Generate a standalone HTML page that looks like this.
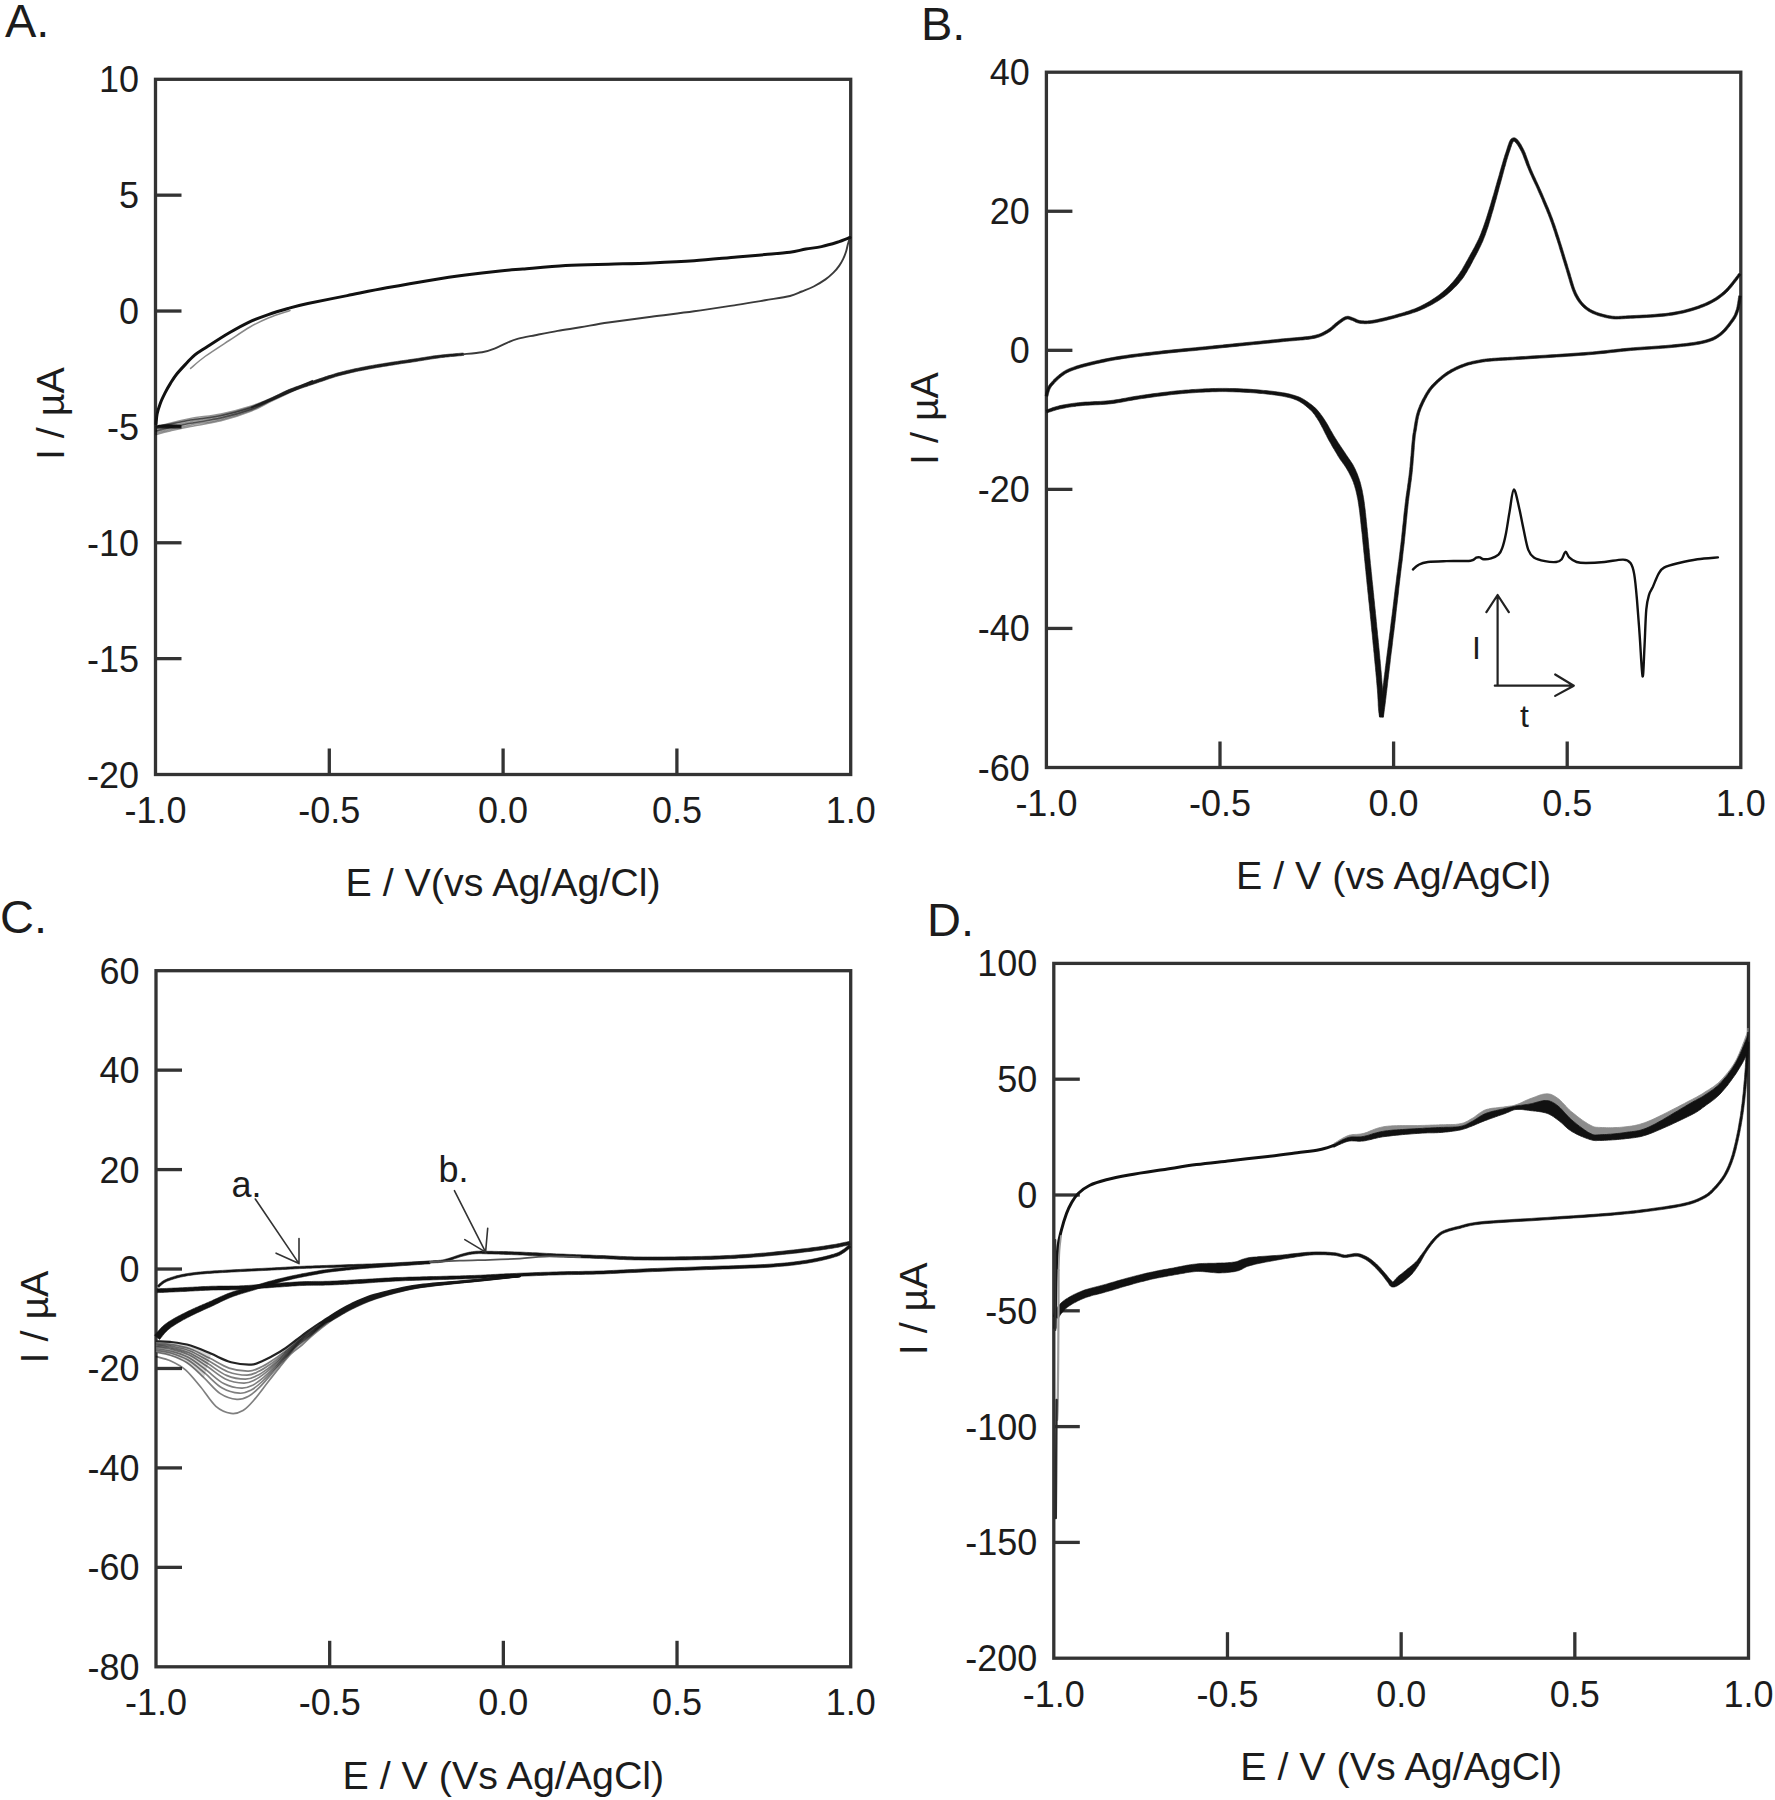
<!DOCTYPE html>
<html><head><meta charset="utf-8"><title>Figure</title>
<style>
html,body{margin:0;padding:0;background:#fff;}
svg{display:block;}
text{font-family:'Liberation Sans', Arial, sans-serif;font-size:36px;fill:#1c1c1c;}
</style></head>
<body>
<svg width="1775" height="1800" viewBox="0 0 1775 1800">
<rect width="1775" height="1800" fill="#fff"/>
<g>
<rect x="155.5" y="79.3" width="695.20" height="695.20" fill="none" stroke="#333" stroke-width="3.3"/>
<line x1="329.30" y1="774.5" x2="329.30" y2="748.5" stroke="#333" stroke-width="3.3"/>
<line x1="503.10" y1="774.5" x2="503.10" y2="748.5" stroke="#333" stroke-width="3.3"/>
<line x1="676.90" y1="774.5" x2="676.90" y2="748.5" stroke="#333" stroke-width="3.3"/>
<text x="155.50" y="823.00" text-anchor="middle">-1.0</text>
<text x="329.30" y="823.00" text-anchor="middle">-0.5</text>
<text x="503.10" y="823.00" text-anchor="middle">0.0</text>
<text x="676.90" y="823.00" text-anchor="middle">0.5</text>
<text x="850.70" y="823.00" text-anchor="middle">1.0</text>
<text x="139.00" y="787.50" text-anchor="end">-20</text>
<line x1="155.5" y1="658.63" x2="181.5" y2="658.63" stroke="#333" stroke-width="3.3"/>
<text x="139.00" y="671.63" text-anchor="end">-15</text>
<line x1="155.5" y1="542.77" x2="181.5" y2="542.77" stroke="#333" stroke-width="3.3"/>
<text x="139.00" y="555.77" text-anchor="end">-10</text>
<line x1="155.5" y1="426.90" x2="181.5" y2="426.90" stroke="#333" stroke-width="3.3"/>
<text x="139.00" y="439.90" text-anchor="end">-5</text>
<line x1="155.5" y1="311.03" x2="181.5" y2="311.03" stroke="#333" stroke-width="3.3"/>
<text x="139.00" y="324.03" text-anchor="end">0</text>
<line x1="155.5" y1="195.17" x2="181.5" y2="195.17" stroke="#333" stroke-width="3.3"/>
<text x="139.00" y="208.17" text-anchor="end">5</text>
<text x="139.00" y="92.30" text-anchor="end">10</text>
<text x="503.10" y="896.20" text-anchor="middle" style="font-size:39.4px">E / V(vs Ag/Ag/Cl)</text>
<rect x="1046.4" y="72.2" width="694.40" height="695.30" fill="none" stroke="#333" stroke-width="3.3"/>
<line x1="1220.00" y1="767.5" x2="1220.00" y2="741.5" stroke="#333" stroke-width="3.3"/>
<line x1="1393.60" y1="767.5" x2="1393.60" y2="741.5" stroke="#333" stroke-width="3.3"/>
<line x1="1567.20" y1="767.5" x2="1567.20" y2="741.5" stroke="#333" stroke-width="3.3"/>
<text x="1046.40" y="816.00" text-anchor="middle">-1.0</text>
<text x="1220.00" y="816.00" text-anchor="middle">-0.5</text>
<text x="1393.60" y="816.00" text-anchor="middle">0.0</text>
<text x="1567.20" y="816.00" text-anchor="middle">0.5</text>
<text x="1740.80" y="816.00" text-anchor="middle">1.0</text>
<text x="1029.90" y="780.50" text-anchor="end">-60</text>
<line x1="1046.4" y1="628.44" x2="1072.4" y2="628.44" stroke="#333" stroke-width="3.3"/>
<text x="1029.90" y="641.44" text-anchor="end">-40</text>
<line x1="1046.4" y1="489.38" x2="1072.4" y2="489.38" stroke="#333" stroke-width="3.3"/>
<text x="1029.90" y="502.38" text-anchor="end">-20</text>
<line x1="1046.4" y1="350.32" x2="1072.4" y2="350.32" stroke="#333" stroke-width="3.3"/>
<text x="1029.90" y="363.32" text-anchor="end">0</text>
<line x1="1046.4" y1="211.26" x2="1072.4" y2="211.26" stroke="#333" stroke-width="3.3"/>
<text x="1029.90" y="224.26" text-anchor="end">20</text>
<text x="1029.90" y="85.20" text-anchor="end">40</text>
<text x="1393.60" y="889.20" text-anchor="middle" style="font-size:39.4px">E / V (vs Ag/AgCl)</text>
<rect x="156.0" y="970.7" width="694.70" height="696.10" fill="none" stroke="#333" stroke-width="3.3"/>
<line x1="329.68" y1="1666.8" x2="329.68" y2="1640.8" stroke="#333" stroke-width="3.3"/>
<line x1="503.35" y1="1666.8" x2="503.35" y2="1640.8" stroke="#333" stroke-width="3.3"/>
<line x1="677.03" y1="1666.8" x2="677.03" y2="1640.8" stroke="#333" stroke-width="3.3"/>
<text x="156.00" y="1715.30" text-anchor="middle">-1.0</text>
<text x="329.68" y="1715.30" text-anchor="middle">-0.5</text>
<text x="503.35" y="1715.30" text-anchor="middle">0.0</text>
<text x="677.03" y="1715.30" text-anchor="middle">0.5</text>
<text x="850.70" y="1715.30" text-anchor="middle">1.0</text>
<text x="139.50" y="1679.80" text-anchor="end">-80</text>
<line x1="156.0" y1="1567.36" x2="182.0" y2="1567.36" stroke="#333" stroke-width="3.3"/>
<text x="139.50" y="1580.36" text-anchor="end">-60</text>
<line x1="156.0" y1="1467.91" x2="182.0" y2="1467.91" stroke="#333" stroke-width="3.3"/>
<text x="139.50" y="1480.91" text-anchor="end">-40</text>
<line x1="156.0" y1="1368.47" x2="182.0" y2="1368.47" stroke="#333" stroke-width="3.3"/>
<text x="139.50" y="1381.47" text-anchor="end">-20</text>
<line x1="156.0" y1="1269.03" x2="182.0" y2="1269.03" stroke="#333" stroke-width="3.3"/>
<text x="139.50" y="1282.03" text-anchor="end">0</text>
<line x1="156.0" y1="1169.59" x2="182.0" y2="1169.59" stroke="#333" stroke-width="3.3"/>
<text x="139.50" y="1182.59" text-anchor="end">20</text>
<line x1="156.0" y1="1070.14" x2="182.0" y2="1070.14" stroke="#333" stroke-width="3.3"/>
<text x="139.50" y="1083.14" text-anchor="end">40</text>
<text x="139.50" y="983.70" text-anchor="end">60</text>
<text x="503.35" y="1788.50" text-anchor="middle" style="font-size:39.4px">E / V (Vs Ag/AgCl)</text>
<rect x="1053.8" y="963.4" width="694.70" height="694.80" fill="none" stroke="#333" stroke-width="3.3"/>
<line x1="1227.47" y1="1658.2" x2="1227.47" y2="1632.2" stroke="#333" stroke-width="3.3"/>
<line x1="1401.15" y1="1658.2" x2="1401.15" y2="1632.2" stroke="#333" stroke-width="3.3"/>
<line x1="1574.83" y1="1658.2" x2="1574.83" y2="1632.2" stroke="#333" stroke-width="3.3"/>
<text x="1053.80" y="1706.70" text-anchor="middle">-1.0</text>
<text x="1227.47" y="1706.70" text-anchor="middle">-0.5</text>
<text x="1401.15" y="1706.70" text-anchor="middle">0.0</text>
<text x="1574.83" y="1706.70" text-anchor="middle">0.5</text>
<text x="1748.50" y="1706.70" text-anchor="middle">1.0</text>
<text x="1037.30" y="1671.20" text-anchor="end">-200</text>
<line x1="1053.8" y1="1542.40" x2="1079.8" y2="1542.40" stroke="#333" stroke-width="3.3"/>
<text x="1037.30" y="1555.40" text-anchor="end">-150</text>
<line x1="1053.8" y1="1426.60" x2="1079.8" y2="1426.60" stroke="#333" stroke-width="3.3"/>
<text x="1037.30" y="1439.60" text-anchor="end">-100</text>
<line x1="1053.8" y1="1310.80" x2="1079.8" y2="1310.80" stroke="#333" stroke-width="3.3"/>
<text x="1037.30" y="1323.80" text-anchor="end">-50</text>
<line x1="1053.8" y1="1195.00" x2="1079.8" y2="1195.00" stroke="#333" stroke-width="3.3"/>
<text x="1037.30" y="1208.00" text-anchor="end">0</text>
<line x1="1053.8" y1="1079.20" x2="1079.8" y2="1079.20" stroke="#333" stroke-width="3.3"/>
<text x="1037.30" y="1092.20" text-anchor="end">50</text>
<text x="1037.30" y="976.40" text-anchor="end">100</text>
<text x="1401.15" y="1779.90" text-anchor="middle" style="font-size:39.4px">E / V (Vs Ag/AgCl)</text>
<text transform="translate(63.6,413.7) rotate(-90)" text-anchor="middle" style="font-size:39.4px">I / &#181;A</text>
<text transform="translate(938.1,418.5) rotate(-90)" text-anchor="middle" style="font-size:39.4px">I / &#181;A</text>
<text transform="translate(48.1,1317.0) rotate(-90)" text-anchor="middle" style="font-size:39.4px">I / &#181;A</text>
<text transform="translate(926.9,1308.8) rotate(-90)" text-anchor="middle" style="font-size:39.4px">I / &#181;A</text>
<text x="231.5" y="1196.5" style="font-size:36px">a.</text>
<text x="438.5" y="1181.5" style="font-size:36px">b.</text>
<text x="1472" y="658.5" style="font-size:32px">I</text>
<text x="1520" y="727" style="font-size:32px">t</text>
<text x="5" y="36.6" style="font-size:47px">A.</text>
<text x="921" y="40" style="font-size:47px">B.</text>
<text x="0" y="933" style="font-size:47px">C.</text>
<text x="927" y="935.8" style="font-size:47px">D.</text>
<path d="M156.0,428.0C157.5,427.4 159.2,426.1 165.0,424.5C170.8,422.9 181.3,420.2 190.6,418.5C199.9,416.8 210.9,416.1 221.0,414.0C231.1,411.9 243.0,408.7 251.4,406.0C259.9,403.3 264.9,400.8 271.7,398.0C278.5,395.2 285.2,392.2 292.0,389.3C298.8,386.4 308.9,382.1 312.3,380.6" fill="none" stroke="#000" stroke-width="1.50" stroke-linecap="round" stroke-linejoin="round" stroke-opacity="0.42"/>
<path d="M156.0,429.3C157.7,428.7 160.2,427.3 166.0,425.8C171.8,424.3 181.4,421.8 190.6,420.1C199.8,418.4 210.9,417.5 221.0,415.4C231.1,413.2 242.9,409.8 251.4,407.0C259.9,404.2 264.9,401.5 271.7,398.6C278.5,395.7 285.2,392.7 292.0,389.7C298.8,386.8 308.9,382.4 312.3,380.9" fill="none" stroke="#000" stroke-width="1.50" stroke-linecap="round" stroke-linejoin="round" stroke-opacity="0.42"/>
<path d="M156.0,430.6C157.8,430.0 161.2,428.6 167.0,427.1C172.8,425.6 181.6,423.4 190.6,421.7C199.6,420.0 210.9,419.0 221.0,416.7C231.1,414.4 243.0,410.9 251.4,408.0C259.9,405.1 264.9,402.2 271.7,399.2C278.5,396.2 285.2,393.2 292.0,390.2C298.8,387.2 308.9,382.7 312.3,381.2" fill="none" stroke="#000" stroke-width="1.50" stroke-linecap="round" stroke-linejoin="round" stroke-opacity="0.42"/>
<path d="M156.0,431.9C158.0,431.3 162.2,429.8 168.0,428.4C173.8,427.0 181.8,425.0 190.6,423.3C199.4,421.6 210.9,420.5 221.0,418.1C231.1,415.7 243.0,412.0 251.4,409.0C259.9,406.0 264.9,402.9 271.7,399.8C278.5,396.7 285.2,393.7 292.0,390.6C298.8,387.6 308.9,383.0 312.3,381.4" fill="none" stroke="#000" stroke-width="1.50" stroke-linecap="round" stroke-linejoin="round" stroke-opacity="0.42"/>
<path d="M156.0,433.2C158.2,432.6 163.2,431.1 169.0,429.7C174.8,428.3 181.9,426.6 190.6,424.9C199.3,423.2 210.9,421.9 221.0,419.4C231.1,417.0 242.9,413.2 251.4,410.0C259.8,406.8 264.9,403.6 271.7,400.4C278.5,397.2 285.2,394.2 292.0,391.1C298.8,387.9 308.9,383.3 312.3,381.7" fill="none" stroke="#000" stroke-width="1.50" stroke-linecap="round" stroke-linejoin="round" stroke-opacity="0.42"/>
<path d="M156.0,434.5C158.3,433.9 164.2,432.3 170.0,431.0C175.8,429.7 182.1,428.2 190.6,426.5C199.1,424.8 210.9,423.4 221.0,420.8C231.1,418.2 243.0,414.3 251.4,411.0C259.9,407.7 264.9,404.2 271.7,401.0C278.5,397.8 285.2,394.7 292.0,391.5C298.8,388.3 308.9,383.6 312.3,382.0" fill="none" stroke="#000" stroke-width="1.50" stroke-linecap="round" stroke-linejoin="round" stroke-opacity="0.42"/>
<path d="M156.0,431.0C158.3,430.4 164.2,428.8 170.0,427.5C175.8,426.2 182.1,424.9 190.6,423.3C199.1,421.7 210.9,420.3 221.0,418.0C231.1,415.7 243.0,412.3 251.4,409.3C259.9,406.3 264.9,403.1 271.7,400.0C278.5,396.9 285.2,393.9 292.0,390.8C298.8,387.7 306.0,384.0 312.3,381.5C318.6,379.0 327.1,376.8 330.0,375.8" fill="none" stroke="#000" stroke-width="1.50" stroke-linecap="round" stroke-linejoin="round" stroke-opacity="0.45"/>
<path d="M156.0,426.5C158.3,426.1 164.2,425.1 170.0,424.0C175.8,422.9 182.1,421.4 190.6,420.0C199.1,418.6 210.9,417.6 221.0,415.5C231.1,413.4 243.0,410.2 251.4,407.5C259.9,404.8 268.3,400.4 271.7,399.0" fill="none" stroke="#000" stroke-width="1.60" stroke-linecap="round" stroke-linejoin="round" stroke-opacity="0.5"/>
<path d="M251.6,408.1 L252.6,407.7 L253.9,407.2 L255.4,406.6 L257.0,406.0 L258.8,405.3 L260.7,404.6 L262.7,403.8 L264.7,403.0 L266.7,402.2 L268.6,401.4 L270.4,400.7 L272.1,400.0 L273.7,399.3 L275.3,398.7 L276.8,398.0 L278.2,397.3 L279.7,396.7 L281.1,396.0 L282.6,395.4 L284.1,394.7 L285.6,394.1 L287.2,393.4 L288.8,392.8 L290.5,392.1 L292.4,391.4 L294.3,390.7 L296.2,390.0 L298.3,389.3 L300.4,388.5 L302.5,387.8 L304.6,387.1 L306.8,386.4 L308.9,385.6 L311.1,384.9 L313.2,384.2 L315.3,383.5 L317.4,382.8 L319.4,382.1 L321.5,381.4 L323.6,380.7 L325.6,380.0 L327.7,379.3 L329.7,378.6 L331.8,377.9 L333.8,377.3 L335.9,376.6 L338.0,376.0 L340.0,375.4 L342.1,374.9 L344.1,374.4 L346.2,373.9 L348.2,373.4 L350.3,372.9 L352.3,372.4 L354.4,372.0 L356.4,371.5 L358.5,371.1 L360.6,370.7 L362.6,370.3 L364.7,369.9 L366.8,369.5 L368.8,369.1 L370.9,368.7 L372.9,368.3 L375.0,367.9 L377.0,367.6 L379.1,367.2 L381.2,366.9 L383.2,366.5 L385.3,366.2 L387.4,365.9 L389.4,365.5 L391.5,365.2 L393.6,364.9 L395.6,364.6 L397.7,364.2 L399.7,363.9 L401.8,363.6 L403.9,363.3 L405.9,363.0 L408.0,362.7 L410.1,362.4 L412.1,362.1 L414.2,361.8 L416.3,361.5 L418.3,361.1 L420.4,360.8 L422.5,360.4 L424.5,360.1 L426.6,359.8 L428.6,359.4 L430.7,359.1 L432.7,358.8 L434.8,358.5 L436.8,358.2 L438.9,357.9 L441.0,357.6 L443.3,357.4 L445.6,357.1 L448.0,356.9 L450.4,356.6 L452.8,356.4 L455.0,356.2 L457.2,356.0 L459.1,355.8 L460.9,355.7 L462.4,355.5 L463.6,355.4 L463.4,353.0 L462.2,353.1 L460.7,353.2 L458.9,353.4 L457.0,353.5 L454.8,353.7 L452.5,353.9 L450.2,354.1 L447.8,354.3 L445.3,354.6 L443.0,354.8 L440.7,355.1 L438.5,355.3 L436.5,355.6 L434.4,355.8 L432.3,356.1 L430.3,356.4 L428.2,356.8 L426.1,357.1 L424.1,357.4 L422.0,357.7 L420.0,358.1 L417.9,358.4 L415.8,358.7 L413.8,359.0 L411.7,359.3 L409.7,359.6 L407.6,359.9 L405.5,360.2 L403.5,360.5 L401.4,360.8 L399.3,361.1 L397.3,361.4 L395.2,361.7 L393.1,362.0 L391.0,362.3 L389.0,362.7 L386.9,363.0 L384.8,363.3 L382.8,363.7 L380.7,364.0 L378.6,364.3 L376.6,364.7 L374.5,365.0 L372.4,365.4 L370.3,365.8 L368.3,366.1 L366.2,366.5 L364.1,366.9 L362.0,367.3 L360.0,367.8 L357.9,368.2 L355.8,368.6 L353.8,369.0 L351.7,369.5 L349.6,370.0 L347.5,370.4 L345.4,370.9 L343.4,371.5 L341.3,372.0 L339.2,372.6 L337.1,373.1 L335.0,373.8 L333.0,374.4 L330.9,375.1 L328.8,375.7 L326.7,376.4 L324.6,377.1 L322.6,377.9 L320.5,378.6 L318.4,379.3 L316.4,380.0 L314.3,380.7 L312.2,381.4 L310.1,382.1 L308.0,382.8 L305.8,383.5 L303.7,384.2 L301.5,385.0 L299.4,385.7 L297.3,386.4 L295.2,387.1 L293.2,387.9 L291.3,388.6 L289.5,389.3 L287.7,390.0 L286.0,390.8 L284.4,391.5 L282.9,392.2 L281.4,393.0 L280.0,393.7 L278.6,394.4 L277.2,395.1 L275.8,395.8 L274.3,396.5 L272.8,397.3 L271.3,398.0 L269.6,398.8 L267.8,399.6 L265.9,400.4 L264.0,401.3 L262.0,402.1 L260.1,403.0 L258.2,403.8 L256.4,404.6 L254.8,405.3 L253.4,405.9 L252.1,406.5 L251.2,406.9Z" fill="#1c1c1c" stroke="#1c1c1c" stroke-width="0.6" stroke-linejoin="round"/>
<path d="M463.5,354.2C466.6,353.9 476.9,353.2 482.1,352.3C487.3,351.4 490.4,350.2 494.5,348.6C498.6,347.0 503.0,344.5 507.0,342.8C511.0,341.1 513.6,340.0 518.3,338.7C523.0,337.4 528.6,336.5 535.2,335.2C541.8,333.9 550.2,332.2 557.7,330.9C565.2,329.6 571.8,328.7 580.3,327.3C588.8,325.9 596.6,324.2 608.4,322.5C620.2,320.8 637.0,318.7 651.3,316.8C665.6,314.9 679.8,313.3 694.1,311.3C708.4,309.3 725.1,306.7 736.9,304.9C748.7,303.1 756.1,301.8 765.0,300.3C773.9,298.8 783.9,297.5 790.0,296.0C796.1,294.5 797.8,293.1 801.8,291.5C805.8,289.9 809.8,288.5 813.7,286.5C817.7,284.5 822.2,281.7 825.5,279.4C828.8,277.1 831.1,275.0 833.4,272.7C835.7,270.4 837.7,267.9 839.3,265.6C840.9,263.3 842.1,261.2 843.2,258.9C844.3,256.6 845.2,254.2 846.0,251.8C846.8,249.4 847.2,246.6 847.8,244.5C848.4,242.4 849.2,239.9 849.5,239.0" fill="none" stroke="#3a3a3a" stroke-width="1.90" stroke-linecap="round" stroke-linejoin="round"/>
<path d="M159.0,426.0C160.5,425.9 164.5,425.5 168.0,425.5C171.5,425.5 178.0,425.9 180.0,426.0" fill="none" stroke="#111" stroke-width="2.50" stroke-linecap="round" stroke-linejoin="round"/>
<path d="M190.6,368.4C193.0,366.4 198.6,361.1 205.0,356.5C211.4,351.9 221.6,345.4 229.1,340.5C236.6,335.6 243.5,330.8 250.0,327.0C256.5,323.2 261.6,320.8 268.3,318.0C275.0,315.2 286.4,311.8 290.0,310.5" fill="none" stroke="#888" stroke-width="1.50" stroke-linecap="round" stroke-linejoin="round"/>
<path d="M156.0,424.0C156.2,422.3 156.4,417.4 157.1,414.0C157.8,410.6 158.8,407.4 160.1,403.9C161.4,400.3 163.5,396.1 165.2,392.7C166.9,389.3 168.4,386.6 170.3,383.6C172.2,380.6 174.0,377.5 176.4,374.5C178.8,371.5 181.5,368.6 184.5,365.4C187.5,362.2 190.9,358.3 194.6,355.2C198.3,352.1 201.1,350.7 206.8,347.0C212.5,343.3 221.9,337.1 228.9,333.0C235.9,328.9 242.0,325.4 248.6,322.3C255.2,319.2 261.7,316.9 268.3,314.6C274.9,312.3 281.4,310.4 288.0,308.5C294.6,306.6 297.9,305.6 307.8,303.5C317.7,301.4 334.1,298.2 347.2,295.6C360.3,293.0 373.5,290.2 386.6,287.8C399.8,285.4 413.0,283.0 426.1,280.9C439.2,278.8 453.2,276.6 465.5,275.0C477.8,273.4 490.4,272.0 500.0,271.0C509.6,270.0 511.9,269.9 522.8,269.0C533.7,268.1 551.3,266.4 565.6,265.6C579.9,264.8 594.1,264.6 608.4,264.2C622.7,263.8 637.0,263.6 651.3,263.0C665.6,262.4 679.8,261.8 694.1,260.8C708.4,259.8 725.1,258.0 736.9,257.0C748.7,256.0 756.1,255.4 765.0,254.6C773.9,253.8 783.2,253.1 790.0,252.2C796.8,251.3 800.5,250.0 805.8,249.1C811.0,248.2 816.2,247.7 821.5,246.6C826.8,245.5 832.5,243.8 837.3,242.3C842.0,240.8 847.9,238.3 850.0,237.5" fill="none" stroke="#111" stroke-width="3.00" stroke-linecap="round" stroke-linejoin="round"/>
<path d="M1738.7,295.8 L1738.6,296.5 L1738.5,297.4 L1738.3,298.4 L1738.2,299.6 L1738.0,300.8 L1737.8,302.1 L1737.6,303.5 L1737.3,304.8 L1737.1,306.2 L1736.8,307.4 L1736.6,308.6 L1736.3,309.6 L1735.9,310.6 L1735.6,311.5 L1735.3,312.3 L1735.0,313.1 L1734.7,313.9 L1734.4,314.7 L1734.0,315.4 L1733.5,316.2 L1733.1,317.0 L1732.5,317.9 L1731.9,318.8 L1731.2,319.7 L1730.5,320.8 L1729.6,322.0 L1728.7,323.2 L1727.8,324.4 L1726.8,325.7 L1725.8,327.0 L1724.7,328.2 L1723.6,329.5 L1722.5,330.6 L1721.3,331.7 L1720.2,332.7 L1719.0,333.7 L1717.9,334.5 L1716.7,335.3 L1715.6,336.0 L1714.5,336.6 L1713.3,337.2 L1712.1,337.8 L1710.8,338.3 L1709.5,338.8 L1708.0,339.3 L1706.4,339.8 L1704.7,340.3 L1702.8,340.7 L1700.8,341.2 L1698.6,341.6 L1696.3,342.0 L1693.9,342.4 L1691.4,342.7 L1688.8,343.1 L1686.2,343.4 L1683.4,343.7 L1680.6,344.0 L1677.7,344.3 L1674.7,344.6 L1671.7,344.9 L1668.6,345.2 L1665.4,345.5 L1662.0,345.7 L1658.6,346.0 L1655.1,346.2 L1651.6,346.5 L1648.0,346.7 L1644.4,346.9 L1640.8,347.2 L1637.2,347.4 L1633.6,347.7 L1630.1,348.0 L1626.7,348.3 L1623.4,348.6 L1620.1,349.0 L1616.9,349.3 L1613.7,349.7 L1610.5,350.0 L1607.2,350.4 L1603.8,350.8 L1600.3,351.1 L1596.5,351.5 L1592.6,351.9 L1588.4,352.2 L1583.8,352.6 L1578.8,352.9 L1573.5,353.3 L1567.9,353.7 L1562.2,354.1 L1556.4,354.5 L1550.7,354.8 L1545.1,355.2 L1539.7,355.5 L1534.7,355.8 L1530.0,356.1 L1525.8,356.4 L1522.1,356.6 L1518.7,356.8 L1515.5,357.0 L1512.6,357.2 L1509.9,357.3 L1507.4,357.5 L1505.1,357.6 L1502.9,357.7 L1500.8,357.8 L1498.8,357.9 L1496.8,358.1 L1494.9,358.2 L1493.1,358.3 L1491.5,358.5 L1490.0,358.6 L1488.7,358.7 L1487.5,358.8 L1486.4,358.9 L1485.4,359.0 L1484.3,359.2 L1483.3,359.3 L1482.2,359.5 L1481.0,359.7 L1479.8,359.9 L1478.5,360.2 L1477.1,360.4 L1475.8,360.7 L1474.5,360.9 L1473.1,361.2 L1471.8,361.5 L1470.4,361.9 L1469.1,362.2 L1467.7,362.6 L1466.3,363.0 L1464.9,363.5 L1463.6,364.0 L1462.2,364.5 L1460.8,365.0 L1459.4,365.6 L1458.0,366.2 L1456.6,366.8 L1455.2,367.5 L1453.8,368.2 L1452.4,368.9 L1451.0,369.6 L1449.7,370.4 L1448.3,371.3 L1447.0,372.1 L1445.6,373.0 L1444.3,374.0 L1443.0,375.0 L1441.6,376.1 L1440.3,377.2 L1439.0,378.3 L1437.7,379.4 L1436.4,380.5 L1435.2,381.7 L1434.1,382.8 L1433.0,383.9 L1431.9,385.0 L1431.0,386.1 L1430.1,387.2 L1429.3,388.2 L1428.5,389.3 L1427.8,390.3 L1427.1,391.4 L1426.4,392.4 L1425.8,393.5 L1425.2,394.6 L1424.6,395.6 L1424.0,396.8 L1423.4,397.9 L1422.7,399.0 L1422.1,400.2 L1421.5,401.4 L1421.0,402.6 L1420.4,403.9 L1419.8,405.1 L1419.3,406.4 L1418.8,407.7 L1418.3,409.0 L1417.8,410.3 L1417.4,411.6 L1417.0,412.9 L1416.6,414.3 L1416.2,415.7 L1415.9,417.2 L1415.6,418.7 L1415.3,420.2 L1415.0,421.7 L1414.8,423.1 L1414.5,424.6 L1414.3,426.0 L1414.1,427.3 L1413.9,428.6 L1413.7,429.8 L1413.5,430.8 L1413.4,431.7 L1413.3,432.5 L1413.1,433.1 L1413.0,433.8 L1412.9,434.4 L1412.8,435.1 L1412.7,435.9 L1412.6,436.8 L1412.5,437.9 L1412.4,439.3 L1412.2,440.9 L1412.0,442.8 L1411.8,444.9 L1411.6,447.2 L1411.4,449.8 L1411.2,452.4 L1411.0,455.2 L1410.7,458.0 L1410.5,460.9 L1410.2,463.7 L1410.0,466.6 L1409.7,469.4 L1409.4,472.0 L1409.1,474.7 L1408.8,477.2 L1408.4,479.8 L1408.1,482.4 L1407.7,484.9 L1407.4,487.5 L1407.0,490.2 L1406.6,492.8 L1406.2,495.6 L1405.8,498.4 L1405.5,501.2 L1405.1,504.2 L1404.8,507.3 L1404.4,510.5 L1404.0,513.7 L1403.7,517.1 L1403.4,520.5 L1403.0,523.9 L1402.6,527.3 L1402.3,530.8 L1401.9,534.3 L1401.6,537.7 L1401.2,541.1 L1400.8,544.5 L1400.4,547.9 L1400.0,551.2 L1399.6,554.6 L1399.2,557.9 L1398.8,561.3 L1398.3,564.6 L1397.9,568.0 L1397.5,571.4 L1397.0,574.7 L1396.6,578.1 L1396.2,581.4 L1395.8,584.8 L1395.3,588.1 L1394.9,591.5 L1394.5,594.9 L1394.1,598.2 L1393.7,601.6 L1393.3,604.9 L1392.9,608.3 L1392.5,611.6 L1392.1,615.0 L1391.6,618.4 L1391.2,621.7 L1390.8,625.1 L1390.4,628.5 L1390.0,631.9 L1389.5,635.3 L1389.1,638.8 L1388.6,642.3 L1388.2,645.7 L1387.8,649.1 L1387.3,652.5 L1386.9,655.9 L1386.5,659.1 L1386.1,662.3 L1385.7,665.4 L1385.3,668.4 L1385.0,671.3 L1384.6,674.3 L1384.2,677.2 L1383.9,680.0 L1383.6,682.8 L1383.2,685.5 L1382.9,688.1 L1382.6,690.6 L1382.3,693.0 L1382.0,695.3 L1381.7,697.5 L1381.5,699.7 L1381.2,701.7 L1381.0,703.7 L1380.7,705.6 L1380.5,707.4 L1380.3,709.2 L1380.1,710.8 L1379.9,712.2 L1379.8,713.6 L1379.6,714.8 L1379.5,715.9 L1379.4,716.8 L1383.4,717.2 L1383.5,716.4 L1383.6,715.3 L1383.8,714.1 L1384.0,712.8 L1384.2,711.3 L1384.4,709.7 L1384.6,707.9 L1384.9,706.1 L1385.1,704.2 L1385.4,702.2 L1385.6,700.2 L1385.9,698.1 L1386.1,695.9 L1386.4,693.5 L1386.7,691.1 L1387.0,688.6 L1387.3,686.0 L1387.6,683.3 L1387.9,680.5 L1388.3,677.7 L1388.6,674.8 L1389.0,671.8 L1389.3,668.9 L1389.7,665.8 L1390.1,662.8 L1390.4,659.6 L1390.8,656.3 L1391.2,653.0 L1391.7,649.6 L1392.1,646.2 L1392.5,642.7 L1392.9,639.3 L1393.3,635.8 L1393.8,632.3 L1394.2,628.9 L1394.6,625.5 L1395.0,622.2 L1395.4,618.8 L1395.8,615.4 L1396.1,612.1 L1396.5,608.7 L1396.9,605.4 L1397.3,602.0 L1397.7,598.6 L1398.1,595.3 L1398.5,591.9 L1398.8,588.6 L1399.2,585.2 L1399.6,581.9 L1400.0,578.5 L1400.4,575.1 L1400.8,571.8 L1401.2,568.4 L1401.6,565.1 L1402.1,561.7 L1402.5,558.3 L1402.8,555.0 L1403.2,551.6 L1403.6,548.2 L1404.0,544.9 L1404.4,541.5 L1404.7,538.1 L1405.1,534.6 L1405.4,531.1 L1405.8,527.7 L1406.1,524.2 L1406.4,520.8 L1406.8,517.4 L1407.1,514.1 L1407.4,510.8 L1407.8,507.6 L1408.1,504.6 L1408.4,501.6 L1408.8,498.7 L1409.1,496.0 L1409.5,493.2 L1409.9,490.6 L1410.2,487.9 L1410.6,485.3 L1410.9,482.8 L1411.3,480.2 L1411.6,477.6 L1411.9,475.0 L1412.2,472.4 L1412.5,469.6 L1412.7,466.8 L1413.0,464.0 L1413.2,461.1 L1413.4,458.2 L1413.7,455.4 L1413.9,452.6 L1414.1,450.0 L1414.3,447.5 L1414.4,445.1 L1414.6,443.0 L1414.8,441.1 L1415.0,439.5 L1415.1,438.2 L1415.2,437.1 L1415.3,436.2 L1415.4,435.4 L1415.5,434.8 L1415.6,434.2 L1415.7,433.6 L1415.8,432.9 L1415.9,432.2 L1416.1,431.3 L1416.3,430.2 L1416.5,429.0 L1416.7,427.7 L1416.9,426.4 L1417.1,425.0 L1417.3,423.6 L1417.6,422.1 L1417.8,420.6 L1418.1,419.2 L1418.4,417.7 L1418.7,416.3 L1419.1,415.0 L1419.4,413.7 L1419.8,412.4 L1420.3,411.1 L1420.7,409.9 L1421.2,408.6 L1421.7,407.4 L1422.2,406.2 L1422.8,404.9 L1423.3,403.8 L1423.9,402.6 L1424.5,401.4 L1425.0,400.3 L1425.6,399.1 L1426.2,398.0 L1426.8,396.9 L1427.4,395.8 L1428.0,394.8 L1428.6,393.8 L1429.3,392.8 L1429.9,391.8 L1430.6,390.8 L1431.3,389.8 L1432.1,388.8 L1433.0,387.8 L1433.9,386.8 L1434.8,385.7 L1435.9,384.7 L1437.0,383.6 L1438.2,382.5 L1439.4,381.3 L1440.7,380.2 L1441.9,379.2 L1443.2,378.1 L1444.5,377.1 L1445.8,376.1 L1447.1,375.2 L1448.4,374.3 L1449.7,373.5 L1451.0,372.7 L1452.3,371.9 L1453.6,371.2 L1455.0,370.5 L1456.3,369.8 L1457.7,369.2 L1459.1,368.6 L1460.4,368.0 L1461.8,367.5 L1463.1,366.9 L1464.4,366.4 L1465.8,365.9 L1467.1,365.5 L1468.4,365.1 L1469.7,364.7 L1471.1,364.4 L1472.4,364.1 L1473.7,363.8 L1475.0,363.5 L1476.3,363.2 L1477.6,363.0 L1478.9,362.7 L1480.2,362.5 L1481.5,362.3 L1482.6,362.1 L1483.6,361.9 L1484.7,361.8 L1485.7,361.6 L1486.7,361.5 L1487.8,361.4 L1489.0,361.3 L1490.3,361.2 L1491.7,361.1 L1493.3,360.9 L1495.1,360.8 L1497.0,360.7 L1498.9,360.5 L1500.9,360.4 L1503.0,360.3 L1505.2,360.2 L1507.5,360.1 L1510.0,359.9 L1512.7,359.8 L1515.6,359.6 L1518.8,359.4 L1522.2,359.2 L1526.0,359.0 L1530.2,358.7 L1534.8,358.4 L1539.9,358.1 L1545.3,357.8 L1550.9,357.4 L1556.6,357.0 L1562.4,356.7 L1568.1,356.3 L1573.7,355.9 L1579.0,355.5 L1584.0,355.2 L1588.6,354.8 L1592.8,354.4 L1596.8,354.1 L1600.5,353.7 L1604.1,353.4 L1607.5,353.0 L1610.8,352.6 L1614.0,352.3 L1617.2,351.9 L1620.4,351.6 L1623.6,351.2 L1626.9,350.9 L1630.3,350.6 L1633.8,350.3 L1637.4,350.0 L1640.9,349.8 L1644.5,349.5 L1648.1,349.3 L1651.7,349.0 L1655.3,348.8 L1658.8,348.6 L1662.2,348.3 L1665.6,348.1 L1668.8,347.8 L1671.9,347.5 L1674.9,347.2 L1677.9,346.9 L1680.8,346.6 L1683.7,346.3 L1686.5,346.0 L1689.2,345.7 L1691.8,345.3 L1694.3,345.0 L1696.8,344.6 L1699.1,344.2 L1701.3,343.7 L1703.4,343.3 L1705.3,342.8 L1707.1,342.3 L1708.8,341.8 L1710.3,341.3 L1711.8,340.7 L1713.2,340.2 L1714.5,339.6 L1715.7,338.9 L1716.9,338.2 L1718.1,337.4 L1719.3,336.6 L1720.6,335.7 L1721.8,334.7 L1723.1,333.6 L1724.3,332.5 L1725.5,331.2 L1726.7,329.9 L1727.8,328.6 L1728.8,327.3 L1729.9,326.0 L1730.8,324.7 L1731.7,323.5 L1732.6,322.3 L1733.4,321.3 L1734.1,320.2 L1734.7,319.3 L1735.3,318.4 L1735.8,317.5 L1736.3,316.6 L1736.7,315.8 L1737.1,315.0 L1737.4,314.1 L1737.8,313.2 L1738.1,312.3 L1738.4,311.4 L1738.7,310.4 L1739.1,309.2 L1739.4,308.0 L1739.6,306.7 L1739.9,305.3 L1740.1,303.9 L1740.4,302.5 L1740.6,301.2 L1740.7,299.9 L1740.9,298.8 L1741.0,297.7 L1741.2,296.9 L1741.3,296.2Z" fill="#111" stroke="#111" stroke-width="0.6" stroke-linejoin="round"/>
<path d="M1047.9,396.4 L1047.9,396.0 L1048.1,395.5 L1048.2,395.0 L1048.3,394.5 L1048.5,393.8 L1048.6,393.2 L1048.8,392.5 L1049.0,391.9 L1049.2,391.2 L1049.4,390.6 L1049.6,390.1 L1049.8,389.6 L1050.0,389.1 L1050.2,388.7 L1050.4,388.2 L1050.7,387.8 L1050.9,387.5 L1051.1,387.1 L1051.4,386.7 L1051.7,386.3 L1052.0,385.9 L1052.4,385.4 L1052.8,384.9 L1053.2,384.4 L1053.8,383.9 L1054.3,383.3 L1054.9,382.6 L1055.5,382.0 L1056.2,381.3 L1056.8,380.6 L1057.5,379.9 L1058.2,379.3 L1059.0,378.6 L1059.7,378.0 L1060.4,377.4 L1061.2,376.8 L1061.9,376.3 L1062.6,375.7 L1063.3,375.2 L1064.0,374.7 L1064.6,374.2 L1065.3,373.8 L1066.1,373.3 L1066.9,372.9 L1067.7,372.4 L1068.7,372.0 L1069.7,371.5 L1070.9,371.0 L1072.2,370.5 L1073.5,370.0 L1075.0,369.5 L1076.5,369.0 L1078.0,368.5 L1079.7,368.0 L1081.4,367.5 L1083.2,367.0 L1085.0,366.5 L1087.0,366.0 L1089.0,365.5 L1091.0,365.0 L1093.2,364.5 L1095.4,363.9 L1097.7,363.4 L1100.0,362.9 L1102.4,362.4 L1104.9,361.9 L1107.5,361.3 L1110.1,360.8 L1112.8,360.3 L1115.6,359.8 L1118.4,359.4 L1121.3,358.9 L1124.3,358.4 L1127.5,358.0 L1130.7,357.5 L1134.1,357.1 L1137.5,356.6 L1140.9,356.2 L1144.4,355.8 L1148.0,355.4 L1151.5,355.0 L1155.0,354.6 L1158.4,354.2 L1161.9,353.8 L1165.2,353.4 L1168.6,353.1 L1172.0,352.7 L1175.3,352.4 L1178.7,352.1 L1182.1,351.7 L1185.5,351.4 L1188.8,351.1 L1192.2,350.8 L1195.6,350.5 L1199.0,350.1 L1202.3,349.8 L1205.7,349.5 L1209.1,349.1 L1212.5,348.8 L1215.9,348.4 L1219.3,348.1 L1222.6,347.7 L1226.0,347.4 L1229.4,347.1 L1232.8,346.7 L1236.2,346.4 L1239.6,346.0 L1242.9,345.7 L1246.4,345.3 L1249.8,345.0 L1253.3,344.6 L1256.9,344.3 L1260.4,343.9 L1263.9,343.6 L1267.3,343.2 L1270.8,342.9 L1274.1,342.6 L1277.4,342.2 L1280.5,341.9 L1283.5,341.6 L1286.5,341.3 L1289.4,341.0 L1292.2,340.8 L1295.0,340.6 L1297.7,340.3 L1300.4,340.1 L1302.9,339.9 L1305.4,339.6 L1307.7,339.4 L1310.0,339.1 L1312.1,338.7 L1314.1,338.4 L1315.9,338.0 L1317.5,337.5 L1319.0,337.1 L1320.4,336.6 L1321.6,336.1 L1322.8,335.6 L1323.8,335.1 L1324.8,334.6 L1325.8,334.0 L1326.8,333.4 L1327.7,332.9 L1328.7,332.3 L1329.8,331.7 L1330.8,331.0 L1331.7,330.3 L1332.6,329.5 L1333.5,328.8 L1334.4,328.0 L1335.2,327.3 L1336.0,326.6 L1336.7,325.9 L1337.5,325.3 L1338.2,324.7 L1338.9,324.1 L1339.7,323.6 L1340.4,323.0 L1341.1,322.5 L1341.8,322.0 L1342.5,321.5 L1343.2,321.0 L1343.8,320.6 L1344.4,320.2 L1345.0,319.9 L1345.6,319.6 L1346.1,319.4 L1346.6,319.2 L1347.0,319.1 L1347.4,319.1 L1347.8,319.1 L1348.1,319.1 L1348.5,319.2 L1348.9,319.3 L1349.3,319.4 L1349.7,319.6 L1350.2,319.8 L1350.7,320.0 L1351.3,320.2 L1351.9,320.3 L1352.4,320.5 L1352.9,320.7 L1353.4,321.0 L1354.0,321.2 L1354.6,321.5 L1355.2,321.9 L1355.9,322.2 L1356.7,322.5 L1357.5,322.8 L1358.3,323.0 L1359.3,323.2 L1360.2,323.4 L1361.2,323.5 L1362.2,323.6 L1363.2,323.6 L1364.2,323.7 L1365.3,323.7 L1366.4,323.7 L1367.6,323.6 L1368.9,323.6 L1370.2,323.4 L1371.6,323.3 L1373.2,323.1 L1374.8,322.8 L1376.6,322.4 L1378.6,322.0 L1380.7,321.6 L1383.0,321.1 L1385.3,320.5 L1387.6,319.9 L1390.0,319.3 L1392.4,318.7 L1394.7,318.1 L1397.0,317.4 L1399.1,316.8 L1401.2,316.2 L1403.1,315.7 L1405.0,315.2 L1406.8,314.7 L1408.6,314.2 L1410.4,313.7 L1412.1,313.1 L1413.8,312.6 L1415.5,312.0 L1417.2,311.4 L1418.9,310.7 L1420.7,310.0 L1422.4,309.2 L1424.2,308.4 L1426.1,307.5 L1427.9,306.6 L1429.7,305.7 L1431.6,304.7 L1433.4,303.7 L1435.2,302.6 L1437.0,301.6 L1438.8,300.4 L1440.5,299.3 L1442.3,298.1 L1443.9,296.9 L1445.5,295.7 L1447.1,294.4 L1448.7,293.1 L1450.2,291.8 L1451.7,290.4 L1453.1,289.0 L1454.6,287.6 L1456.0,286.2 L1457.4,284.7 L1458.7,283.2 L1460.0,281.6 L1461.3,280.1 L1462.6,278.4 L1463.8,276.7 L1464.9,274.9 L1466.0,273.2 L1467.1,271.4 L1468.1,269.6 L1469.2,267.8 L1470.2,266.0 L1471.1,264.2 L1472.1,262.4 L1473.0,260.6 L1474.0,258.8 L1474.9,257.1 L1475.8,255.4 L1476.7,253.7 L1477.6,252.0 L1478.5,250.2 L1479.3,248.5 L1480.2,246.8 L1481.0,245.0 L1481.8,243.2 L1482.7,241.4 L1483.4,239.5 L1484.2,237.6 L1485.0,235.6 L1485.7,233.6 L1486.4,231.6 L1487.1,229.5 L1487.8,227.5 L1488.5,225.4 L1489.1,223.3 L1489.8,221.1 L1490.4,219.0 L1491.1,216.8 L1491.7,214.5 L1492.4,212.3 L1493.1,210.0 L1493.8,207.6 L1494.4,205.2 L1495.1,202.8 L1495.8,200.3 L1496.5,197.9 L1497.1,195.4 L1497.8,192.9 L1498.5,190.4 L1499.1,187.9 L1499.8,185.4 L1500.5,183.0 L1501.2,180.5 L1501.9,177.9 L1502.6,175.3 L1503.3,172.7 L1504.0,170.1 L1504.7,167.4 L1505.5,164.9 L1506.1,162.4 L1506.8,160.1 L1507.5,157.8 L1508.1,155.8 L1508.7,153.9 L1509.3,152.1 L1509.9,150.4 L1510.4,148.8 L1510.9,147.3 L1511.4,145.9 L1511.8,144.6 L1512.3,143.5 L1512.7,142.6 L1513.1,141.9 L1513.5,141.4 L1513.8,141.2 L1513.9,141.1 L1513.9,141.1 L1514.0,141.2 L1514.4,141.4 L1514.9,141.8 L1515.5,142.4 L1516.2,143.2 L1516.9,144.1 L1517.6,145.1 L1518.3,146.2 L1519.1,147.4 L1519.8,148.7 L1520.5,149.9 L1521.2,151.2 L1521.8,152.6 L1522.5,154.1 L1523.2,155.8 L1523.8,157.5 L1524.5,159.3 L1525.2,161.1 L1525.9,163.0 L1526.6,164.9 L1527.4,166.8 L1528.1,168.6 L1528.9,170.5 L1529.7,172.4 L1530.5,174.2 L1531.4,176.1 L1532.2,178.0 L1533.1,179.9 L1534.0,181.8 L1534.9,183.7 L1535.8,185.6 L1536.7,187.6 L1537.6,189.6 L1538.4,191.5 L1539.3,193.5 L1540.2,195.5 L1541.1,197.6 L1542.0,199.6 L1542.8,201.7 L1543.7,203.8 L1544.6,205.9 L1545.5,208.0 L1546.4,210.1 L1547.2,212.2 L1548.1,214.3 L1548.9,216.4 L1549.7,218.5 L1550.4,220.5 L1551.2,222.6 L1551.9,224.6 L1552.6,226.7 L1553.3,228.7 L1554.0,230.8 L1554.7,232.8 L1555.3,234.9 L1556.0,237.0 L1556.7,239.1 L1557.4,241.2 L1558.1,243.4 L1558.8,245.6 L1559.4,247.8 L1560.1,250.1 L1560.8,252.3 L1561.5,254.6 L1562.2,256.9 L1562.9,259.2 L1563.6,261.5 L1564.3,263.8 L1565.0,266.1 L1565.7,268.3 L1566.4,270.5 L1567.0,272.7 L1567.7,274.9 L1568.3,277.1 L1569.0,279.3 L1569.6,281.6 L1570.3,283.8 L1571.0,285.9 L1571.7,288.0 L1572.4,290.1 L1573.2,292.1 L1574.0,293.9 L1574.8,295.7 L1575.7,297.3 L1576.6,298.9 L1577.6,300.4 L1578.5,301.8 L1579.5,303.1 L1580.5,304.3 L1581.5,305.5 L1582.7,306.7 L1583.8,307.8 L1585.1,308.8 L1586.4,309.8 L1587.8,310.8 L1589.3,311.7 L1590.9,312.6 L1592.6,313.4 L1594.3,314.1 L1596.1,314.8 L1598.0,315.5 L1599.8,316.1 L1601.7,316.6 L1603.6,317.1 L1605.4,317.6 L1607.3,317.9 L1609.1,318.3 L1610.8,318.6 L1612.4,318.8 L1613.9,318.9 L1615.5,319.0 L1617.0,319.0 L1618.5,318.9 L1620.1,318.9 L1621.8,318.8 L1623.6,318.7 L1625.6,318.6 L1627.8,318.4 L1630.3,318.3 L1633.0,318.2 L1636.1,318.0 L1639.4,317.9 L1643.0,317.7 L1646.7,317.5 L1650.4,317.3 L1654.2,317.0 L1658.0,316.7 L1661.8,316.4 L1665.4,316.1 L1668.8,315.6 L1672.0,315.2 L1675.0,314.7 L1678.0,314.1 L1680.9,313.5 L1683.7,312.9 L1686.4,312.2 L1689.1,311.5 L1691.7,310.8 L1694.2,310.0 L1696.7,309.2 L1699.0,308.4 L1701.3,307.6 L1703.6,306.7 L1705.7,305.8 L1707.8,304.9 L1709.7,304.0 L1711.6,303.0 L1713.4,302.0 L1715.2,301.0 L1716.9,300.0 L1718.5,298.9 L1720.1,297.7 L1721.7,296.5 L1723.3,295.3 L1724.9,294.0 L1726.5,292.5 L1728.1,290.9 L1729.7,289.1 L1731.3,287.3 L1732.8,285.4 L1734.3,283.5 L1735.7,281.7 L1737.1,280.0 L1738.3,278.3 L1739.3,276.9 L1740.3,275.7 L1741.0,274.8 L1739.0,273.2 L1738.2,274.1 L1737.3,275.4 L1736.2,276.8 L1735.0,278.4 L1733.7,280.1 L1732.3,281.9 L1730.8,283.8 L1729.3,285.6 L1727.7,287.4 L1726.2,289.1 L1724.7,290.6 L1723.1,292.0 L1721.6,293.3 L1720.1,294.5 L1718.6,295.6 L1717.0,296.7 L1715.5,297.8 L1713.8,298.8 L1712.2,299.8 L1710.4,300.7 L1708.6,301.6 L1706.7,302.5 L1704.7,303.4 L1702.6,304.3 L1700.4,305.1 L1698.2,306.0 L1695.8,306.8 L1693.4,307.6 L1691.0,308.3 L1688.4,309.0 L1685.8,309.7 L1683.1,310.4 L1680.3,311.0 L1677.5,311.6 L1674.6,312.1 L1671.6,312.6 L1668.5,313.1 L1665.1,313.5 L1661.5,313.8 L1657.8,314.1 L1654.1,314.4 L1650.3,314.7 L1646.5,314.9 L1642.8,315.1 L1639.3,315.3 L1636.0,315.4 L1632.9,315.6 L1630.1,315.7 L1627.7,315.8 L1625.4,316.0 L1623.4,316.1 L1621.6,316.2 L1620.0,316.3 L1618.4,316.4 L1617.0,316.4 L1615.5,316.4 L1614.1,316.3 L1612.7,316.2 L1611.2,316.0 L1609.5,315.7 L1607.8,315.4 L1606.0,315.0 L1604.2,314.6 L1602.4,314.1 L1600.6,313.6 L1598.8,313.0 L1597.0,312.4 L1595.3,311.7 L1593.7,311.0 L1592.1,310.3 L1590.6,309.5 L1589.2,308.6 L1587.9,307.7 L1586.7,306.8 L1585.6,305.8 L1584.5,304.8 L1583.4,303.8 L1582.5,302.7 L1581.5,301.5 L1580.6,300.3 L1579.7,298.9 L1578.9,297.6 L1578.0,296.1 L1577.2,294.5 L1576.3,292.8 L1575.6,291.1 L1574.8,289.2 L1574.1,287.2 L1573.4,285.1 L1572.8,283.0 L1572.1,280.8 L1571.5,278.6 L1570.8,276.4 L1570.2,274.1 L1569.5,271.9 L1568.8,269.7 L1568.1,267.5 L1567.5,265.3 L1566.8,263.0 L1566.1,260.8 L1565.4,258.5 L1564.7,256.2 L1564.0,253.9 L1563.3,251.6 L1562.6,249.3 L1561.9,247.0 L1561.2,244.8 L1560.5,242.6 L1559.8,240.4 L1559.2,238.3 L1558.5,236.2 L1557.8,234.1 L1557.1,232.0 L1556.5,230.0 L1555.8,227.9 L1555.1,225.8 L1554.4,223.8 L1553.6,221.7 L1552.9,219.6 L1552.1,217.5 L1551.3,215.4 L1550.5,213.3 L1549.6,211.2 L1548.8,209.1 L1547.9,207.0 L1547.0,204.9 L1546.1,202.8 L1545.2,200.7 L1544.3,198.6 L1543.4,196.5 L1542.6,194.5 L1541.7,192.5 L1540.8,190.5 L1539.9,188.5 L1539.0,186.5 L1538.1,184.6 L1537.2,182.6 L1536.3,180.7 L1535.5,178.8 L1534.6,176.9 L1533.7,175.0 L1532.9,173.2 L1532.1,171.3 L1531.3,169.5 L1530.6,167.7 L1529.8,165.8 L1529.1,163.9 L1528.5,162.0 L1527.8,160.1 L1527.1,158.3 L1526.5,156.5 L1525.8,154.7 L1525.2,153.0 L1524.5,151.4 L1523.8,149.9 L1523.1,148.5 L1522.4,147.2 L1521.7,145.9 L1521.0,144.6 L1520.2,143.4 L1519.5,142.3 L1518.7,141.2 L1518.0,140.2 L1517.2,139.4 L1516.3,138.7 L1515.3,138.1 L1514.2,137.8 L1512.9,137.9 L1511.9,138.4 L1511.0,139.1 L1510.3,140.0 L1509.8,141.1 L1509.2,142.2 L1508.8,143.4 L1508.3,144.8 L1507.8,146.3 L1507.3,147.8 L1506.8,149.4 L1506.3,151.1 L1505.7,152.9 L1505.0,154.8 L1504.4,156.9 L1503.7,159.1 L1503.0,161.5 L1502.3,164.0 L1501.5,166.5 L1500.8,169.1 L1500.0,171.8 L1499.3,174.4 L1498.6,177.0 L1497.8,179.6 L1497.1,182.0 L1496.4,184.5 L1495.7,186.9 L1495.0,189.4 L1494.3,191.9 L1493.6,194.4 L1492.8,196.9 L1492.1,199.3 L1491.4,201.8 L1490.7,204.2 L1490.0,206.5 L1489.3,208.8 L1488.6,211.1 L1487.9,213.3 L1487.2,215.6 L1486.5,217.7 L1485.8,219.9 L1485.1,222.0 L1484.4,224.1 L1483.7,226.1 L1483.0,228.1 L1482.2,230.1 L1481.5,232.0 L1480.8,233.9 L1480.0,235.8 L1479.2,237.7 L1478.4,239.5 L1477.5,241.2 L1476.7,242.9 L1475.8,244.6 L1475.0,246.3 L1474.1,248.0 L1473.2,249.6 L1472.3,251.3 L1471.3,253.0 L1470.4,254.6 L1469.4,256.4 L1468.5,258.1 L1467.5,259.9 L1466.5,261.6 L1465.5,263.4 L1464.5,265.2 L1463.5,266.9 L1462.5,268.7 L1461.5,270.4 L1460.4,272.0 L1459.3,273.7 L1458.2,275.2 L1457.1,276.7 L1455.9,278.3 L1454.7,279.8 L1453.5,281.2 L1452.2,282.7 L1450.9,284.1 L1449.6,285.5 L1448.3,286.9 L1446.9,288.2 L1445.5,289.5 L1444.0,290.8 L1442.6,292.1 L1441.1,293.3 L1439.6,294.5 L1438.0,295.7 L1436.4,296.8 L1434.7,298.0 L1433.0,299.1 L1431.3,300.2 L1429.6,301.3 L1427.9,302.3 L1426.1,303.3 L1424.4,304.2 L1422.7,305.1 L1421.0,306.0 L1419.3,306.8 L1417.6,307.6 L1416.0,308.3 L1414.4,308.9 L1412.7,309.5 L1411.1,310.1 L1409.4,310.7 L1407.7,311.3 L1406.0,311.8 L1404.2,312.4 L1402.3,313.0 L1400.4,313.6 L1398.4,314.1 L1396.2,314.7 L1394.0,315.4 L1391.7,316.0 L1389.3,316.6 L1386.9,317.2 L1384.6,317.8 L1382.3,318.3 L1380.1,318.8 L1378.0,319.3 L1376.1,319.7 L1374.4,320.0 L1372.8,320.3 L1371.3,320.5 L1369.9,320.7 L1368.6,320.8 L1367.5,320.9 L1366.3,320.9 L1365.3,320.9 L1364.3,320.9 L1363.3,320.8 L1362.4,320.8 L1361.5,320.7 L1360.6,320.6 L1359.8,320.5 L1359.0,320.3 L1358.3,320.1 L1357.7,319.9 L1357.1,319.6 L1356.5,319.3 L1355.9,319.0 L1355.3,318.7 L1354.6,318.4 L1354.0,318.1 L1353.4,317.9 L1352.7,317.7 L1352.2,317.5 L1351.7,317.3 L1351.2,317.1 L1350.7,316.9 L1350.2,316.8 L1349.6,316.6 L1349.1,316.5 L1348.5,316.3 L1347.9,316.3 L1347.2,316.3 L1346.5,316.4 L1345.8,316.6 L1345.1,316.8 L1344.4,317.1 L1343.7,317.4 L1343.0,317.8 L1342.3,318.3 L1341.6,318.7 L1340.9,319.2 L1340.2,319.7 L1339.5,320.2 L1338.8,320.8 L1338.0,321.3 L1337.3,321.9 L1336.5,322.5 L1335.7,323.1 L1334.9,323.8 L1334.1,324.5 L1333.3,325.2 L1332.5,326.0 L1331.7,326.7 L1330.9,327.4 L1330.0,328.1 L1329.1,328.7 L1328.2,329.3 L1327.3,329.9 L1326.3,330.5 L1325.3,331.0 L1324.4,331.6 L1323.5,332.1 L1322.6,332.6 L1321.6,333.1 L1320.5,333.6 L1319.4,334.0 L1318.2,334.4 L1316.8,334.8 L1315.2,335.2 L1313.5,335.6 L1311.6,336.0 L1309.6,336.3 L1307.4,336.6 L1305.1,336.8 L1302.7,337.1 L1300.1,337.3 L1297.5,337.5 L1294.8,337.8 L1292.0,338.0 L1289.1,338.3 L1286.2,338.5 L1283.3,338.8 L1280.2,339.1 L1277.1,339.4 L1273.8,339.8 L1270.5,340.1 L1267.1,340.5 L1263.6,340.8 L1260.1,341.2 L1256.6,341.5 L1253.0,341.9 L1249.5,342.2 L1246.1,342.6 L1242.7,342.9 L1239.3,343.2 L1235.9,343.6 L1232.5,343.9 L1229.1,344.3 L1225.7,344.6 L1222.4,345.0 L1219.0,345.3 L1215.6,345.6 L1212.2,346.0 L1208.8,346.3 L1205.4,346.7 L1202.1,347.0 L1198.7,347.3 L1195.3,347.7 L1191.9,348.0 L1188.6,348.3 L1185.2,348.6 L1181.8,348.9 L1178.4,349.3 L1175.1,349.6 L1171.7,349.9 L1168.3,350.3 L1164.9,350.6 L1161.5,351.0 L1158.1,351.4 L1154.7,351.8 L1151.2,352.2 L1147.6,352.6 L1144.1,353.0 L1140.6,353.4 L1137.1,353.9 L1133.7,354.3 L1130.3,354.7 L1127.1,355.2 L1123.9,355.7 L1120.9,356.1 L1117.9,356.6 L1115.1,357.1 L1112.3,357.6 L1109.6,358.1 L1106.9,358.6 L1104.4,359.1 L1101.8,359.6 L1099.4,360.2 L1097.0,360.7 L1094.7,361.2 L1092.5,361.7 L1090.4,362.2 L1088.3,362.8 L1086.3,363.3 L1084.3,363.8 L1082.4,364.3 L1080.6,364.8 L1078.9,365.3 L1077.2,365.8 L1075.6,366.3 L1074.1,366.9 L1072.6,367.4 L1071.2,367.9 L1069.9,368.4 L1068.6,368.9 L1067.5,369.4 L1066.5,369.9 L1065.5,370.4 L1064.7,370.9 L1063.8,371.4 L1063.1,371.9 L1062.3,372.4 L1061.6,372.9 L1060.9,373.5 L1060.2,374.0 L1059.4,374.6 L1058.7,375.2 L1057.9,375.9 L1057.1,376.5 L1056.3,377.2 L1055.6,377.9 L1054.9,378.6 L1054.2,379.3 L1053.5,380.0 L1052.8,380.7 L1052.2,381.4 L1051.7,382.0 L1051.2,382.6 L1050.7,383.1 L1050.2,383.6 L1049.8,384.1 L1049.5,384.6 L1049.1,385.1 L1048.8,385.5 L1048.5,386.0 L1048.2,386.4 L1048.0,386.9 L1047.7,387.4 L1047.5,387.9 L1047.2,388.4 L1047.0,389.0 L1046.7,389.7 L1046.5,390.4 L1046.3,391.1 L1046.1,391.8 L1045.9,392.5 L1045.7,393.2 L1045.6,393.8 L1045.5,394.4 L1045.3,394.9 L1045.2,395.3 L1045.1,395.6Z" fill="#111" stroke="#111" stroke-width="0.6" stroke-linejoin="round"/>
<path d="M1383.1,716.9 L1383.2,716.5 L1383.2,716.1 L1383.2,715.6 L1383.2,715.2 L1383.2,714.6 L1383.2,714.0 L1383.2,713.3 L1383.2,712.6 L1383.1,711.7 L1383.1,710.8 L1383.1,709.7 L1383.1,708.6 L1383.1,707.3 L1383.0,706.0 L1383.0,704.5 L1383.0,702.9 L1382.9,701.3 L1382.9,699.5 L1382.8,697.7 L1382.8,695.8 L1382.7,693.8 L1382.6,691.7 L1382.5,689.6 L1382.4,687.4 L1382.2,685.1 L1382.0,682.7 L1381.8,680.2 L1381.6,677.6 L1381.4,674.9 L1381.2,672.2 L1380.9,669.5 L1380.7,666.7 L1380.4,663.9 L1380.2,661.1 L1379.9,658.4 L1379.7,655.7 L1379.4,653.1 L1379.2,650.5 L1378.9,647.8 L1378.7,645.2 L1378.4,642.5 L1378.2,639.9 L1377.9,637.2 L1377.6,634.6 L1377.4,632.0 L1377.1,629.3 L1376.8,626.7 L1376.6,624.0 L1376.3,621.4 L1376.1,618.8 L1375.8,616.1 L1375.5,613.5 L1375.3,610.9 L1375.0,608.2 L1374.7,605.6 L1374.5,603.0 L1374.2,600.3 L1373.9,597.7 L1373.7,595.1 L1373.4,592.4 L1373.1,589.8 L1372.9,587.1 L1372.6,584.5 L1372.3,581.9 L1372.0,579.2 L1371.8,576.6 L1371.5,573.9 L1371.2,571.3 L1371.0,568.6 L1370.7,566.0 L1370.4,563.4 L1370.2,560.7 L1369.9,558.1 L1369.7,555.4 L1369.4,552.7 L1369.2,550.0 L1368.9,547.4 L1368.7,544.7 L1368.4,542.0 L1368.2,539.3 L1367.9,536.7 L1367.7,534.1 L1367.4,531.6 L1367.2,529.1 L1366.9,526.6 L1366.7,524.2 L1366.4,521.8 L1366.2,519.3 L1365.9,517.0 L1365.7,514.6 L1365.4,512.3 L1365.2,510.0 L1364.9,507.8 L1364.6,505.6 L1364.4,503.6 L1364.1,501.5 L1363.8,499.6 L1363.5,497.8 L1363.2,496.0 L1362.9,494.3 L1362.6,492.7 L1362.3,491.1 L1362.0,489.5 L1361.6,488.0 L1361.2,486.5 L1360.9,485.0 L1360.5,483.5 L1360.1,482.0 L1359.6,480.6 L1359.2,479.2 L1358.7,477.8 L1358.2,476.4 L1357.7,475.1 L1357.2,473.8 L1356.7,472.5 L1356.1,471.3 L1355.6,470.1 L1355.0,468.8 L1354.4,467.6 L1353.8,466.4 L1353.2,465.2 L1352.5,464.1 L1351.8,463.0 L1351.1,461.9 L1350.4,460.8 L1349.7,459.8 L1349.0,458.8 L1348.3,457.8 L1347.6,456.8 L1346.9,455.7 L1346.1,454.6 L1345.4,453.4 L1344.6,452.2 L1343.7,451.0 L1342.8,449.6 L1341.9,448.3 L1341.0,446.9 L1340.1,445.6 L1339.2,444.2 L1338.2,442.7 L1337.3,441.3 L1336.4,439.8 L1335.5,438.4 L1334.6,436.9 L1333.7,435.5 L1332.8,433.9 L1331.9,432.3 L1330.9,430.7 L1330.0,429.1 L1329.1,427.4 L1328.2,425.7 L1327.2,424.1 L1326.3,422.5 L1325.3,421.0 L1324.4,419.5 L1323.4,418.1 L1322.5,416.8 L1321.7,415.6 L1320.8,414.4 L1320.0,413.3 L1319.1,412.2 L1318.2,411.1 L1317.3,410.1 L1316.4,409.1 L1315.4,408.1 L1314.4,407.1 L1313.3,406.2 L1312.1,405.2 L1310.9,404.3 L1309.7,403.4 L1308.4,402.5 L1307.1,401.6 L1305.8,400.7 L1304.4,399.8 L1302.9,398.9 L1301.3,398.1 L1299.7,397.3 L1297.9,396.6 L1296.0,395.9 L1294.0,395.3 L1291.9,394.7 L1289.7,394.1 L1287.4,393.6 L1285.1,393.1 L1282.6,392.7 L1280.0,392.3 L1277.4,391.9 L1274.7,391.6 L1271.9,391.2 L1269.1,390.9 L1266.2,390.6 L1263.3,390.4 L1260.2,390.1 L1257.1,389.8 L1253.8,389.6 L1250.4,389.3 L1247.0,389.1 L1243.5,388.9 L1240.0,388.8 L1236.5,388.6 L1232.9,388.5 L1229.4,388.5 L1225.9,388.4 L1222.5,388.4 L1219.1,388.4 L1215.7,388.5 L1212.3,388.5 L1208.9,388.7 L1205.6,388.8 L1202.2,389.0 L1198.8,389.2 L1195.4,389.4 L1192.0,389.6 L1188.6,389.9 L1185.2,390.1 L1181.9,390.4 L1178.4,390.7 L1175.0,391.1 L1171.4,391.4 L1167.9,391.9 L1164.4,392.3 L1160.9,392.7 L1157.4,393.2 L1154.0,393.6 L1150.6,394.1 L1147.4,394.5 L1144.2,395.0 L1141.2,395.4 L1138.3,395.9 L1135.5,396.3 L1132.8,396.8 L1130.2,397.2 L1127.7,397.7 L1125.3,398.2 L1122.9,398.6 L1120.5,399.1 L1118.1,399.5 L1115.7,399.8 L1113.3,400.2 L1110.8,400.5 L1108.3,400.8 L1105.7,401.0 L1103.1,401.2 L1100.4,401.4 L1097.7,401.5 L1095.1,401.6 L1092.5,401.7 L1089.9,401.9 L1087.4,402.0 L1085.0,402.1 L1082.7,402.3 L1080.4,402.5 L1078.4,402.7 L1076.4,402.9 L1074.5,403.2 L1072.6,403.4 L1070.9,403.7 L1069.2,403.9 L1067.5,404.2 L1065.9,404.5 L1064.4,404.7 L1062.9,405.0 L1061.4,405.3 L1060.0,405.6 L1058.5,406.0 L1057.0,406.4 L1055.6,406.8 L1054.2,407.2 L1052.9,407.6 L1051.6,408.1 L1050.4,408.5 L1049.3,408.9 L1048.3,409.3 L1047.4,409.6 L1046.7,409.9 L1046.0,410.1 L1047.0,412.9 L1047.6,412.7 L1048.4,412.4 L1049.3,412.1 L1050.3,411.8 L1051.4,411.4 L1052.6,411.0 L1053.9,410.6 L1055.2,410.2 L1056.5,409.8 L1057.9,409.4 L1059.3,409.1 L1060.6,408.8 L1062.1,408.5 L1063.5,408.2 L1065.0,407.9 L1066.5,407.6 L1068.0,407.3 L1069.7,407.1 L1071.3,406.8 L1073.1,406.6 L1074.9,406.4 L1076.7,406.1 L1078.7,405.9 L1080.8,405.7 L1082.9,405.5 L1085.2,405.3 L1087.6,405.2 L1090.1,405.1 L1092.6,404.9 L1095.2,404.8 L1097.9,404.7 L1100.6,404.6 L1103.3,404.4 L1105.9,404.2 L1108.6,404.0 L1111.2,403.7 L1113.7,403.4 L1116.2,403.0 L1118.6,402.6 L1121.0,402.2 L1123.4,401.8 L1125.9,401.3 L1128.3,400.8 L1130.8,400.4 L1133.4,399.9 L1136.0,399.5 L1138.8,399.0 L1141.6,398.6 L1144.7,398.2 L1147.8,397.7 L1151.1,397.3 L1154.4,396.8 L1157.8,396.3 L1161.3,395.9 L1164.8,395.5 L1168.3,395.0 L1171.8,394.6 L1175.3,394.2 L1178.7,393.9 L1182.1,393.6 L1185.5,393.3 L1188.9,393.0 L1192.2,392.8 L1195.6,392.6 L1199.0,392.3 L1202.3,392.2 L1205.7,392.0 L1209.1,391.9 L1212.4,391.7 L1215.8,391.7 L1219.1,391.6 L1222.5,391.6 L1225.9,391.6 L1229.3,391.7 L1232.8,391.8 L1236.3,391.9 L1239.9,392.0 L1243.3,392.2 L1246.8,392.4 L1250.2,392.6 L1253.5,392.8 L1256.8,393.1 L1259.9,393.4 L1262.9,393.6 L1265.9,393.9 L1268.7,394.3 L1271.5,394.6 L1274.3,394.9 L1276.9,395.3 L1279.5,395.7 L1282.0,396.1 L1284.4,396.6 L1286.7,397.1 L1288.9,397.6 L1291.0,398.1 L1293.0,398.7 L1294.8,399.4 L1296.5,400.1 L1298.0,400.8 L1299.5,401.6 L1300.9,402.4 L1302.2,403.3 L1303.4,404.1 L1304.6,405.0 L1305.8,405.9 L1306.9,406.9 L1308.0,407.8 L1309.1,408.8 L1310.2,409.7 L1311.1,410.6 L1312.0,411.5 L1312.8,412.4 L1313.5,413.4 L1314.3,414.3 L1315.0,415.3 L1315.7,416.4 L1316.4,417.5 L1317.2,418.6 L1318.0,419.9 L1318.8,421.1 L1319.6,422.5 L1320.4,423.9 L1321.2,425.4 L1322.0,427.0 L1322.9,428.6 L1323.7,430.3 L1324.6,432.0 L1325.4,433.7 L1326.3,435.3 L1327.1,437.0 L1328.0,438.7 L1328.8,440.3 L1329.7,441.8 L1330.6,443.3 L1331.5,444.9 L1332.3,446.4 L1333.2,447.9 L1334.1,449.3 L1334.9,450.8 L1335.8,452.2 L1336.6,453.6 L1337.4,454.9 L1338.2,456.3 L1339.0,457.6 L1339.8,458.8 L1340.6,460.0 L1341.4,461.1 L1342.2,462.1 L1342.9,463.2 L1343.6,464.1 L1344.3,465.1 L1344.9,466.0 L1345.6,467.0 L1346.2,467.9 L1346.8,468.9 L1347.4,470.0 L1348.0,471.0 L1348.6,472.1 L1349.2,473.2 L1349.8,474.4 L1350.3,475.5 L1350.9,476.6 L1351.4,477.8 L1352.0,478.9 L1352.5,480.1 L1353.0,481.4 L1353.5,482.6 L1353.9,484.0 L1354.4,485.3 L1354.8,486.7 L1355.2,488.1 L1355.6,489.5 L1356.0,490.9 L1356.3,492.4 L1356.7,493.9 L1357.0,495.5 L1357.3,497.1 L1357.7,498.8 L1358.0,500.6 L1358.3,502.5 L1358.6,504.4 L1358.9,506.4 L1359.2,508.5 L1359.5,510.7 L1359.8,512.9 L1360.0,515.2 L1360.3,517.6 L1360.6,519.9 L1360.8,522.4 L1361.1,524.8 L1361.3,527.2 L1361.6,529.7 L1361.9,532.2 L1362.2,534.7 L1362.4,537.3 L1362.7,539.9 L1362.9,542.5 L1363.2,545.2 L1363.5,547.9 L1363.7,550.6 L1364.0,553.3 L1364.3,555.9 L1364.5,558.6 L1364.8,561.3 L1365.1,563.9 L1365.3,566.5 L1365.6,569.2 L1365.9,571.8 L1366.1,574.5 L1366.4,577.1 L1366.7,579.8 L1366.9,582.4 L1367.2,585.1 L1367.5,587.7 L1367.7,590.3 L1368.0,593.0 L1368.3,595.6 L1368.5,598.2 L1368.8,600.9 L1369.1,603.5 L1369.4,606.1 L1369.6,608.8 L1369.9,611.4 L1370.2,614.0 L1370.4,616.7 L1370.7,619.3 L1371.0,621.9 L1371.2,624.6 L1371.5,627.2 L1371.7,629.8 L1372.0,632.5 L1372.3,635.1 L1372.5,637.8 L1372.8,640.4 L1373.0,643.1 L1373.3,645.7 L1373.6,648.3 L1373.8,651.0 L1374.1,653.6 L1374.3,656.3 L1374.6,658.9 L1374.8,661.6 L1375.1,664.4 L1375.4,667.2 L1375.6,669.9 L1375.9,672.7 L1376.1,675.4 L1376.4,678.1 L1376.6,680.7 L1376.8,683.2 L1377.0,685.5 L1377.2,687.8 L1377.4,689.9 L1377.5,692.0 L1377.7,694.0 L1377.8,696.0 L1377.9,697.9 L1378.0,699.7 L1378.1,701.4 L1378.2,703.1 L1378.2,704.7 L1378.3,706.1 L1378.4,707.5 L1378.5,708.8 L1378.6,710.0 L1378.7,711.1 L1378.8,712.0 L1378.9,712.9 L1379.0,713.6 L1379.1,714.3 L1379.2,714.9 L1379.3,715.5 L1379.4,716.0 L1379.5,716.4 L1379.6,716.8 L1379.7,717.1Z" fill="#111" stroke="#111" stroke-width="0.6" stroke-linejoin="round"/>
<path d="M1413.0,569.5C1413.9,568.7 1416.1,566.0 1418.6,564.8C1421.1,563.5 1423.2,562.6 1427.9,562.0C1432.6,561.4 1439.4,561.3 1446.5,561.1C1453.6,560.9 1465.6,561.3 1470.6,560.7C1475.5,560.1 1474.7,558.2 1476.2,557.6C1477.8,557.0 1478.7,557.1 1479.9,557.4C1481.2,557.7 1481.8,559.1 1483.7,559.2C1485.6,559.4 1488.6,559.1 1491.1,558.3C1493.6,557.5 1496.7,556.3 1498.5,554.6C1500.3,552.9 1501.0,551.7 1502.2,548.1C1503.5,544.5 1504.8,539.4 1506.0,533.2C1507.2,527.0 1508.4,518.2 1509.7,510.9C1511.0,503.6 1512.2,490.1 1513.8,489.5C1515.3,488.9 1517.4,500.5 1519.0,507.2C1520.6,513.9 1522.0,522.4 1523.6,529.5C1525.1,536.6 1526.6,545.2 1528.3,549.9C1530.0,554.5 1531.1,555.5 1533.9,557.4C1536.7,559.3 1541.3,560.3 1545.0,561.1C1548.7,561.9 1553.4,562.3 1556.2,562.0C1559.0,561.7 1560.2,560.9 1561.7,559.2C1563.2,557.5 1564.2,552.1 1565.5,551.8C1566.8,551.5 1567.4,555.7 1569.2,557.4C1571.0,559.1 1573.8,561.1 1576.6,562.0C1579.4,562.9 1581.2,563.0 1585.9,563.0C1590.6,563.0 1598.3,562.6 1604.5,562.0C1610.7,561.4 1618.8,559.4 1623.1,559.6C1627.4,559.8 1628.7,560.6 1630.5,563.0C1632.3,565.4 1633.1,567.9 1634.2,574.1C1635.3,580.3 1636.1,589.6 1637.0,600.1C1637.9,610.6 1638.9,624.6 1639.8,637.3C1640.7,650.0 1641.8,674.8 1642.6,676.4C1643.4,678.0 1643.9,657.8 1644.5,646.6C1645.1,635.4 1645.5,618.1 1646.3,609.4C1647.1,600.7 1648.0,598.3 1649.1,594.6C1650.2,590.9 1651.2,590.5 1652.8,587.1C1654.3,583.7 1656.5,577.4 1658.4,574.1C1660.3,570.9 1660.6,569.5 1664.0,567.6C1667.4,565.8 1673.3,564.4 1678.9,563.0C1684.5,561.6 1691.0,560.1 1697.5,559.2C1704.0,558.3 1714.5,557.7 1717.9,557.4" fill="none" stroke="#111" stroke-width="2.40" stroke-linecap="round" stroke-linejoin="round"/>
<path d="M1497.6,685.7 L1497.6,595 M1486.4,612.2 L1497.6,595 L1508.8,612.2 M1494.8,685.7 L1573.8,685.7 M1555.2,674.5 L1573.8,685.7 L1555.2,695.9" fill="none" stroke="#222" stroke-width="2.2" stroke-linecap="round" stroke-linejoin="round"/>
<path d="M156.5,1341.4 L157.1,1341.4 L157.9,1341.4 L158.8,1341.4 L159.8,1341.4 L160.9,1341.4 L162.1,1341.4 L163.4,1341.4 L164.7,1341.5 L166.1,1341.5 L167.5,1341.6 L168.9,1341.7 L170.3,1341.9 L171.8,1342.1 L173.3,1342.3 L174.9,1342.5 L176.6,1342.7 L178.3,1343.0 L180.0,1343.2 L181.8,1343.5 L183.6,1343.9 L185.4,1344.2 L187.1,1344.6 L188.9,1345.0 L190.6,1345.5 L192.4,1346.0 L194.2,1346.7 L196.1,1347.4 L198.1,1348.2 L200.0,1349.0 L202.0,1349.8 L203.8,1350.6 L205.6,1351.3 L207.2,1352.0 L208.6,1352.7 L209.8,1353.2 L210.8,1353.6 L203.6,1377.3 L202.8,1376.6 L201.8,1375.7 L200.6,1374.6 L199.3,1373.3 L197.9,1372.0 L196.3,1370.5 L194.8,1369.1 L193.1,1367.7 L191.5,1366.3 L189.9,1365.0 L188.4,1363.8 L187.0,1362.8 L185.6,1361.9 L184.2,1361.1 L182.7,1360.3 L181.3,1359.6 L179.9,1358.9 L178.5,1358.3 L177.0,1357.7 L175.6,1357.2 L174.3,1356.7 L172.9,1356.2 L171.6,1355.7 L170.3,1355.3 L169.0,1354.8 L167.7,1354.5 L166.3,1354.1 L165.0,1353.8 L163.6,1353.5 L162.4,1353.3 L161.1,1353.0 L160.0,1352.8 L158.9,1352.7 L158.0,1352.5 L157.2,1352.3 L156.5,1352.2Z" fill="#d6d6d6" stroke="#d6d6d6" stroke-width="0.8" stroke-linejoin="round"/>
<path d="M156.5,1343.4C158.8,1343.6 164.7,1343.5 170.3,1344.4C175.9,1345.3 183.4,1346.5 189.9,1348.8C196.4,1351.0 202.9,1354.9 209.4,1358.1C216.0,1361.3 222.5,1365.9 229.1,1368.1C235.6,1370.3 243.5,1371.2 248.6,1371.1C253.7,1371.1 256.1,1369.3 259.9,1367.6C263.6,1366.0 267.3,1363.7 271.1,1361.2C275.0,1358.8 279.0,1355.9 282.8,1352.9C286.7,1350.0 290.3,1346.8 294.0,1343.7C297.8,1340.6 301.6,1337.4 305.3,1334.5C309.1,1331.7 312.9,1329.2 316.6,1326.6C320.4,1323.9 324.3,1321.2 327.9,1318.7C331.6,1316.2 335.0,1313.8 338.7,1311.6C342.3,1309.4 345.5,1307.7 350.0,1305.5C354.6,1303.3 360.4,1300.5 366.0,1298.4C371.6,1296.4 377.8,1294.8 383.8,1293.2C389.8,1291.6 396.2,1290.0 401.9,1288.7C407.6,1287.5 411.1,1286.8 417.9,1285.9C424.7,1284.9 433.4,1284.1 442.7,1283.2C452.0,1282.3 464.2,1281.4 473.5,1280.5C482.7,1279.6 490.5,1278.6 498.2,1277.8C506.0,1277.1 516.4,1276.4 520.0,1276.1" fill="none" stroke="#000" stroke-width="1.70" stroke-linecap="round" stroke-linejoin="round" stroke-opacity="0.5"/>
<path d="M156.5,1344.7C158.8,1344.9 164.8,1344.9 170.3,1345.9C175.8,1347.0 183.1,1348.3 189.5,1350.7C195.9,1353.2 202.2,1357.3 208.6,1360.8C215.0,1364.3 221.4,1369.3 227.8,1371.7C234.2,1374.1 241.9,1375.1 247.0,1375.1C252.0,1375.1 254.5,1373.4 258.3,1371.6C262.1,1369.9 265.7,1367.5 269.5,1364.8C273.4,1362.2 277.6,1358.8 281.5,1355.6C285.3,1352.5 288.9,1349.1 292.7,1345.9C296.4,1342.7 300.2,1339.3 304.0,1336.4C307.7,1333.4 311.5,1331.0 315.3,1328.3C319.0,1325.6 322.9,1322.7 326.6,1320.1C330.4,1317.5 334.1,1314.8 337.9,1312.6C341.6,1310.3 344.6,1308.6 349.1,1306.4C353.6,1304.2 359.1,1301.5 364.6,1299.4C370.2,1297.4 376.4,1295.6 382.3,1294.0C388.3,1292.3 394.7,1290.7 400.4,1289.4C406.1,1288.1 409.9,1287.3 416.6,1286.3C423.3,1285.3 431.5,1284.5 440.6,1283.6C449.6,1282.7 461.6,1281.8 470.9,1280.8C480.2,1279.9 488.1,1278.9 496.3,1278.1C504.5,1277.3 516.1,1276.4 520.0,1276.1" fill="none" stroke="#000" stroke-width="1.70" stroke-linecap="round" stroke-linejoin="round" stroke-opacity="0.5"/>
<path d="M156.5,1346.0C158.8,1346.2 164.9,1346.4 170.3,1347.5C175.7,1348.7 182.8,1350.1 189.1,1352.8C195.3,1355.5 201.5,1359.8 207.8,1363.6C214.0,1367.4 220.3,1372.8 226.5,1375.4C232.8,1378.0 240.2,1379.2 245.2,1379.2C250.3,1379.3 252.9,1377.6 256.6,1375.8C260.4,1374.1 264.0,1371.5 267.9,1368.6C271.8,1365.7 276.1,1361.9 280.0,1358.5C283.9,1355.1 287.5,1351.6 291.2,1348.3C295.0,1344.9 298.8,1341.3 302.5,1338.3C306.3,1335.2 310.0,1332.9 313.8,1330.1C317.6,1327.3 321.4,1324.4 325.3,1321.6C329.1,1318.8 333.2,1315.9 337.0,1313.5C340.8,1311.1 343.8,1309.6 348.1,1307.4C352.5,1305.2 357.8,1302.6 363.2,1300.5C368.7,1298.4 374.9,1296.5 380.8,1294.8C386.7,1293.0 393.1,1291.4 398.9,1290.0C404.6,1288.7 408.7,1287.8 415.3,1286.8C421.9,1285.8 429.5,1284.9 438.3,1284.0C447.2,1283.1 458.9,1282.1 468.2,1281.2C477.6,1280.3 485.7,1279.3 494.3,1278.5C502.9,1277.6 515.7,1276.5 520.0,1276.1" fill="none" stroke="#000" stroke-width="1.70" stroke-linecap="round" stroke-linejoin="round" stroke-opacity="0.5"/>
<path d="M156.5,1347.2C158.8,1347.5 164.9,1347.8 170.3,1349.0C175.7,1350.3 182.6,1351.9 188.7,1354.7C194.8,1357.6 200.9,1362.3 207.0,1366.3C213.1,1370.3 219.2,1376.1 225.3,1379.0C231.4,1381.8 238.7,1383.0 243.6,1383.1C248.6,1383.3 251.3,1381.6 255.1,1379.8C258.9,1378.0 262.3,1375.3 266.3,1372.2C270.2,1369.1 274.7,1364.7 278.7,1361.1C282.6,1357.5 286.1,1354.0 289.9,1350.5C293.6,1347.0 297.4,1343.2 301.2,1340.1C304.9,1337.0 308.7,1334.6 312.5,1331.8C316.3,1329.0 320.0,1325.9 324.0,1323.0C327.9,1320.1 332.3,1316.9 336.2,1314.4C340.1,1312.0 342.9,1310.5 347.2,1308.3C351.5,1306.1 356.5,1303.6 361.9,1301.4C367.3,1299.3 373.4,1297.3 379.4,1295.5C385.3,1293.8 391.6,1292.1 397.4,1290.7C403.2,1289.3 407.6,1288.3 414.0,1287.2C420.5,1286.2 427.6,1285.3 436.2,1284.4C444.9,1283.5 456.4,1282.5 465.7,1281.6C475.1,1280.6 483.3,1279.7 492.4,1278.8C501.4,1277.9 515.4,1276.6 520.0,1276.2" fill="none" stroke="#000" stroke-width="1.70" stroke-linecap="round" stroke-linejoin="round" stroke-opacity="0.5"/>
<path d="M156.5,1348.8C158.8,1349.1 165.0,1349.6 170.3,1351.0C175.6,1352.4 182.2,1354.1 188.1,1357.3C194.1,1360.4 200.0,1365.4 205.9,1369.8C211.8,1374.1 217.8,1380.5 223.7,1383.5C229.7,1386.6 236.6,1388.0 241.5,1388.2C246.4,1388.5 249.3,1386.8 253.1,1385.0C256.8,1383.1 260.2,1380.3 264.2,1376.9C268.2,1373.5 272.9,1368.5 276.9,1364.6C280.9,1360.6 284.4,1357.0 288.1,1353.4C291.9,1349.7 295.7,1345.7 299.4,1342.4C303.2,1339.2 306.9,1336.9 310.7,1334.0C314.5,1331.1 318.2,1327.9 322.3,1324.9C326.4,1321.8 331.2,1318.2 335.2,1315.6C339.1,1313.1 341.8,1311.7 346.0,1309.5C350.2,1307.4 354.9,1304.9 360.2,1302.7C365.4,1300.5 371.6,1298.4 377.5,1296.5C383.4,1294.7 389.7,1292.9 395.5,1291.5C401.4,1290.0 406.1,1288.9 412.4,1287.8C418.7,1286.7 425.2,1285.9 433.5,1284.9C441.9,1284.0 453.1,1283.0 462.5,1282.0C471.9,1281.1 480.3,1280.2 489.9,1279.2C499.5,1278.2 515.0,1276.7 520.0,1276.2" fill="none" stroke="#000" stroke-width="1.70" stroke-linecap="round" stroke-linejoin="round" stroke-opacity="0.5"/>
<path d="M156.5,1350.3C158.8,1350.8 165.1,1351.4 170.3,1352.9C175.5,1354.5 181.8,1356.4 187.6,1359.8C193.4,1363.1 199.1,1368.5 204.9,1373.2C210.6,1377.9 216.4,1384.7 222.2,1388.1C227.9,1391.4 234.6,1392.9 239.4,1393.2C244.3,1393.6 247.3,1392.0 251.1,1390.1C254.8,1388.1 258.2,1385.2 262.2,1381.5C266.2,1377.8 271.1,1372.2 275.2,1368.0C279.2,1363.8 282.6,1360.1 286.4,1356.2C290.1,1352.3 293.9,1348.1 297.7,1344.8C301.4,1341.4 305.2,1339.2 309.0,1336.2C312.8,1333.2 316.5,1329.9 320.6,1326.7C324.8,1323.5 330.1,1319.5 334.1,1316.8C338.2,1314.1 340.7,1312.8 344.8,1310.7C348.8,1308.6 353.3,1306.2 358.5,1304.0C363.6,1301.8 369.8,1299.5 375.6,1297.5C381.5,1295.6 387.8,1293.8 393.7,1292.3C399.5,1290.8 404.6,1289.5 410.8,1288.4C417.0,1287.2 422.7,1286.4 430.8,1285.4C438.9,1284.5 449.8,1283.5 459.2,1282.5C468.7,1281.5 477.4,1280.6 487.5,1279.6C497.6,1278.6 514.6,1276.8 520.0,1276.3" fill="none" stroke="#000" stroke-width="1.70" stroke-linecap="round" stroke-linejoin="round" stroke-opacity="0.5"/>
<path d="M156.5,1352.2C158.8,1352.7 165.2,1353.5 170.3,1355.3C175.4,1357.0 181.4,1359.1 187.0,1362.8C192.5,1366.5 198.1,1372.2 203.6,1377.3C209.2,1382.5 214.7,1389.9 220.3,1393.6C225.8,1397.2 232.2,1398.9 236.9,1399.3C241.7,1399.7 244.8,1398.2 248.6,1396.2C252.4,1394.2 255.6,1391.1 259.7,1387.1C263.8,1383.0 269.0,1376.7 273.1,1372.1C277.2,1367.5 280.5,1363.7 284.3,1359.6C288.0,1355.5 291.8,1351.0 295.6,1347.6C299.4,1344.1 303.0,1342.0 306.9,1338.8C310.7,1335.7 314.3,1332.3 318.7,1328.9C323.0,1325.4 328.8,1321.0 332.9,1318.2C337.0,1315.4 339.4,1314.3 343.4,1312.1C347.3,1310.0 351.4,1307.7 356.4,1305.5C361.4,1303.2 367.6,1300.8 373.4,1298.7C379.2,1296.7 385.5,1294.9 391.4,1293.2C397.3,1291.6 402.8,1290.3 408.8,1289.1C414.9,1287.9 419.8,1287.1 427.6,1286.1C435.3,1285.0 445.8,1284.0 455.3,1283.0C464.8,1282.0 473.8,1281.2 484.5,1280.1C495.3,1279.0 514.1,1277.0 520.0,1276.4" fill="none" stroke="#000" stroke-width="1.70" stroke-linecap="round" stroke-linejoin="round" stroke-opacity="0.5"/>
<path d="M156.5,1356.6C158.8,1357.3 165.5,1358.5 170.3,1360.7C175.1,1362.9 180.4,1365.4 185.5,1369.8C190.6,1374.2 195.6,1380.9 200.7,1387.0C205.8,1393.1 210.8,1401.9 215.9,1406.3C221.0,1410.7 226.6,1412.7 231.1,1413.4C235.6,1414.1 239.2,1412.7 243.0,1410.5C246.8,1408.3 249.8,1404.8 254.0,1400.0C258.2,1395.2 264.0,1387.1 268.2,1381.7C272.4,1376.3 275.6,1372.2 279.4,1367.6C283.1,1363.0 286.9,1357.9 290.7,1354.1C294.5,1350.3 298.1,1348.3 302.0,1345.0C305.9,1341.7 309.3,1337.9 314.0,1334.0C318.7,1330.1 325.7,1324.6 330.0,1321.5C334.3,1318.4 336.4,1317.6 340.0,1315.5C343.6,1313.4 346.9,1311.3 351.6,1309.0C356.3,1306.7 362.4,1303.8 368.2,1301.5C374.0,1299.2 380.2,1297.3 386.2,1295.5C392.2,1293.7 398.7,1292.0 404.3,1290.7C409.9,1289.4 413.0,1288.6 420.0,1287.5C427.0,1286.4 436.6,1285.3 446.2,1284.3C455.8,1283.2 465.4,1282.5 477.7,1281.2C490.0,1279.9 513.0,1277.3 520.0,1276.5" fill="none" stroke="#000" stroke-width="1.70" stroke-linecap="round" stroke-linejoin="round" stroke-opacity="0.5"/>
<path d="M156.5,1341.4C158.8,1341.5 164.6,1341.2 170.3,1341.9C176.0,1342.6 183.8,1343.5 190.6,1345.5C197.3,1347.5 204.1,1350.8 210.8,1353.6C217.6,1356.4 224.3,1360.4 231.1,1362.2C237.8,1364.0 246.1,1364.8 251.3,1364.6C256.5,1364.4 258.8,1362.6 262.5,1361.0C266.2,1359.4 270.0,1357.3 273.8,1355.2C277.6,1353.1 281.4,1351.0 285.1,1348.5C288.9,1346.0 292.6,1342.8 296.3,1340.0C300.1,1337.2 303.8,1334.2 307.6,1331.5C311.4,1328.8 315.1,1326.2 318.9,1323.7C322.6,1321.2 326.6,1318.6 330.1,1316.3C333.6,1314.0 336.4,1312.2 340.0,1310.1C343.6,1308.0 346.9,1306.1 351.6,1303.9C356.3,1301.7 362.4,1298.8 368.2,1296.8C374.0,1294.8 380.2,1293.4 386.2,1291.9C392.2,1290.4 398.7,1288.8 404.3,1287.7C409.9,1286.6 413.0,1286.0 420.0,1285.1C427.0,1284.2 436.6,1283.4 446.2,1282.5C455.8,1281.6 468.5,1280.8 477.7,1279.9C486.9,1279.0 494.3,1278.0 501.4,1277.3C508.4,1276.6 516.9,1276.2 520.0,1276.0" fill="none" stroke="#222" stroke-width="2.20" stroke-linecap="round" stroke-linejoin="round"/>
<path d="M318.9,1323.7 L319.4,1323.3 L320.1,1322.9 L320.9,1322.3 L321.9,1321.7 L322.8,1321.1 L323.9,1320.4 L325.0,1319.7 L326.0,1319.0 L327.1,1318.2 L328.2,1317.5 L329.2,1316.9 L330.1,1316.3 L331.0,1315.7 L331.8,1315.2 L332.6,1314.7 L333.4,1314.1 L334.2,1313.6 L335.0,1313.1 L335.8,1312.6 L336.6,1312.1 L337.4,1311.6 L338.3,1311.1 L339.1,1310.6 L340.0,1310.1 L340.9,1309.6 L341.8,1309.1 L342.7,1308.6 L343.6,1308.1 L344.5,1307.6 L345.4,1307.1 L346.3,1306.5 L347.3,1306.0 L348.3,1305.5 L349.4,1305.0 L350.5,1304.4 L351.6,1303.9 L352.8,1303.3 L354.1,1302.7 L355.4,1302.1 L356.7,1301.5 L358.1,1300.9 L359.5,1300.3 L360.9,1299.6 L362.4,1299.0 L363.8,1298.4 L365.3,1297.9 L366.8,1297.3 L368.2,1296.8 L369.7,1296.3 L371.1,1295.8 L372.6,1295.4 L374.1,1295.0 L375.6,1294.6 L377.1,1294.2 L378.6,1293.8 L380.1,1293.4 L381.7,1293.0 L383.2,1292.7 L384.7,1292.3 L386.2,1291.9 L387.7,1291.5 L389.2,1291.1 L390.8,1290.8 L392.3,1290.4 L393.9,1290.0 L395.4,1289.7 L396.9,1289.3 L398.4,1289.0 L399.9,1288.6 L401.4,1288.3 L402.9,1288.0 L404.3,1287.7 L405.7,1287.4 L406.9,1287.2 L408.1,1286.9 L409.3,1286.7 L410.5,1286.5 L411.6,1286.3 L412.8,1286.1 L414.1,1285.9 L415.4,1285.7 L416.8,1285.5 L418.3,1285.3 L420.0,1285.1 L421.8,1284.9 L423.7,1284.7 L425.7,1284.5 L427.8,1284.2 L429.9,1284.0 L432.1,1283.8 L434.4,1283.6 L436.7,1283.4 L439.0,1283.1 L441.4,1282.9 L443.8,1282.7 L446.2,1282.5 L448.7,1282.3 L451.2,1282.1 L453.9,1281.8 L456.6,1281.6 L459.3,1281.4 L462.1,1281.2 L464.9,1281.0 L467.6,1280.8 L470.2,1280.6 L472.8,1280.3 L475.3,1280.1 L477.7,1279.9 L480.0,1279.7 L482.2,1279.5 L484.3,1279.2 L486.4,1279.0 L488.4,1278.8 L490.4,1278.5 L492.3,1278.3 L494.2,1278.1 L496.0,1277.9 L497.8,1277.7 L499.6,1277.5 L501.4,1277.3 L503.2,1277.1 L505.0,1277.0 L506.8,1276.9 L508.7,1276.7 L510.5,1276.6 L512.2,1276.5 L513.8,1276.4 L515.4,1276.3 L516.8,1276.2 L518.0,1276.1 L519.1,1276.1 L520.0,1276.0 L520.0,1276.5 L517.9,1276.7 L515.3,1277.0 L512.1,1277.4 L508.6,1277.8 L504.8,1278.2 L500.8,1278.7 L496.7,1279.1 L492.6,1279.6 L488.5,1280.0 L484.6,1280.5 L481.0,1280.8 L477.7,1281.2 L474.7,1281.5 L471.8,1281.8 L468.9,1282.1 L466.2,1282.3 L463.5,1282.6 L460.9,1282.8 L458.4,1283.1 L455.9,1283.3 L453.4,1283.6 L451.0,1283.8 L448.6,1284.0 L446.2,1284.3 L443.8,1284.6 L441.4,1284.8 L439.0,1285.1 L436.7,1285.4 L434.4,1285.6 L432.1,1285.9 L429.9,1286.2 L427.8,1286.4 L425.7,1286.7 L423.7,1287.0 L421.8,1287.2 L420.0,1287.5 L418.3,1287.8 L416.8,1288.0 L415.4,1288.3 L414.1,1288.5 L412.8,1288.8 L411.6,1289.0 L410.5,1289.3 L409.3,1289.5 L408.1,1289.8 L406.9,1290.1 L405.7,1290.4 L404.3,1290.7 L402.9,1291.0 L401.4,1291.4 L399.9,1291.8 L398.4,1292.1 L396.9,1292.5 L395.4,1292.9 L393.9,1293.3 L392.3,1293.8 L390.8,1294.2 L389.2,1294.6 L387.7,1295.1 L386.2,1295.5 L384.7,1296.0 L383.2,1296.4 L381.7,1296.9 L380.1,1297.4 L378.6,1297.8 L377.1,1298.3 L375.6,1298.8 L374.1,1299.3 L372.6,1299.9 L371.1,1300.4 L369.7,1300.9 L368.2,1301.5 L366.8,1302.1 L365.3,1302.7 L363.8,1303.3 L362.4,1303.9 L360.9,1304.6 L359.5,1305.2 L358.1,1305.9 L356.7,1306.5 L355.4,1307.2 L354.1,1307.8 L352.8,1308.4 L351.6,1309.0 L350.5,1309.6 L349.4,1310.1 L348.3,1310.7 L347.3,1311.3 L346.3,1311.8 L345.4,1312.3 L344.5,1312.9 L343.6,1313.4 L342.7,1313.9 L341.8,1314.5 L340.9,1315.0 L340.0,1315.5 L339.1,1316.0 L338.1,1316.6 L337.2,1317.2 L336.2,1317.8 L335.2,1318.3 L334.3,1318.9 L333.4,1319.5 L332.5,1320.0 L331.8,1320.4 L331.1,1320.9 L330.5,1321.2 L330.0,1321.5Z" fill="#161616" stroke="#161616" stroke-width="0.8" stroke-linejoin="round"/>
<path d="M159.6,1339.5 L160.0,1339.0 L160.5,1338.4 L161.0,1337.7 L161.6,1337.0 L162.3,1336.1 L162.9,1335.3 L163.7,1334.4 L164.4,1333.5 L165.1,1332.7 L165.9,1331.9 L166.6,1331.2 L167.3,1330.5 L168.0,1329.9 L168.7,1329.3 L169.4,1328.7 L170.1,1328.2 L170.8,1327.6 L171.5,1327.1 L172.3,1326.5 L173.2,1326.0 L174.0,1325.4 L174.9,1324.8 L175.9,1324.2 L176.9,1323.6 L177.9,1323.0 L179.0,1322.3 L180.1,1321.7 L181.3,1321.0 L182.5,1320.3 L183.7,1319.6 L185.0,1319.0 L186.2,1318.3 L187.6,1317.6 L188.9,1316.9 L190.3,1316.2 L191.8,1315.4 L193.3,1314.7 L194.8,1314.0 L196.4,1313.2 L198.0,1312.4 L199.7,1311.7 L201.4,1310.9 L203.2,1310.1 L204.9,1309.3 L206.7,1308.5 L208.4,1307.7 L210.1,1307.0 L211.8,1306.2 L213.5,1305.4 L215.2,1304.6 L216.9,1303.8 L218.6,1302.9 L220.3,1302.1 L221.9,1301.3 L223.6,1300.5 L225.3,1299.7 L226.9,1299.0 L228.6,1298.3 L230.2,1297.6 L231.9,1296.9 L233.5,1296.3 L235.2,1295.7 L236.8,1295.2 L238.5,1294.6 L240.2,1294.1 L241.8,1293.6 L243.5,1293.1 L245.2,1292.6 L246.9,1292.1 L248.6,1291.6 L250.3,1291.1 L252.0,1290.6 L253.7,1290.1 L255.4,1289.6 L257.0,1289.0 L258.7,1288.5 L260.4,1287.9 L262.1,1287.4 L263.8,1286.9 L265.5,1286.3 L267.1,1285.8 L268.8,1285.3 L270.5,1284.8 L272.2,1284.3 L273.9,1283.9 L275.5,1283.4 L277.2,1282.9 L278.9,1282.5 L280.6,1282.0 L282.3,1281.6 L283.9,1281.1 L285.6,1280.7 L287.3,1280.3 L289.0,1279.9 L290.7,1279.5 L292.3,1279.1 L294.0,1278.7 L295.7,1278.3 L297.5,1277.9 L299.2,1277.6 L300.9,1277.2 L302.6,1276.9 L304.3,1276.5 L306.0,1276.2 L307.7,1275.9 L309.3,1275.6 L311.0,1275.3 L312.6,1275.0 L314.1,1274.7 L315.5,1274.4 L316.9,1274.2 L318.2,1273.9 L319.5,1273.7 L320.8,1273.4 L322.1,1273.2 L323.5,1273.0 L325.0,1272.7 L326.6,1272.5 L328.3,1272.2 L330.2,1272.0 L332.2,1271.7 L334.3,1271.5 L336.6,1271.2 L338.9,1270.9 L341.3,1270.7 L343.7,1270.4 L346.3,1270.1 L348.9,1269.9 L351.6,1269.6 L354.4,1269.3 L357.2,1269.1 L360.1,1268.8 L363.1,1268.5 L366.3,1268.3 L369.6,1268.0 L373.1,1267.8 L376.6,1267.5 L380.1,1267.2 L383.6,1267.0 L387.1,1266.7 L390.6,1266.5 L393.9,1266.2 L397.1,1266.0 L400.1,1265.8 L403.0,1265.6 L406.0,1265.4 L409.0,1265.2 L411.9,1265.0 L414.8,1264.8 L417.6,1264.6 L420.2,1264.4 L422.7,1264.3 L424.9,1264.1 L426.9,1264.0 L428.7,1263.9 L430.1,1263.8 L429.9,1261.2 L428.5,1261.3 L426.8,1261.4 L424.8,1261.5 L422.5,1261.7 L420.0,1261.8 L417.4,1262.0 L414.6,1262.2 L411.8,1262.4 L408.8,1262.6 L405.8,1262.8 L402.9,1263.0 L399.9,1263.2 L396.9,1263.4 L393.7,1263.6 L390.4,1263.9 L386.9,1264.1 L383.4,1264.4 L379.9,1264.6 L376.4,1264.9 L372.9,1265.2 L369.4,1265.4 L366.1,1265.7 L362.9,1265.9 L359.9,1266.2 L357.0,1266.5 L354.2,1266.7 L351.4,1267.0 L348.7,1267.2 L346.0,1267.5 L343.5,1267.7 L341.0,1268.0 L338.6,1268.2 L336.2,1268.5 L334.0,1268.7 L331.9,1269.0 L329.8,1269.2 L327.9,1269.4 L326.2,1269.7 L324.6,1269.9 L323.1,1270.1 L321.6,1270.3 L320.3,1270.6 L319.0,1270.8 L317.7,1271.0 L316.4,1271.3 L315.0,1271.5 L313.6,1271.8 L312.0,1272.0 L310.4,1272.3 L308.8,1272.6 L307.1,1272.9 L305.4,1273.2 L303.7,1273.5 L302.0,1273.8 L300.3,1274.2 L298.6,1274.5 L296.8,1274.9 L295.1,1275.2 L293.4,1275.6 L291.7,1275.9 L289.9,1276.3 L288.2,1276.7 L286.5,1277.1 L284.8,1277.5 L283.1,1277.9 L281.4,1278.3 L279.7,1278.7 L278.0,1279.1 L276.3,1279.5 L274.6,1280.0 L272.9,1280.4 L271.2,1280.9 L269.5,1281.3 L267.8,1281.8 L266.1,1282.3 L264.4,1282.8 L262.7,1283.3 L261.0,1283.8 L259.3,1284.3 L257.6,1284.8 L255.9,1285.3 L254.2,1285.8 L252.5,1286.3 L250.8,1286.8 L249.1,1287.3 L247.5,1287.7 L245.8,1288.2 L244.1,1288.6 L242.4,1289.1 L240.7,1289.5 L239.0,1290.0 L237.2,1290.5 L235.5,1291.0 L233.8,1291.5 L232.1,1292.1 L230.3,1292.7 L228.6,1293.3 L226.8,1294.0 L225.1,1294.7 L223.4,1295.5 L221.7,1296.2 L219.9,1297.0 L218.2,1297.8 L216.5,1298.6 L214.8,1299.3 L213.1,1300.1 L211.5,1300.9 L209.8,1301.6 L208.1,1302.4 L206.3,1303.1 L204.6,1303.9 L202.8,1304.6 L201.1,1305.4 L199.3,1306.1 L197.6,1306.9 L195.9,1307.6 L194.2,1308.4 L192.6,1309.1 L191.0,1309.9 L189.4,1310.6 L187.9,1311.3 L186.5,1312.0 L185.1,1312.7 L183.7,1313.4 L182.4,1314.0 L181.1,1314.7 L179.8,1315.4 L178.5,1316.0 L177.3,1316.7 L176.2,1317.3 L175.0,1318.0 L173.9,1318.6 L172.9,1319.2 L171.9,1319.8 L170.9,1320.4 L170.0,1321.0 L169.0,1321.5 L168.2,1322.1 L167.3,1322.7 L166.5,1323.3 L165.6,1323.9 L164.8,1324.5 L164.0,1325.2 L163.1,1325.9 L162.3,1326.7 L161.4,1327.5 L160.5,1328.4 L159.7,1329.4 L158.9,1330.3 L158.1,1331.2 L157.3,1332.1 L156.6,1332.9 L156.0,1333.7 L155.5,1334.3 L155.0,1334.9 L154.6,1335.3Z" fill="#111" stroke="#111" stroke-width="0.6" stroke-linejoin="round"/>
<path d="M158.8,1287.4 L159.2,1287.1 L159.5,1286.8 L160.0,1286.4 L160.4,1285.9 L160.9,1285.4 L161.4,1284.9 L162.0,1284.4 L162.7,1283.9 L163.3,1283.4 L164.1,1282.9 L164.8,1282.4 L165.7,1282.0 L166.6,1281.6 L167.6,1281.1 L168.7,1280.7 L169.9,1280.2 L171.1,1279.8 L172.3,1279.4 L173.6,1279.0 L175.0,1278.6 L176.3,1278.2 L177.8,1277.8 L179.2,1277.4 L180.6,1277.1 L182.1,1276.8 L183.6,1276.5 L185.1,1276.2 L186.6,1275.9 L188.2,1275.6 L189.8,1275.4 L191.4,1275.2 L193.1,1274.9 L194.9,1274.7 L196.8,1274.5 L198.8,1274.3 L200.8,1274.1 L202.9,1273.9 L205.2,1273.7 L207.4,1273.5 L209.8,1273.4 L212.2,1273.2 L214.7,1273.0 L217.3,1272.9 L219.9,1272.7 L222.6,1272.6 L225.4,1272.4 L228.2,1272.3 L231.2,1272.1 L234.2,1271.9 L237.5,1271.8 L240.8,1271.6 L244.3,1271.4 L247.9,1271.2 L251.5,1271.1 L255.0,1270.9 L258.6,1270.7 L262.1,1270.6 L265.5,1270.4 L268.7,1270.3 L271.8,1270.1 L274.7,1269.9 L277.4,1269.8 L280.1,1269.7 L282.7,1269.5 L285.3,1269.4 L287.8,1269.2 L290.2,1269.1 L292.6,1269.0 L295.0,1268.8 L297.4,1268.7 L299.7,1268.6 L302.1,1268.5 L304.5,1268.4 L306.7,1268.3 L308.8,1268.2 L310.8,1268.2 L312.8,1268.1 L314.9,1268.0 L317.0,1267.9 L319.2,1267.9 L321.6,1267.8 L324.1,1267.7 L326.9,1267.6 L330.0,1267.5 L333.4,1267.4 L337.1,1267.3 L341.0,1267.1 L345.1,1267.0 L349.3,1266.8 L353.7,1266.7 L358.1,1266.5 L362.6,1266.4 L367.0,1266.2 L371.5,1266.1 L375.8,1265.9 L380.0,1265.7 L384.3,1265.5 L388.8,1265.3 L393.4,1265.1 L398.0,1264.9 L402.7,1264.6 L407.2,1264.4 L411.7,1264.1 L416.0,1263.9 L420.0,1263.7 L423.8,1263.5 L427.1,1263.3 L430.1,1263.1 L432.5,1262.9 L434.6,1262.8 L436.2,1262.7 L437.6,1262.7 L438.7,1262.6 L439.6,1262.5 L440.5,1262.4 L441.3,1262.3 L442.1,1262.2 L443.0,1262.0 L444.0,1261.8 L445.2,1261.6 L446.7,1261.2 L448.2,1260.8 L449.7,1260.4 L451.2,1259.9 L452.8,1259.4 L454.4,1258.8 L455.9,1258.3 L457.5,1257.8 L458.9,1257.3 L460.4,1256.8 L461.7,1256.4 L463.0,1256.1 L464.2,1255.8 L465.3,1255.5 L466.4,1255.2 L467.4,1255.0 L468.3,1254.8 L469.2,1254.6 L470.2,1254.4 L471.1,1254.3 L472.0,1254.1 L473.0,1254.0 L474.0,1253.9 L475.1,1253.8 L476.2,1253.7 L477.2,1253.7 L478.2,1253.6 L479.3,1253.6 L480.3,1253.6 L481.4,1253.6 L482.5,1253.7 L483.8,1253.7 L485.1,1253.8 L486.6,1253.8 L488.2,1253.9 L490.0,1253.9 L491.9,1253.9 L494.0,1254.0 L496.2,1254.1 L498.5,1254.1 L500.9,1254.2 L503.4,1254.3 L506.0,1254.4 L508.7,1254.5 L511.4,1254.6 L514.2,1254.7 L517.0,1254.8 L519.9,1254.9 L522.9,1255.0 L526.0,1255.2 L529.2,1255.4 L532.5,1255.5 L535.9,1255.7 L539.3,1255.9 L542.7,1256.1 L546.2,1256.3 L549.7,1256.5 L553.1,1256.7 L556.6,1256.8 L559.9,1257.0 L563.3,1257.1 L566.6,1257.3 L569.9,1257.4 L573.2,1257.5 L576.5,1257.7 L579.8,1257.8 L583.1,1257.9 L586.4,1258.0 L589.7,1258.1 L593.1,1258.3 L596.5,1258.4 L599.9,1258.5 L603.4,1258.6 L606.7,1258.8 L610.0,1258.9 L613.3,1259.1 L616.7,1259.2 L620.0,1259.4 L623.5,1259.5 L627.1,1259.7 L630.8,1259.8 L634.7,1259.9 L638.8,1259.9 L643.1,1260.0 L647.7,1260.0 L652.6,1260.1 L657.8,1260.1 L663.2,1260.1 L668.8,1260.0 L674.4,1260.0 L680.0,1259.9 L685.6,1259.9 L691.1,1259.8 L696.4,1259.7 L701.5,1259.6 L706.2,1259.5 L710.7,1259.4 L715.1,1259.2 L719.2,1259.1 L723.2,1258.9 L727.1,1258.7 L730.9,1258.6 L734.7,1258.4 L738.4,1258.1 L742.1,1257.9 L745.9,1257.7 L749.7,1257.4 L753.6,1257.1 L757.6,1256.8 L761.7,1256.5 L765.9,1256.1 L770.0,1255.7 L774.2,1255.3 L778.4,1254.9 L782.4,1254.5 L786.5,1254.1 L790.3,1253.7 L794.1,1253.3 L797.7,1252.9 L801.1,1252.5 L804.3,1252.1 L807.4,1251.7 L810.4,1251.4 L813.3,1251.0 L816.1,1250.6 L818.8,1250.3 L821.3,1249.9 L823.8,1249.5 L826.1,1249.2 L828.4,1248.8 L830.6,1248.5 L832.7,1248.2 L834.7,1247.8 L836.6,1247.5 L838.5,1247.2 L840.2,1246.8 L841.9,1246.5 L843.4,1246.1 L844.9,1245.8 L846.2,1245.5 L847.4,1245.3 L848.4,1245.0 L849.4,1244.8 L850.1,1244.7 L849.5,1241.3 L848.6,1241.5 L847.7,1241.7 L846.6,1242.0 L845.4,1242.2 L844.1,1242.5 L842.7,1242.8 L841.2,1243.1 L839.6,1243.5 L837.8,1243.8 L836.0,1244.2 L834.1,1244.5 L832.1,1244.8 L830.1,1245.1 L827.9,1245.5 L825.6,1245.8 L823.3,1246.2 L820.8,1246.5 L818.3,1246.9 L815.6,1247.3 L812.9,1247.6 L810.0,1248.0 L807.0,1248.4 L803.9,1248.7 L800.7,1249.1 L797.3,1249.5 L793.7,1249.9 L790.0,1250.3 L786.1,1250.8 L782.1,1251.2 L778.0,1251.6 L773.9,1252.1 L769.7,1252.5 L765.6,1252.9 L761.4,1253.2 L757.4,1253.6 L753.4,1253.9 L749.5,1254.2 L745.7,1254.5 L741.9,1254.7 L738.2,1254.9 L734.5,1255.2 L730.7,1255.4 L726.9,1255.5 L723.1,1255.7 L719.1,1255.9 L714.9,1256.0 L710.6,1256.2 L706.2,1256.3 L701.4,1256.4 L696.3,1256.5 L691.0,1256.7 L685.6,1256.7 L680.0,1256.8 L674.4,1256.9 L668.8,1256.9 L663.2,1257.0 L657.8,1257.0 L652.6,1257.0 L647.7,1257.0 L643.1,1257.0 L638.8,1256.9 L634.8,1256.9 L630.9,1256.8 L627.2,1256.7 L623.6,1256.5 L620.2,1256.4 L616.8,1256.2 L613.5,1256.1 L610.2,1255.9 L606.8,1255.8 L603.5,1255.6 L600.1,1255.5 L596.6,1255.4 L593.2,1255.3 L589.8,1255.1 L586.5,1255.0 L583.2,1254.9 L579.9,1254.8 L576.6,1254.7 L573.3,1254.5 L570.0,1254.4 L566.7,1254.3 L563.4,1254.1 L560.1,1254.0 L556.7,1253.9 L553.3,1253.7 L549.8,1253.5 L546.4,1253.4 L542.9,1253.2 L539.5,1253.0 L536.0,1252.8 L532.7,1252.7 L529.4,1252.5 L526.2,1252.4 L523.0,1252.2 L520.1,1252.1 L517.2,1252.0 L514.3,1251.9 L511.5,1251.8 L508.7,1251.7 L506.1,1251.6 L503.5,1251.6 L501.0,1251.5 L498.6,1251.5 L496.2,1251.4 L494.0,1251.4 L492.0,1251.3 L490.0,1251.3 L488.2,1251.3 L486.6,1251.2 L485.2,1251.2 L483.8,1251.2 L482.6,1251.2 L481.4,1251.1 L480.3,1251.1 L479.2,1251.2 L478.2,1251.2 L477.1,1251.2 L476.0,1251.3 L474.9,1251.4 L473.8,1251.5 L472.7,1251.7 L471.7,1251.8 L470.7,1252.0 L469.7,1252.1 L468.8,1252.3 L467.8,1252.5 L466.8,1252.8 L465.8,1253.0 L464.8,1253.3 L463.6,1253.6 L462.4,1253.9 L461.1,1254.3 L459.7,1254.7 L458.2,1255.2 L456.7,1255.7 L455.2,1256.2 L453.7,1256.8 L452.1,1257.3 L450.6,1257.8 L449.0,1258.3 L447.6,1258.7 L446.1,1259.1 L444.8,1259.4 L443.5,1259.7 L442.5,1259.9 L441.7,1260.0 L440.9,1260.2 L440.2,1260.3 L439.4,1260.3 L438.5,1260.4 L437.4,1260.5 L436.1,1260.5 L434.4,1260.6 L432.4,1260.8 L429.9,1260.9 L427.0,1261.1 L423.6,1261.3 L419.9,1261.5 L415.9,1261.7 L411.6,1261.9 L407.1,1262.2 L402.5,1262.4 L397.9,1262.7 L393.3,1262.9 L388.7,1263.1 L384.2,1263.3 L380.0,1263.5 L375.7,1263.7 L371.4,1263.9 L366.9,1264.0 L362.5,1264.2 L358.0,1264.3 L353.6,1264.5 L349.2,1264.6 L345.0,1264.8 L340.9,1264.9 L337.0,1265.1 L333.4,1265.2 L330.0,1265.3 L326.9,1265.4 L324.1,1265.5 L321.5,1265.6 L319.1,1265.7 L316.9,1265.7 L314.8,1265.8 L312.7,1265.9 L310.7,1266.0 L308.7,1266.0 L306.6,1266.1 L304.4,1266.2 L302.1,1266.3 L299.6,1266.4 L297.2,1266.5 L294.9,1266.6 L292.5,1266.8 L290.1,1266.9 L287.6,1267.0 L285.2,1267.2 L282.6,1267.3 L280.0,1267.5 L277.3,1267.6 L274.5,1267.8 L271.6,1267.9 L268.6,1268.1 L265.4,1268.2 L262.0,1268.4 L258.5,1268.5 L254.9,1268.7 L251.3,1268.9 L247.8,1269.0 L244.2,1269.2 L240.7,1269.4 L237.3,1269.6 L234.1,1269.7 L231.0,1269.9 L228.1,1270.1 L225.3,1270.2 L222.5,1270.4 L219.8,1270.5 L217.1,1270.7 L214.6,1270.8 L212.1,1271.0 L209.6,1271.2 L207.3,1271.3 L205.0,1271.5 L202.7,1271.7 L200.6,1271.9 L198.5,1272.1 L196.6,1272.3 L194.7,1272.5 L192.9,1272.8 L191.1,1273.0 L189.4,1273.2 L187.8,1273.5 L186.2,1273.7 L184.7,1274.0 L183.2,1274.3 L181.7,1274.6 L180.2,1274.9 L178.7,1275.3 L177.2,1275.6 L175.8,1276.0 L174.3,1276.4 L173.0,1276.9 L171.6,1277.3 L170.3,1277.7 L169.1,1278.2 L167.9,1278.6 L166.8,1279.1 L165.7,1279.6 L164.7,1280.0 L163.8,1280.5 L162.9,1281.0 L162.1,1281.6 L161.3,1282.2 L160.6,1282.7 L160.0,1283.3 L159.4,1283.8 L158.9,1284.3 L158.4,1284.8 L158.0,1285.2 L157.7,1285.5 L157.4,1285.8Z" fill="#161616" stroke="#161616" stroke-width="0.6" stroke-linejoin="round"/>
<path d="M430.0,1262.0C435.0,1261.8 450.0,1261.0 460.0,1260.6C470.0,1260.2 480.0,1260.1 490.0,1259.8C500.0,1259.5 510.8,1259.1 520.0,1258.6C529.2,1258.0 535.0,1256.8 545.0,1256.5C555.0,1256.2 574.2,1257.0 580.0,1257.1" fill="none" stroke="#555" stroke-width="1.80" stroke-linecap="round" stroke-linejoin="round"/>
<path d="M157.2,1292.6 L158.3,1292.6 L159.6,1292.5 L161.2,1292.4 L163.0,1292.4 L164.9,1292.3 L166.9,1292.2 L169.1,1292.1 L171.3,1292.0 L173.6,1291.9 L175.9,1291.8 L178.2,1291.7 L180.5,1291.6 L182.8,1291.5 L185.2,1291.4 L187.6,1291.2 L190.1,1291.1 L192.7,1291.0 L195.3,1290.8 L197.9,1290.7 L200.5,1290.5 L203.1,1290.4 L205.7,1290.3 L208.3,1290.2 L210.9,1290.1 L213.4,1290.0 L215.9,1290.0 L218.4,1289.9 L221.0,1289.9 L223.5,1289.9 L226.1,1289.9 L228.6,1289.9 L231.2,1289.8 L233.7,1289.8 L236.3,1289.8 L238.8,1289.7 L241.4,1289.6 L243.9,1289.5 L246.5,1289.3 L249.0,1289.2 L251.6,1289.0 L254.1,1288.8 L256.7,1288.6 L259.2,1288.4 L261.7,1288.2 L264.2,1288.0 L266.8,1287.9 L269.3,1287.7 L271.8,1287.5 L274.4,1287.3 L276.9,1287.1 L279.5,1287.0 L282.1,1286.8 L284.6,1286.6 L287.2,1286.4 L289.7,1286.2 L292.3,1286.0 L294.8,1285.9 L297.3,1285.7 L299.7,1285.6 L302.2,1285.5 L304.6,1285.4 L306.9,1285.3 L309.2,1285.3 L311.5,1285.3 L313.8,1285.2 L316.1,1285.2 L318.4,1285.2 L320.7,1285.2 L323.0,1285.2 L325.3,1285.1 L327.7,1285.1 L330.1,1285.0 L332.5,1284.9 L334.9,1284.8 L337.2,1284.7 L339.6,1284.6 L342.0,1284.4 L344.4,1284.3 L346.9,1284.2 L349.4,1284.0 L351.9,1283.9 L354.6,1283.7 L357.3,1283.6 L360.1,1283.4 L363.0,1283.2 L366.1,1283.0 L369.2,1282.8 L372.3,1282.6 L375.6,1282.3 L378.9,1282.1 L382.2,1281.9 L385.5,1281.7 L388.9,1281.5 L392.3,1281.3 L395.6,1281.1 L399.0,1280.9 L402.3,1280.8 L405.7,1280.6 L409.2,1280.5 L412.6,1280.4 L416.1,1280.3 L419.6,1280.2 L423.0,1280.1 L426.5,1280.0 L430.0,1279.9 L433.4,1279.8 L436.7,1279.7 L440.0,1279.6 L443.3,1279.5 L446.6,1279.4 L449.9,1279.3 L453.1,1279.2 L456.3,1279.1 L459.5,1279.0 L462.6,1278.9 L465.8,1278.8 L468.8,1278.7 L471.9,1278.5 L474.8,1278.4 L477.8,1278.3 L480.6,1278.2 L483.2,1278.1 L485.7,1277.9 L488.2,1277.8 L490.6,1277.7 L493.0,1277.5 L495.4,1277.4 L497.9,1277.3 L500.5,1277.1 L503.3,1277.0 L506.2,1276.8 L509.4,1276.7 L512.8,1276.6 L516.4,1276.4 L520.2,1276.2 L524.1,1276.1 L528.2,1275.9 L532.3,1275.8 L536.4,1275.6 L540.6,1275.4 L544.7,1275.3 L548.8,1275.1 L552.8,1275.0 L556.6,1274.9 L560.4,1274.8 L564.1,1274.7 L567.8,1274.6 L571.4,1274.6 L575.0,1274.5 L578.6,1274.5 L582.2,1274.4 L585.7,1274.3 L589.3,1274.3 L592.9,1274.2 L596.4,1274.1 L600.0,1274.0 L603.6,1273.9 L607.0,1273.7 L610.4,1273.6 L613.7,1273.4 L617.0,1273.3 L620.4,1273.1 L623.8,1272.9 L627.3,1272.7 L631.0,1272.6 L634.8,1272.4 L638.9,1272.2 L643.2,1272.0 L647.7,1271.8 L652.5,1271.6 L657.5,1271.4 L662.7,1271.2 L668.0,1271.0 L673.5,1270.8 L679.0,1270.6 L684.5,1270.4 L690.0,1270.2 L695.5,1270.0 L700.9,1269.8 L706.3,1269.6 L711.6,1269.4 L717.0,1269.2 L722.6,1269.0 L728.2,1268.9 L733.8,1268.7 L739.3,1268.5 L744.8,1268.3 L750.1,1268.1 L755.3,1267.9 L760.3,1267.7 L765.0,1267.5 L769.4,1267.2 L773.5,1266.9 L777.4,1266.6 L781.1,1266.3 L784.6,1266.0 L788.0,1265.7 L791.1,1265.3 L794.2,1265.0 L797.1,1264.6 L800.0,1264.2 L802.8,1263.8 L805.5,1263.4 L808.2,1263.0 L810.9,1262.5 L813.5,1262.1 L816.1,1261.6 L818.5,1261.1 L820.9,1260.6 L823.2,1260.0 L825.3,1259.5 L827.4,1259.0 L829.3,1258.5 L831.2,1258.0 L832.9,1257.5 L834.4,1257.0 L835.9,1256.6 L837.1,1256.2 L838.2,1255.8 L839.2,1255.4 L840.0,1255.0 L840.8,1254.6 L841.5,1254.2 L842.1,1253.8 L842.7,1253.4 L843.3,1253.0 L843.9,1252.7 L844.5,1252.3 L845.2,1251.8 L845.9,1251.3 L846.5,1250.8 L847.2,1250.3 L847.8,1249.8 L848.3,1249.3 L848.9,1248.9 L849.4,1248.4 L849.8,1248.0 L850.2,1247.7 L850.5,1247.4 L850.8,1247.1 L848.8,1244.9 L848.5,1245.1 L848.2,1245.4 L847.8,1245.8 L847.3,1246.2 L846.9,1246.6 L846.4,1247.1 L845.8,1247.6 L845.3,1248.0 L844.7,1248.5 L844.1,1248.9 L843.5,1249.3 L842.9,1249.7 L842.3,1250.1 L841.7,1250.5 L841.1,1250.9 L840.5,1251.2 L840.0,1251.6 L839.4,1251.9 L838.7,1252.3 L838.0,1252.6 L837.1,1253.0 L836.1,1253.3 L834.9,1253.7 L833.6,1254.2 L832.0,1254.6 L830.4,1255.1 L828.6,1255.6 L826.6,1256.1 L824.6,1256.6 L822.5,1257.1 L820.2,1257.6 L817.9,1258.1 L815.5,1258.6 L813.0,1259.1 L810.4,1259.6 L807.8,1260.0 L805.1,1260.4 L802.4,1260.8 L799.6,1261.2 L796.8,1261.6 L793.8,1262.0 L790.8,1262.3 L787.6,1262.7 L784.3,1263.0 L780.9,1263.3 L777.2,1263.6 L773.3,1263.9 L769.2,1264.2 L764.8,1264.5 L760.1,1264.7 L755.2,1264.9 L750.0,1265.1 L744.7,1265.3 L739.2,1265.5 L733.7,1265.7 L728.1,1265.9 L722.5,1266.0 L716.9,1266.2 L711.5,1266.4 L706.1,1266.6 L700.8,1266.8 L695.4,1267.0 L689.9,1267.2 L684.4,1267.4 L678.8,1267.6 L673.3,1267.8 L667.9,1268.0 L662.6,1268.2 L657.4,1268.4 L652.4,1268.6 L647.6,1268.8 L643.0,1269.0 L638.7,1269.2 L634.7,1269.4 L630.9,1269.6 L627.2,1269.7 L623.7,1269.9 L620.2,1270.1 L616.9,1270.3 L613.6,1270.4 L610.3,1270.6 L606.9,1270.7 L603.5,1270.9 L600.0,1271.0 L596.4,1271.1 L592.8,1271.2 L589.2,1271.3 L585.7,1271.3 L582.1,1271.4 L578.5,1271.5 L575.0,1271.5 L571.3,1271.6 L567.7,1271.6 L564.0,1271.7 L560.3,1271.8 L556.6,1271.9 L552.7,1272.0 L548.7,1272.2 L544.6,1272.3 L540.5,1272.4 L536.3,1272.6 L532.2,1272.8 L528.0,1272.9 L524.0,1273.1 L520.1,1273.2 L516.3,1273.4 L512.6,1273.6 L509.2,1273.7 L506.1,1273.8 L503.1,1274.0 L500.4,1274.1 L497.7,1274.3 L495.2,1274.4 L492.8,1274.5 L490.4,1274.7 L488.0,1274.8 L485.6,1274.9 L483.1,1275.1 L480.4,1275.2 L477.6,1275.3 L474.7,1275.4 L471.8,1275.5 L468.7,1275.6 L465.7,1275.7 L462.5,1275.8 L459.4,1275.9 L456.2,1276.0 L453.0,1276.0 L449.8,1276.1 L446.5,1276.2 L443.2,1276.3 L440.0,1276.4 L436.6,1276.5 L433.3,1276.6 L429.9,1276.6 L426.4,1276.7 L423.0,1276.8 L419.5,1276.9 L416.0,1277.0 L412.5,1277.1 L409.0,1277.1 L405.6,1277.3 L402.2,1277.4 L398.8,1277.5 L395.5,1277.6 L392.1,1277.8 L388.7,1278.0 L385.3,1278.1 L382.0,1278.3 L378.6,1278.5 L375.3,1278.7 L372.1,1278.9 L368.9,1279.1 L365.8,1279.3 L362.8,1279.4 L359.9,1279.6 L357.1,1279.8 L354.3,1279.9 L351.7,1280.1 L349.2,1280.2 L346.7,1280.4 L344.2,1280.5 L341.8,1280.6 L339.4,1280.8 L337.1,1280.9 L334.7,1281.0 L332.3,1281.1 L329.9,1281.2 L327.6,1281.3 L325.2,1281.3 L322.9,1281.4 L320.6,1281.4 L318.3,1281.4 L316.1,1281.4 L313.8,1281.4 L311.5,1281.5 L309.2,1281.5 L306.8,1281.5 L304.4,1281.6 L302.0,1281.7 L299.6,1281.8 L297.1,1281.9 L294.6,1282.1 L292.0,1282.3 L289.5,1282.4 L286.9,1282.6 L284.4,1282.8 L281.8,1283.0 L279.2,1283.2 L276.7,1283.3 L274.1,1283.5 L271.6,1283.7 L269.0,1283.9 L266.5,1284.1 L264.0,1284.3 L261.4,1284.5 L258.9,1284.7 L256.4,1284.8 L253.8,1285.0 L251.3,1285.2 L248.8,1285.4 L246.3,1285.5 L243.7,1285.7 L241.2,1285.8 L238.7,1285.9 L236.2,1286.0 L233.6,1286.0 L231.1,1286.0 L228.6,1286.1 L226.0,1286.1 L223.5,1286.1 L220.9,1286.1 L218.4,1286.1 L215.8,1286.2 L213.3,1286.2 L210.7,1286.3 L208.2,1286.4 L205.6,1286.5 L202.9,1286.6 L200.3,1286.7 L197.7,1286.9 L195.0,1287.0 L192.5,1287.2 L189.9,1287.3 L187.4,1287.4 L185.0,1287.6 L182.6,1287.7 L180.3,1287.8 L178.0,1287.9 L175.8,1288.0 L173.4,1288.1 L171.2,1288.2 L168.9,1288.3 L166.8,1288.4 L164.7,1288.5 L162.8,1288.6 L161.0,1288.6 L159.5,1288.7 L158.1,1288.8 L157.0,1288.8Z" fill="#111" stroke="#111" stroke-width="0.6" stroke-linejoin="round"/>
<path d="M255.3,1199 L299,1263.6 M276.1,1253.2 L299,1263.6 L299,1238.6 M454.4,1190.7 L485.6,1252.1 M464.8,1239.6 L485.6,1252.1 L487.7,1228.2" fill="none" stroke="#333" stroke-width="1.6" stroke-linecap="round" stroke-linejoin="round"/>
<path d="M1746.6,1041.9 L1746.5,1043.3 L1746.4,1045.0 L1746.4,1047.0 L1746.2,1049.2 L1746.1,1051.6 L1746.0,1054.2 L1745.9,1056.9 L1745.7,1059.6 L1745.6,1062.3 L1745.4,1064.9 L1745.3,1067.5 L1745.1,1069.9 L1744.9,1072.3 L1744.7,1074.7 L1744.6,1077.1 L1744.4,1079.5 L1744.1,1081.9 L1743.9,1084.3 L1743.7,1086.7 L1743.5,1089.1 L1743.3,1091.4 L1743.1,1093.6 L1742.8,1095.8 L1742.6,1097.9 L1742.4,1099.9 L1742.2,1101.8 L1742.0,1103.6 L1741.7,1105.4 L1741.5,1107.1 L1741.3,1108.8 L1741.1,1110.4 L1740.8,1112.1 L1740.6,1113.7 L1740.4,1115.4 L1740.1,1117.1 L1739.8,1118.8 L1739.5,1120.6 L1739.2,1122.3 L1738.9,1124.1 L1738.6,1125.9 L1738.3,1127.6 L1738.0,1129.4 L1737.6,1131.2 L1737.3,1132.9 L1736.9,1134.6 L1736.6,1136.4 L1736.2,1138.1 L1735.8,1139.7 L1735.5,1141.4 L1735.1,1143.0 L1734.7,1144.7 L1734.3,1146.3 L1733.9,1147.9 L1733.5,1149.5 L1733.1,1151.1 L1732.7,1152.6 L1732.3,1154.2 L1731.8,1155.7 L1731.3,1157.2 L1730.9,1158.6 L1730.4,1160.0 L1729.9,1161.5 L1729.3,1162.9 L1728.8,1164.2 L1728.3,1165.6 L1727.7,1166.9 L1727.1,1168.2 L1726.5,1169.5 L1725.9,1170.7 L1725.3,1172.0 L1724.6,1173.2 L1724.0,1174.4 L1723.3,1175.6 L1722.5,1176.7 L1721.7,1177.9 L1720.9,1179.0 L1720.1,1180.1 L1719.3,1181.2 L1718.4,1182.3 L1717.6,1183.3 L1716.7,1184.3 L1715.9,1185.3 L1715.0,1186.3 L1714.1,1187.2 L1713.3,1188.1 L1712.5,1188.9 L1711.7,1189.7 L1711.0,1190.5 L1710.2,1191.2 L1709.4,1191.9 L1708.6,1192.6 L1707.8,1193.3 L1706.9,1194.0 L1705.9,1194.6 L1704.8,1195.3 L1703.6,1195.9 L1702.4,1196.6 L1701.1,1197.3 L1699.7,1197.9 L1698.4,1198.6 L1697.0,1199.2 L1695.5,1199.8 L1693.9,1200.4 L1692.1,1201.0 L1690.3,1201.6 L1688.2,1202.2 L1686.0,1202.8 L1683.6,1203.3 L1681.0,1203.9 L1678.1,1204.5 L1675.0,1205.0 L1671.7,1205.6 L1668.3,1206.1 L1664.7,1206.7 L1661.1,1207.2 L1657.5,1207.7 L1653.8,1208.2 L1650.2,1208.7 L1646.7,1209.2 L1643.2,1209.6 L1639.9,1210.0 L1636.7,1210.4 L1633.6,1210.8 L1630.5,1211.1 L1627.4,1211.4 L1624.3,1211.7 L1621.0,1212.0 L1617.7,1212.3 L1614.3,1212.7 L1610.6,1213.0 L1606.8,1213.3 L1602.7,1213.6 L1598.4,1213.9 L1593.8,1214.3 L1588.9,1214.6 L1584.0,1215.0 L1578.8,1215.3 L1573.6,1215.7 L1568.3,1216.0 L1562.9,1216.3 L1557.6,1216.7 L1552.3,1217.0 L1547.1,1217.4 L1541.9,1217.7 L1536.7,1218.0 L1531.3,1218.4 L1525.8,1218.7 L1520.2,1219.0 L1514.6,1219.3 L1509.1,1219.7 L1503.7,1220.0 L1498.5,1220.3 L1493.6,1220.7 L1489.0,1221.0 L1484.7,1221.3 L1481.0,1221.7 L1477.7,1222.1 L1474.8,1222.5 L1472.3,1222.9 L1470.1,1223.3 L1468.1,1223.7 L1466.4,1224.1 L1464.8,1224.5 L1463.4,1224.9 L1462.0,1225.3 L1460.7,1225.7 L1459.4,1226.1 L1457.9,1226.4 L1456.4,1226.8 L1455.0,1227.1 L1453.7,1227.5 L1452.5,1227.8 L1451.3,1228.1 L1450.1,1228.4 L1449.0,1228.7 L1448.0,1229.1 L1447.0,1229.4 L1446.1,1229.7 L1445.1,1230.0 L1444.3,1230.4 L1443.4,1230.7 L1442.7,1231.1 L1442.0,1231.4 L1441.4,1231.7 L1440.8,1232.1 L1440.2,1232.4 L1439.7,1232.8 L1439.2,1233.2 L1438.7,1233.6 L1438.2,1234.0 L1437.7,1234.4 L1437.1,1234.9 L1436.5,1235.4 L1435.9,1236.0 L1435.3,1236.6 L1434.8,1237.2 L1434.2,1237.8 L1433.6,1238.4 L1433.0,1239.1 L1432.4,1239.8 L1431.9,1240.4 L1431.3,1241.1 L1430.7,1241.8 L1430.2,1242.6 L1429.6,1243.3 L1429.0,1244.0 L1428.5,1244.8 L1427.9,1245.6 L1427.3,1246.3 L1426.8,1247.1 L1426.2,1247.9 L1425.6,1248.8 L1425.1,1249.6 L1424.5,1250.4 L1424.0,1251.2 L1423.4,1252.0 L1422.8,1252.8 L1422.2,1253.6 L1421.6,1254.5 L1420.9,1255.3 L1420.3,1256.1 L1419.7,1257.0 L1419.1,1257.8 L1418.5,1258.6 L1417.9,1259.4 L1417.3,1260.2 L1416.7,1260.9 L1416.0,1261.7 L1415.3,1262.3 L1414.6,1263.0 L1413.9,1263.7 L1413.1,1264.3 L1412.4,1265.0 L1411.7,1265.6 L1410.9,1266.2 L1410.1,1266.8 L1409.4,1267.4 L1408.6,1268.0 L1407.8,1268.6 L1407.1,1269.2 L1406.4,1269.8 L1405.7,1270.4 L1405.0,1271.0 L1404.2,1271.6 L1403.5,1272.2 L1402.8,1272.8 L1402.0,1273.4 L1401.3,1274.0 L1400.5,1274.5 L1399.8,1275.1 L1399.1,1275.6 L1398.3,1276.2 L1397.7,1276.9 L1397.0,1277.6 L1396.4,1278.2 L1395.8,1278.9 L1395.2,1279.5 L1394.7,1280.1 L1394.2,1280.7 L1393.8,1281.1 L1393.4,1281.5 L1393.1,1281.8 L1392.9,1282.0 L1392.9,1282.1 L1392.9,1282.2 L1393.0,1282.3 L1393.1,1282.3 L1393.1,1282.4 L1393.0,1282.3 L1392.8,1282.2 L1392.6,1281.9 L1392.2,1281.6 L1391.9,1281.2 L1391.5,1280.8 L1391.1,1280.3 L1390.6,1279.8 L1390.2,1279.4 L1389.8,1279.0 L1389.4,1278.5 L1389.0,1278.0 L1388.5,1277.5 L1388.1,1276.9 L1387.6,1276.3 L1387.1,1275.7 L1386.7,1275.1 L1386.1,1274.5 L1385.6,1273.9 L1385.1,1273.3 L1384.6,1272.7 L1384.0,1272.1 L1383.5,1271.4 L1382.9,1270.8 L1382.3,1270.1 L1381.7,1269.5 L1381.2,1268.8 L1380.6,1268.2 L1380.0,1267.5 L1379.4,1266.9 L1378.8,1266.3 L1378.2,1265.7 L1377.6,1265.1 L1377.1,1264.6 L1376.5,1264.0 L1375.9,1263.5 L1375.3,1263.0 L1374.8,1262.5 L1374.2,1262.0 L1373.6,1261.5 L1373.0,1261.0 L1372.4,1260.5 L1371.8,1260.1 L1371.3,1259.6 L1370.7,1259.2 L1370.1,1258.8 L1369.5,1258.4 L1368.9,1258.0 L1368.3,1257.6 L1367.7,1257.3 L1367.1,1256.9 L1366.5,1256.6 L1365.9,1256.3 L1365.3,1256.0 L1364.7,1255.7 L1364.1,1255.4 L1363.5,1255.2 L1362.9,1254.9 L1362.4,1254.7 L1361.8,1254.5 L1361.2,1254.3 L1360.6,1254.1 L1360.0,1253.9 L1359.4,1253.8 L1358.8,1253.7 L1358.2,1253.6 L1357.5,1253.5 L1356.9,1253.4 L1356.3,1253.4 L1355.6,1253.4 L1355.0,1253.4 L1354.3,1253.5 L1353.7,1253.6 L1353.1,1253.7 L1352.5,1253.8 L1352.0,1253.9 L1351.4,1254.0 L1350.9,1254.1 L1350.4,1254.2 L1349.8,1254.3 L1349.3,1254.4 L1348.8,1254.5 L1348.3,1254.6 L1347.8,1254.6 L1347.4,1254.7 L1347.0,1254.8 L1346.6,1254.9 L1346.2,1254.9 L1345.7,1255.0 L1345.2,1255.0 L1344.7,1255.0 L1344.1,1254.9 L1343.6,1254.8 L1343.0,1254.7 L1342.4,1254.6 L1341.7,1254.4 L1341.0,1254.2 L1340.3,1253.9 L1339.4,1253.7 L1338.5,1253.4 L1337.5,1253.2 L1336.4,1253.0 L1335.2,1252.8 L1333.9,1252.7 L1332.5,1252.6 L1331.0,1252.5 L1329.4,1252.3 L1327.7,1252.2 L1325.9,1252.1 L1324.0,1252.0 L1322.1,1252.0 L1320.1,1251.9 L1318.1,1251.9 L1316.0,1251.9 L1313.9,1252.0 L1311.7,1252.1 L1309.5,1252.2 L1307.2,1252.3 L1304.9,1252.5 L1302.5,1252.7 L1300.1,1253.0 L1297.6,1253.3 L1295.1,1253.5 L1292.5,1253.8 L1290.0,1254.1 L1287.4,1254.4 L1284.8,1254.7 L1282.2,1255.0 L1279.6,1255.2 L1276.8,1255.4 L1273.9,1255.6 L1270.9,1255.8 L1267.9,1256.0 L1264.9,1256.2 L1262.0,1256.4 L1259.1,1256.6 L1256.4,1256.9 L1253.8,1257.1 L1251.4,1257.3 L1249.2,1257.6 L1247.2,1258.0 L1245.4,1258.4 L1243.8,1258.9 L1242.4,1259.3 L1241.2,1259.8 L1240.1,1260.2 L1239.1,1260.6 L1238.3,1261.0 L1237.5,1261.3 L1236.7,1261.5 L1235.9,1261.7 L1234.9,1261.9 L1233.7,1262.1 L1232.6,1262.2 L1231.4,1262.4 L1230.1,1262.5 L1228.9,1262.6 L1227.6,1262.7 L1226.3,1262.8 L1224.9,1262.9 L1223.5,1262.9 L1222.0,1262.9 L1220.4,1263.0 L1218.9,1263.0 L1217.3,1263.1 L1215.7,1263.2 L1213.9,1263.3 L1212.1,1263.3 L1210.2,1263.3 L1208.3,1263.3 L1206.3,1263.4 L1204.3,1263.4 L1202.3,1263.5 L1200.3,1263.6 L1198.2,1263.7 L1196.2,1264.0 L1194.2,1264.2 L1192.3,1264.4 L1190.3,1264.7 L1188.4,1265.0 L1186.5,1265.3 L1184.6,1265.7 L1182.6,1266.1 L1180.8,1266.5 L1178.9,1266.8 L1177.0,1267.2 L1175.1,1267.6 L1173.3,1268.0 L1171.4,1268.3 L1169.5,1268.6 L1167.7,1269.0 L1165.8,1269.3 L1163.9,1269.6 L1162.0,1270.0 L1160.1,1270.3 L1158.2,1270.7 L1156.3,1271.1 L1154.4,1271.5 L1152.5,1271.9 L1150.6,1272.3 L1148.7,1272.7 L1146.8,1273.1 L1145.0,1273.6 L1143.1,1274.0 L1141.2,1274.5 L1139.3,1275.0 L1137.4,1275.4 L1135.5,1275.9 L1133.6,1276.4 L1131.7,1276.9 L1129.8,1277.4 L1127.9,1277.9 L1126.0,1278.4 L1124.1,1279.0 L1122.2,1279.5 L1120.3,1280.0 L1118.4,1280.6 L1116.5,1281.1 L1114.7,1281.7 L1112.8,1282.2 L1110.9,1282.8 L1109.0,1283.3 L1107.1,1283.9 L1105.3,1284.4 L1103.4,1284.9 L1101.5,1285.4 L1099.6,1285.9 L1097.7,1286.4 L1095.7,1286.9 L1093.8,1287.4 L1091.8,1287.9 L1089.9,1288.4 L1088.0,1289.0 L1086.1,1289.5 L1084.3,1290.1 L1082.5,1290.8 L1080.8,1291.5 L1079.1,1292.2 L1077.4,1292.9 L1075.8,1293.7 L1074.2,1294.4 L1072.7,1295.2 L1071.2,1296.0 L1069.8,1296.8 L1068.4,1297.6 L1067.2,1298.4 L1065.9,1299.1 L1064.8,1299.9 L1063.7,1300.7 L1062.7,1301.5 L1061.8,1302.3 L1060.9,1303.1 L1060.1,1303.9 L1059.4,1304.7 L1058.8,1305.5 L1058.2,1306.2 L1057.6,1306.9 L1057.1,1307.6 L1056.6,1308.3 L1056.2,1308.9 L1055.7,1309.7 L1055.3,1310.6 L1054.9,1311.4 L1054.7,1312.2 L1054.4,1312.9 L1054.2,1313.7 L1054.1,1314.3 L1053.9,1314.9 L1053.8,1315.5 L1053.8,1315.9 L1053.7,1316.3 L1053.7,1316.5 L1058.3,1318.5 L1058.5,1318.1 L1058.8,1317.7 L1059.0,1317.3 L1059.3,1316.8 L1059.5,1316.3 L1059.8,1315.8 L1060.1,1315.3 L1060.4,1314.9 L1060.7,1314.4 L1061.1,1313.9 L1061.4,1313.5 L1061.8,1313.1 L1062.3,1312.5 L1062.7,1311.9 L1063.2,1311.3 L1063.7,1310.7 L1064.2,1310.2 L1064.8,1309.6 L1065.3,1309.0 L1065.9,1308.4 L1066.6,1307.9 L1067.3,1307.3 L1068.1,1306.7 L1069.0,1306.1 L1070.0,1305.4 L1071.1,1304.8 L1072.3,1304.0 L1073.5,1303.3 L1074.8,1302.6 L1076.2,1301.9 L1077.6,1301.1 L1079.0,1300.4 L1080.5,1299.7 L1082.0,1299.1 L1083.6,1298.4 L1085.1,1297.8 L1086.7,1297.2 L1088.4,1296.7 L1090.1,1296.2 L1091.9,1295.6 L1093.7,1295.1 L1095.6,1294.7 L1097.6,1294.2 L1099.5,1293.7 L1101.5,1293.2 L1103.4,1292.7 L1105.4,1292.1 L1107.3,1291.6 L1109.2,1291.0 L1111.1,1290.5 L1113.0,1289.9 L1114.9,1289.3 L1116.8,1288.8 L1118.7,1288.2 L1120.5,1287.6 L1122.4,1287.0 L1124.3,1286.5 L1126.1,1285.9 L1128.0,1285.4 L1129.9,1284.9 L1131.7,1284.4 L1133.6,1283.8 L1135.5,1283.3 L1137.3,1282.8 L1139.2,1282.3 L1141.0,1281.8 L1142.9,1281.4 L1144.8,1280.9 L1146.6,1280.4 L1148.5,1280.0 L1150.3,1279.5 L1152.2,1279.1 L1154.0,1278.7 L1155.9,1278.3 L1157.7,1277.9 L1159.6,1277.6 L1161.4,1277.2 L1163.3,1276.9 L1165.1,1276.5 L1167.0,1276.2 L1168.9,1275.8 L1170.8,1275.5 L1172.6,1275.2 L1174.5,1274.8 L1176.4,1274.5 L1178.3,1274.2 L1180.2,1273.8 L1182.1,1273.5 L1184.0,1273.2 L1185.8,1272.8 L1187.7,1272.5 L1189.5,1272.2 L1191.4,1272.0 L1193.2,1271.8 L1195.0,1271.6 L1196.8,1271.4 L1198.6,1271.4 L1200.4,1271.5 L1202.2,1271.6 L1204.1,1271.7 L1206.0,1271.9 L1207.9,1272.1 L1209.8,1272.3 L1211.7,1272.5 L1213.6,1272.6 L1215.5,1272.8 L1217.3,1272.9 L1219.1,1273.0 L1220.8,1272.9 L1222.4,1272.8 L1223.9,1272.8 L1225.4,1272.7 L1226.9,1272.6 L1228.4,1272.4 L1229.8,1272.3 L1231.2,1272.1 L1232.6,1271.9 L1234.1,1271.7 L1235.5,1271.4 L1236.9,1271.1 L1238.4,1270.7 L1239.7,1270.2 L1240.9,1269.7 L1242.0,1269.2 L1243.0,1268.6 L1243.9,1268.1 L1244.7,1267.7 L1245.6,1267.2 L1246.6,1266.7 L1247.8,1266.3 L1249.2,1265.9 L1250.8,1265.4 L1252.8,1264.9 L1255.0,1264.3 L1257.4,1263.8 L1260.1,1263.2 L1262.8,1262.7 L1265.7,1262.1 L1268.6,1261.6 L1271.6,1261.1 L1274.5,1260.5 L1277.3,1260.0 L1280.1,1259.5 L1282.8,1259.0 L1285.3,1258.6 L1287.9,1258.2 L1290.5,1257.8 L1293.0,1257.4 L1295.5,1257.0 L1298.0,1256.6 L1300.5,1256.3 L1302.9,1255.9 L1305.2,1255.6 L1307.5,1255.3 L1309.7,1255.1 L1311.9,1254.9 L1314.0,1254.8 L1316.1,1254.7 L1318.1,1254.7 L1320.1,1254.7 L1322.1,1254.7 L1323.9,1254.7 L1325.8,1254.8 L1327.5,1254.9 L1329.2,1255.0 L1330.8,1255.1 L1332.3,1255.2 L1333.7,1255.3 L1334.9,1255.4 L1336.0,1255.6 L1337.0,1255.8 L1337.9,1256.0 L1338.8,1256.2 L1339.5,1256.4 L1340.3,1256.6 L1341.0,1256.9 L1341.7,1257.1 L1342.4,1257.2 L1343.1,1257.4 L1343.9,1257.5 L1344.6,1257.5 L1345.2,1257.6 L1345.8,1257.6 L1346.4,1257.5 L1346.9,1257.4 L1347.4,1257.4 L1347.9,1257.3 L1348.3,1257.2 L1348.8,1257.1 L1349.2,1257.0 L1349.7,1257.0 L1350.2,1256.9 L1350.7,1256.8 L1351.3,1256.7 L1351.9,1256.7 L1352.5,1256.6 L1353.0,1256.5 L1353.6,1256.4 L1354.1,1256.3 L1354.7,1256.2 L1355.2,1256.2 L1355.7,1256.2 L1356.2,1256.2 L1356.7,1256.2 L1357.2,1256.3 L1357.7,1256.3 L1358.2,1256.4 L1358.7,1256.6 L1359.2,1256.7 L1359.7,1256.9 L1360.2,1257.1 L1360.8,1257.3 L1361.3,1257.5 L1361.8,1257.7 L1362.3,1257.9 L1362.9,1258.2 L1363.4,1258.4 L1363.9,1258.7 L1364.5,1259.0 L1365.0,1259.3 L1365.6,1259.6 L1366.1,1259.9 L1366.6,1260.3 L1367.2,1260.6 L1367.7,1261.0 L1368.3,1261.4 L1368.8,1261.8 L1369.3,1262.2 L1369.9,1262.6 L1370.4,1263.0 L1370.9,1263.5 L1371.5,1263.9 L1372.0,1264.4 L1372.5,1264.9 L1373.1,1265.4 L1373.6,1265.9 L1374.2,1266.5 L1374.7,1267.0 L1375.2,1267.5 L1375.8,1268.1 L1376.4,1268.7 L1376.9,1269.2 L1377.5,1269.9 L1378.1,1270.5 L1378.6,1271.1 L1379.2,1271.7 L1379.8,1272.4 L1380.4,1273.0 L1380.9,1273.7 L1381.5,1274.3 L1382.0,1274.9 L1382.5,1275.5 L1383.0,1276.1 L1383.4,1276.7 L1383.9,1277.3 L1384.4,1277.9 L1384.8,1278.5 L1385.2,1279.1 L1385.7,1279.7 L1386.1,1280.3 L1386.5,1280.8 L1387.0,1281.4 L1387.4,1281.9 L1387.8,1282.4 L1388.1,1282.8 L1388.3,1283.2 L1388.6,1283.6 L1388.8,1284.1 L1389.1,1284.5 L1389.4,1285.0 L1389.8,1285.5 L1390.4,1286.1 L1391.0,1286.5 L1391.8,1286.9 L1392.8,1287.1 L1393.7,1287.1 L1394.7,1286.9 L1395.6,1286.6 L1396.4,1286.3 L1397.2,1285.9 L1397.9,1285.4 L1398.7,1284.9 L1399.5,1284.4 L1400.2,1283.9 L1400.9,1283.4 L1401.7,1282.9 L1402.4,1282.5 L1403.1,1282.0 L1403.7,1281.5 L1404.4,1280.9 L1405.1,1280.3 L1405.9,1279.7 L1406.6,1279.1 L1407.4,1278.4 L1408.1,1277.7 L1408.9,1277.1 L1409.7,1276.4 L1410.4,1275.7 L1411.2,1275.0 L1411.9,1274.2 L1412.6,1273.4 L1413.2,1272.6 L1413.8,1271.8 L1414.5,1271.0 L1415.1,1270.2 L1415.7,1269.3 L1416.3,1268.5 L1416.9,1267.6 L1417.5,1266.8 L1418.1,1265.9 L1418.6,1265.0 L1419.2,1264.1 L1419.8,1263.2 L1420.3,1262.4 L1420.9,1261.4 L1421.4,1260.5 L1421.9,1259.6 L1422.4,1258.7 L1422.9,1257.8 L1423.4,1256.9 L1423.9,1256.0 L1424.4,1255.1 L1424.9,1254.2 L1425.4,1253.4 L1426.0,1252.6 L1426.5,1251.7 L1427.1,1250.9 L1427.6,1250.1 L1428.2,1249.3 L1428.7,1248.5 L1429.3,1247.7 L1429.8,1247.0 L1430.4,1246.2 L1430.9,1245.5 L1431.5,1244.7 L1432.0,1244.0 L1432.6,1243.4 L1433.2,1242.7 L1433.7,1242.0 L1434.3,1241.3 L1434.8,1240.7 L1435.4,1240.0 L1435.9,1239.4 L1436.5,1238.8 L1437.1,1238.2 L1437.6,1237.7 L1438.1,1237.2 L1438.7,1236.7 L1439.2,1236.2 L1439.7,1235.8 L1440.2,1235.4 L1440.6,1235.1 L1441.1,1234.7 L1441.5,1234.4 L1442.0,1234.1 L1442.5,1233.8 L1443.1,1233.5 L1443.7,1233.2 L1444.4,1232.9 L1445.1,1232.6 L1446.0,1232.3 L1446.9,1232.0 L1447.8,1231.7 L1448.7,1231.3 L1449.7,1231.0 L1450.8,1230.7 L1451.9,1230.4 L1453.1,1230.1 L1454.3,1229.8 L1455.6,1229.5 L1457.0,1229.1 L1458.5,1228.8 L1460.0,1228.4 L1461.4,1228.0 L1462.7,1227.6 L1464.1,1227.2 L1465.5,1226.8 L1467.0,1226.4 L1468.7,1226.0 L1470.5,1225.6 L1472.7,1225.2 L1475.1,1224.8 L1478.0,1224.5 L1481.2,1224.1 L1485.0,1223.7 L1489.1,1223.4 L1493.7,1223.1 L1498.7,1222.7 L1503.9,1222.4 L1509.3,1222.1 L1514.8,1221.7 L1520.4,1221.4 L1526.0,1221.1 L1531.5,1220.8 L1536.9,1220.4 L1542.1,1220.1 L1547.2,1219.8 L1552.5,1219.4 L1557.8,1219.1 L1563.1,1218.7 L1568.4,1218.4 L1573.7,1218.0 L1579.0,1217.7 L1584.1,1217.4 L1589.1,1217.0 L1593.9,1216.7 L1598.5,1216.3 L1602.9,1216.0 L1607.0,1215.7 L1610.8,1215.4 L1614.5,1215.0 L1617.9,1214.7 L1621.3,1214.4 L1624.5,1214.1 L1627.6,1213.8 L1630.7,1213.5 L1633.9,1213.2 L1637.0,1212.8 L1640.2,1212.4 L1643.6,1212.0 L1647.0,1211.5 L1650.5,1211.1 L1654.2,1210.6 L1657.8,1210.1 L1661.5,1209.6 L1665.1,1209.1 L1668.6,1208.5 L1672.1,1208.0 L1675.4,1207.4 L1678.5,1206.8 L1681.5,1206.2 L1684.2,1205.7 L1686.6,1205.1 L1688.9,1204.5 L1691.0,1203.9 L1692.9,1203.3 L1694.7,1202.7 L1696.3,1202.0 L1697.9,1201.4 L1699.4,1200.7 L1700.8,1200.1 L1702.1,1199.4 L1703.5,1198.7 L1704.8,1198.1 L1706.0,1197.4 L1707.2,1196.6 L1708.3,1195.9 L1709.3,1195.2 L1710.2,1194.5 L1711.0,1193.7 L1711.9,1193.0 L1712.7,1192.2 L1713.4,1191.4 L1714.2,1190.6 L1715.0,1189.7 L1715.9,1188.8 L1716.8,1187.9 L1717.6,1186.9 L1718.5,1185.9 L1719.4,1184.8 L1720.3,1183.8 L1721.2,1182.7 L1722.0,1181.6 L1722.9,1180.4 L1723.7,1179.2 L1724.5,1178.0 L1725.3,1176.8 L1726.0,1175.6 L1726.7,1174.4 L1727.4,1173.1 L1728.1,1171.8 L1728.7,1170.5 L1729.3,1169.2 L1729.9,1167.8 L1730.5,1166.5 L1731.0,1165.1 L1731.6,1163.7 L1732.1,1162.3 L1732.6,1160.8 L1733.1,1159.4 L1733.6,1157.9 L1734.1,1156.4 L1734.6,1154.8 L1735.0,1153.3 L1735.4,1151.7 L1735.9,1150.1 L1736.3,1148.5 L1736.6,1146.9 L1737.0,1145.2 L1737.4,1143.6 L1737.8,1141.9 L1738.2,1140.3 L1738.5,1138.6 L1738.9,1136.9 L1739.3,1135.1 L1739.6,1133.4 L1740.0,1131.6 L1740.3,1129.8 L1740.6,1128.1 L1741.0,1126.3 L1741.3,1124.5 L1741.6,1122.7 L1741.9,1121.0 L1742.2,1119.2 L1742.5,1117.5 L1742.7,1115.8 L1743.0,1114.1 L1743.2,1112.4 L1743.5,1110.8 L1743.7,1109.1 L1743.9,1107.4 L1744.1,1105.7 L1744.3,1103.9 L1744.6,1102.0 L1744.8,1100.1 L1745.0,1098.1 L1745.2,1096.0 L1745.4,1093.9 L1745.7,1091.6 L1745.9,1089.3 L1746.1,1086.9 L1746.3,1084.5 L1746.5,1082.1 L1746.7,1079.7 L1746.9,1077.3 L1747.1,1074.8 L1747.3,1072.4 L1747.5,1070.1 L1747.7,1067.7 L1747.8,1065.1 L1748.0,1062.4 L1748.1,1059.7 L1748.3,1057.0 L1748.4,1054.3 L1748.5,1051.7 L1748.6,1049.3 L1748.8,1047.1 L1748.8,1045.1 L1748.9,1043.4 L1749.0,1042.1Z" fill="#111" stroke="#111" stroke-width="0.6" stroke-linejoin="round"/>
<path d="M1333.8,1143.5 L1334.5,1143.1 L1335.4,1142.6 L1336.4,1141.9 L1337.6,1141.2 L1338.8,1140.4 L1340.2,1139.6 L1341.6,1138.8 L1343.0,1138.0 L1344.4,1137.3 L1345.8,1136.6 L1347.1,1136.0 L1348.4,1135.5 L1349.6,1135.1 L1350.8,1134.9 L1351.9,1134.7 L1353.0,1134.6 L1354.2,1134.5 L1355.3,1134.4 L1356.5,1134.4 L1357.7,1134.3 L1358.9,1134.2 L1360.2,1134.1 L1361.6,1133.8 L1363.1,1133.5 L1364.6,1133.1 L1366.2,1132.6 L1367.8,1132.0 L1369.4,1131.3 L1371.1,1130.6 L1372.8,1129.9 L1374.6,1129.2 L1376.5,1128.6 L1378.4,1127.9 L1380.5,1127.4 L1382.7,1126.9 L1385.0,1126.5 L1387.5,1126.2 L1390.2,1126.0 L1393.2,1125.8 L1396.3,1125.7 L1399.4,1125.6 L1402.6,1125.6 L1405.8,1125.6 L1409.0,1125.6 L1412.0,1125.6 L1414.9,1125.6 L1417.6,1125.6 L1420.0,1125.5 L1422.2,1125.4 L1424.2,1125.4 L1426.1,1125.3 L1427.8,1125.3 L1429.4,1125.2 L1430.9,1125.1 L1432.4,1125.1 L1433.9,1125.0 L1435.4,1125.0 L1436.8,1124.9 L1438.4,1124.9 L1440.0,1124.8 L1441.7,1124.7 L1443.4,1124.7 L1445.2,1124.7 L1447.0,1124.6 L1448.7,1124.6 L1450.5,1124.6 L1452.2,1124.5 L1453.9,1124.5 L1455.6,1124.4 L1457.1,1124.2 L1458.6,1124.0 L1460.0,1123.8 L1461.3,1123.5 L1462.4,1123.2 L1463.5,1122.9 L1464.5,1122.5 L1465.5,1122.1 L1466.4,1121.6 L1467.3,1121.2 L1468.2,1120.7 L1469.1,1120.2 L1470.0,1119.6 L1471.0,1119.1 L1472.0,1118.5 L1473.1,1117.9 L1474.1,1117.2 L1475.2,1116.4 L1476.2,1115.6 L1477.3,1114.8 L1478.3,1114.0 L1479.4,1113.2 L1480.6,1112.4 L1481.8,1111.7 L1483.0,1111.0 L1484.3,1110.3 L1485.6,1109.8 L1487.0,1109.3 L1488.6,1109.0 L1490.2,1108.6 L1491.9,1108.3 L1493.7,1108.1 L1495.5,1107.9 L1497.2,1107.7 L1498.9,1107.5 L1500.6,1107.3 L1502.2,1107.2 L1503.7,1107.0 L1505.0,1106.8 L1506.2,1106.6 L1507.3,1106.5 L1508.3,1106.3 L1509.2,1106.2 L1510.0,1106.1 L1510.8,1106.0 L1511.6,1105.9 L1512.4,1105.7 L1513.2,1105.6 L1514.1,1105.4 L1515.0,1105.1 L1516.0,1104.8 L1517.1,1104.4 L1518.1,1104.0 L1519.2,1103.6 L1520.4,1103.1 L1521.5,1102.5 L1522.7,1102.0 L1523.8,1101.4 L1525.0,1100.9 L1526.3,1100.3 L1527.5,1099.8 L1528.7,1099.3 L1530.0,1098.8 L1531.3,1098.3 L1532.7,1097.8 L1534.1,1097.3 L1535.5,1096.7 L1537.0,1096.2 L1538.4,1095.6 L1539.9,1095.1 L1541.3,1094.7 L1542.7,1094.3 L1544.0,1094.1 L1545.3,1093.9 L1546.5,1093.8 L1547.6,1093.8 L1548.7,1093.9 L1549.7,1094.1 L1550.6,1094.3 L1551.5,1094.6 L1552.4,1095.0 L1553.3,1095.4 L1554.2,1095.9 L1555.1,1096.5 L1556.0,1097.1 L1557.0,1097.8 L1558.0,1098.5 L1559.1,1099.3 L1560.1,1100.2 L1561.2,1101.3 L1562.3,1102.4 L1563.4,1103.5 L1564.5,1104.7 L1565.6,1106.0 L1566.8,1107.2 L1568.0,1108.5 L1569.2,1109.7 L1570.5,1110.9 L1571.8,1112.0 L1573.2,1113.1 L1574.7,1114.3 L1576.2,1115.5 L1577.8,1116.8 L1579.4,1118.0 L1581.1,1119.2 L1582.7,1120.4 L1584.3,1121.5 L1585.9,1122.5 L1587.3,1123.4 L1588.7,1124.3 L1590.0,1125.0 L1591.1,1125.6 L1592.1,1126.1 L1592.9,1126.4 L1593.7,1126.7 L1594.4,1126.9 L1595.1,1127.1 L1595.8,1127.2 L1596.6,1127.3 L1597.4,1127.3 L1598.4,1127.4 L1599.6,1127.4 L1601.0,1127.5 L1602.6,1127.6 L1604.4,1127.6 L1606.3,1127.7 L1608.4,1127.7 L1610.5,1127.7 L1612.8,1127.7 L1615.0,1127.6 L1617.3,1127.5 L1619.6,1127.4 L1621.8,1127.2 L1623.9,1127.0 L1626.0,1126.8 L1627.9,1126.5 L1629.7,1126.3 L1631.5,1126.1 L1633.1,1125.8 L1634.8,1125.5 L1636.5,1125.1 L1638.2,1124.7 L1640.1,1124.2 L1642.0,1123.6 L1644.1,1122.9 L1646.5,1122.0 L1649.0,1121.0 L1651.9,1119.8 L1655.1,1118.3 L1658.6,1116.6 L1662.3,1114.8 L1666.1,1112.9 L1670.0,1110.9 L1673.8,1108.9 L1677.6,1107.0 L1681.2,1105.1 L1684.5,1103.4 L1687.4,1101.8 L1690.0,1100.5 L1692.2,1099.4 L1694.0,1098.4 L1695.6,1097.6 L1696.9,1096.9 L1698.1,1096.2 L1699.1,1095.6 L1700.1,1095.1 L1701.0,1094.6 L1701.9,1094.0 L1702.8,1093.4 L1703.8,1092.8 L1705.0,1092.0 L1706.2,1091.2 L1707.5,1090.4 L1708.8,1089.7 L1710.0,1088.9 L1711.2,1088.1 L1712.5,1087.3 L1713.8,1086.4 L1715.0,1085.5 L1716.2,1084.5 L1717.5,1083.5 L1718.8,1082.4 L1720.0,1081.2 L1721.3,1079.9 L1722.5,1078.6 L1723.8,1077.2 L1725.1,1075.7 L1726.5,1074.1 L1727.8,1072.5 L1729.0,1070.9 L1730.3,1069.2 L1731.5,1067.5 L1732.7,1065.7 L1733.9,1063.9 L1735.0,1062.0 L1736.1,1060.0 L1737.2,1057.9 L1738.2,1055.6 L1739.3,1053.2 L1740.3,1050.7 L1741.3,1048.3 L1742.3,1045.9 L1743.1,1043.6 L1744.0,1041.4 L1744.7,1039.4 L1745.4,1037.6 L1746.0,1036.0 L1746.5,1034.7 L1746.9,1033.5 L1747.2,1032.5 L1747.4,1031.7 L1747.6,1031.0 L1747.7,1030.4 L1747.8,1029.9 L1747.8,1029.4 L1747.9,1029.0 L1747.9,1028.7 L1747.9,1028.3 L1748.0,1028.0 L1748.0,1032.0 L1747.9,1032.3 L1747.9,1032.7 L1747.9,1033.1 L1747.8,1033.5 L1747.8,1034.0 L1747.7,1034.5 L1747.6,1035.1 L1747.4,1035.9 L1747.2,1036.7 L1746.9,1037.6 L1746.5,1038.7 L1746.0,1040.0 L1745.4,1041.5 L1744.7,1043.1 L1744.0,1045.0 L1743.1,1047.0 L1742.3,1049.1 L1741.3,1051.3 L1740.3,1053.5 L1739.3,1055.7 L1738.2,1057.9 L1737.2,1060.1 L1736.1,1062.1 L1735.0,1064.0 L1733.9,1065.8 L1732.7,1067.6 L1731.5,1069.4 L1730.3,1071.1 L1729.0,1072.8 L1727.8,1074.5 L1726.5,1076.2 L1725.1,1077.8 L1723.8,1079.3 L1722.5,1080.8 L1721.3,1082.2 L1720.0,1083.5 L1718.8,1084.7 L1717.5,1085.9 L1716.2,1087.0 L1715.0,1088.0 L1713.8,1089.0 L1712.5,1089.9 L1711.2,1090.8 L1710.0,1091.7 L1708.8,1092.5 L1707.5,1093.3 L1706.2,1094.2 L1705.0,1095.0 L1703.8,1095.8 L1702.8,1096.4 L1701.9,1097.0 L1701.0,1097.5 L1700.1,1098.0 L1699.1,1098.5 L1698.1,1099.0 L1696.9,1099.7 L1695.6,1100.4 L1694.0,1101.2 L1692.2,1102.3 L1690.0,1103.5 L1687.4,1105.0 L1684.5,1106.8 L1681.2,1108.7 L1677.6,1110.9 L1673.8,1113.1 L1670.0,1115.4 L1666.1,1117.7 L1662.3,1120.0 L1658.6,1122.0 L1655.1,1124.0 L1651.9,1125.6 L1649.0,1127.0 L1646.5,1128.1 L1644.1,1129.0 L1642.0,1129.7 L1640.1,1130.3 L1638.2,1130.7 L1636.5,1131.0 L1634.8,1131.3 L1633.1,1131.5 L1631.5,1131.7 L1629.7,1131.9 L1627.9,1132.1 L1626.0,1132.4 L1623.9,1132.7 L1621.8,1133.0 L1619.6,1133.3 L1617.3,1133.5 L1615.0,1133.8 L1612.8,1134.0 L1610.5,1134.2 L1608.4,1134.3 L1606.3,1134.5 L1604.4,1134.6 L1602.6,1134.6 L1601.0,1134.7 L1599.6,1134.8 L1598.4,1134.8 L1597.4,1134.9 L1596.6,1134.9 L1595.8,1135.0 L1595.1,1135.0 L1594.4,1134.9 L1593.7,1134.8 L1592.9,1134.6 L1592.1,1134.3 L1591.1,1133.8 L1590.0,1133.3 L1588.7,1132.6 L1587.3,1131.8 L1585.9,1130.8 L1584.3,1129.8 L1582.7,1128.6 L1581.1,1127.4 L1579.4,1126.2 L1577.8,1124.9 L1576.2,1123.7 L1574.7,1122.4 L1573.2,1121.2 L1571.8,1120.0 L1570.5,1118.8 L1569.2,1117.6 L1568.0,1116.3 L1566.8,1115.1 L1565.6,1113.8 L1564.5,1112.5 L1563.4,1111.3 L1562.3,1110.1 L1561.2,1108.9 L1560.1,1107.8 L1559.1,1106.9 L1558.0,1106.0 L1557.0,1105.2 L1556.0,1104.5 L1555.1,1103.8 L1554.2,1103.2 L1553.3,1102.7 L1552.4,1102.2 L1551.5,1101.7 L1550.6,1101.4 L1549.7,1101.0 L1548.7,1100.8 L1547.6,1100.6 L1546.5,1100.5 L1545.3,1100.5 L1544.0,1100.6 L1542.7,1100.8 L1541.3,1101.1 L1539.9,1101.4 L1538.4,1101.8 L1537.0,1102.2 L1535.5,1102.6 L1534.1,1103.0 L1532.7,1103.4 L1531.3,1103.7 L1530.0,1104.0 L1528.7,1104.2 L1527.5,1104.4 L1526.3,1104.6 L1525.0,1104.8 L1523.8,1104.9 L1522.7,1105.1 L1521.5,1105.2 L1520.4,1105.4 L1519.2,1105.5 L1518.1,1105.7 L1517.1,1105.8 L1516.0,1106.0 L1515.0,1106.2 L1514.1,1106.4 L1513.2,1106.5 L1512.4,1106.7 L1511.6,1106.9 L1510.8,1107.1 L1510.0,1107.3 L1509.2,1107.5 L1508.3,1107.7 L1507.3,1107.9 L1506.2,1108.2 L1505.0,1108.5 L1503.7,1108.8 L1502.2,1109.2 L1500.6,1109.5 L1498.9,1109.9 L1497.2,1110.3 L1495.5,1110.7 L1493.7,1111.1 L1491.9,1111.5 L1490.2,1112.0 L1488.6,1112.5 L1487.0,1113.0 L1485.6,1113.5 L1484.3,1114.1 L1483.0,1114.7 L1481.8,1115.4 L1480.6,1116.1 L1479.4,1116.8 L1478.3,1117.5 L1477.3,1118.2 L1476.2,1118.9 L1475.2,1119.6 L1474.1,1120.3 L1473.1,1120.9 L1472.0,1121.5 L1471.0,1122.0 L1470.0,1122.6 L1469.1,1123.1 L1468.2,1123.5 L1467.3,1124.0 L1466.4,1124.4 L1465.5,1124.9 L1464.5,1125.2 L1463.5,1125.6 L1462.4,1125.9 L1461.3,1126.2 L1460.0,1126.5 L1458.6,1126.7 L1457.1,1126.9 L1455.6,1127.0 L1453.9,1127.1 L1452.2,1127.2 L1450.5,1127.2 L1448.7,1127.3 L1447.0,1127.3 L1445.2,1127.3 L1443.4,1127.4 L1441.7,1127.4 L1440.0,1127.5 L1438.4,1127.6 L1436.8,1127.6 L1435.4,1127.7 L1433.9,1127.8 L1432.4,1127.8 L1430.9,1127.9 L1429.4,1128.0 L1427.8,1128.1 L1426.1,1128.1 L1424.2,1128.2 L1422.2,1128.4 L1420.0,1128.5 L1417.6,1128.6 L1414.9,1128.8 L1412.0,1128.9 L1409.0,1129.1 L1405.8,1129.3 L1402.6,1129.5 L1399.4,1129.7 L1396.3,1129.9 L1393.2,1130.1 L1390.2,1130.4 L1387.5,1130.7 L1385.0,1131.0 L1382.7,1131.4 L1380.5,1131.8 L1378.4,1132.3 L1376.5,1132.8 L1374.6,1133.3 L1372.8,1133.8 L1371.1,1134.4 L1369.4,1134.9 L1367.8,1135.4 L1366.2,1135.8 L1364.6,1136.2 L1363.1,1136.5 L1361.6,1136.7 L1360.2,1136.9 L1358.9,1136.9 L1357.7,1136.9 L1356.5,1136.9 L1355.3,1136.9 L1354.2,1136.9 L1353.0,1136.9 L1351.9,1136.9 L1350.8,1137.0 L1349.6,1137.2 L1348.4,1137.5 L1347.1,1137.9 L1345.8,1138.4 L1344.4,1139.0 L1343.0,1139.6 L1341.6,1140.3 L1340.2,1141.1 L1338.8,1141.8 L1337.6,1142.5 L1336.4,1143.1 L1335.4,1143.7 L1334.5,1144.1 L1333.8,1144.5Z" fill="#8c8c8c" stroke="#8c8c8c" stroke-width="0.8" stroke-linejoin="round"/>
<path d="M1333.8,1144.5 L1334.5,1144.1 L1335.4,1143.7 L1336.4,1143.1 L1337.6,1142.5 L1338.8,1141.8 L1340.2,1141.1 L1341.6,1140.3 L1343.0,1139.6 L1344.4,1139.0 L1345.8,1138.4 L1347.1,1137.9 L1348.4,1137.5 L1349.6,1137.2 L1350.8,1137.0 L1351.9,1136.9 L1353.0,1136.9 L1354.2,1136.9 L1355.3,1136.9 L1356.5,1136.9 L1357.7,1136.9 L1358.9,1136.9 L1360.2,1136.9 L1361.6,1136.7 L1363.1,1136.5 L1364.6,1136.2 L1366.2,1135.8 L1367.8,1135.4 L1369.4,1134.9 L1371.1,1134.4 L1372.8,1133.8 L1374.6,1133.3 L1376.5,1132.8 L1378.4,1132.3 L1380.5,1131.8 L1382.7,1131.4 L1385.0,1131.0 L1387.5,1130.7 L1390.2,1130.4 L1393.2,1130.1 L1396.3,1129.9 L1399.4,1129.7 L1402.6,1129.5 L1405.8,1129.3 L1409.0,1129.1 L1412.0,1128.9 L1414.9,1128.8 L1417.6,1128.6 L1420.0,1128.5 L1422.2,1128.4 L1424.2,1128.2 L1426.1,1128.1 L1427.8,1128.1 L1429.4,1128.0 L1430.9,1127.9 L1432.4,1127.8 L1433.9,1127.8 L1435.4,1127.7 L1436.8,1127.6 L1438.4,1127.6 L1440.0,1127.5 L1441.7,1127.4 L1443.4,1127.4 L1445.2,1127.3 L1447.0,1127.3 L1448.7,1127.3 L1450.5,1127.2 L1452.2,1127.2 L1453.9,1127.1 L1455.6,1127.0 L1457.1,1126.9 L1458.6,1126.7 L1460.0,1126.5 L1461.3,1126.2 L1462.4,1125.9 L1463.5,1125.6 L1464.5,1125.2 L1465.5,1124.9 L1466.4,1124.4 L1467.3,1124.0 L1468.2,1123.5 L1469.1,1123.1 L1470.0,1122.6 L1471.0,1122.0 L1472.0,1121.5 L1473.1,1120.9 L1474.1,1120.3 L1475.2,1119.6 L1476.2,1118.9 L1477.3,1118.2 L1478.3,1117.5 L1479.4,1116.8 L1480.6,1116.1 L1481.8,1115.4 L1483.0,1114.7 L1484.3,1114.1 L1485.6,1113.5 L1487.0,1113.0 L1488.6,1112.5 L1490.2,1112.0 L1491.9,1111.5 L1493.7,1111.1 L1495.5,1110.7 L1497.2,1110.3 L1498.9,1109.9 L1500.6,1109.5 L1502.2,1109.2 L1503.7,1108.8 L1505.0,1108.5 L1506.2,1108.2 L1507.3,1107.9 L1508.3,1107.7 L1509.2,1107.5 L1510.0,1107.3 L1510.8,1107.1 L1511.6,1106.9 L1512.4,1106.7 L1513.2,1106.5 L1514.1,1106.4 L1515.0,1106.2 L1516.0,1106.0 L1517.1,1105.8 L1518.1,1105.7 L1519.2,1105.5 L1520.4,1105.4 L1521.5,1105.2 L1522.7,1105.1 L1523.8,1104.9 L1525.0,1104.8 L1526.3,1104.6 L1527.5,1104.4 L1528.7,1104.2 L1530.0,1104.0 L1531.3,1103.7 L1532.7,1103.4 L1534.1,1103.0 L1535.5,1102.6 L1537.0,1102.2 L1538.4,1101.8 L1539.9,1101.4 L1541.3,1101.1 L1542.7,1100.8 L1544.0,1100.6 L1545.3,1100.5 L1546.5,1100.5 L1547.6,1100.6 L1548.7,1100.8 L1549.7,1101.0 L1550.6,1101.4 L1551.5,1101.7 L1552.4,1102.2 L1553.3,1102.7 L1554.2,1103.2 L1555.1,1103.8 L1556.0,1104.5 L1557.0,1105.2 L1558.0,1106.0 L1559.1,1106.9 L1560.1,1107.8 L1561.2,1108.9 L1562.3,1110.1 L1563.4,1111.3 L1564.5,1112.5 L1565.6,1113.8 L1566.8,1115.1 L1568.0,1116.3 L1569.2,1117.6 L1570.5,1118.8 L1571.8,1120.0 L1573.2,1121.2 L1574.7,1122.4 L1576.2,1123.7 L1577.8,1124.9 L1579.4,1126.2 L1581.1,1127.4 L1582.7,1128.6 L1584.3,1129.8 L1585.9,1130.8 L1587.3,1131.8 L1588.7,1132.6 L1590.0,1133.3 L1591.1,1133.8 L1592.1,1134.3 L1592.9,1134.6 L1593.7,1134.8 L1594.4,1134.9 L1595.1,1135.0 L1595.8,1135.0 L1596.6,1134.9 L1597.4,1134.9 L1598.4,1134.8 L1599.6,1134.8 L1601.0,1134.7 L1602.6,1134.6 L1604.4,1134.6 L1606.3,1134.5 L1608.4,1134.3 L1610.5,1134.2 L1612.8,1134.0 L1615.0,1133.8 L1617.3,1133.5 L1619.6,1133.3 L1621.8,1133.0 L1623.9,1132.7 L1626.0,1132.4 L1627.9,1132.1 L1629.7,1131.9 L1631.5,1131.7 L1633.1,1131.5 L1634.8,1131.3 L1636.5,1131.0 L1638.2,1130.7 L1640.1,1130.3 L1642.0,1129.7 L1644.1,1129.0 L1646.5,1128.1 L1649.0,1127.0 L1651.9,1125.6 L1655.1,1124.0 L1658.6,1122.0 L1662.3,1120.0 L1666.1,1117.7 L1670.0,1115.4 L1673.8,1113.1 L1677.6,1110.9 L1681.2,1108.7 L1684.5,1106.8 L1687.4,1105.0 L1690.0,1103.5 L1692.2,1102.3 L1694.0,1101.2 L1695.6,1100.4 L1696.9,1099.7 L1698.1,1099.0 L1699.1,1098.5 L1700.1,1098.0 L1701.0,1097.5 L1701.9,1097.0 L1702.8,1096.4 L1703.8,1095.8 L1705.0,1095.0 L1706.2,1094.2 L1707.5,1093.3 L1708.8,1092.5 L1710.0,1091.7 L1711.2,1090.8 L1712.5,1089.9 L1713.8,1089.0 L1715.0,1088.0 L1716.2,1087.0 L1717.5,1085.9 L1718.8,1084.7 L1720.0,1083.5 L1721.3,1082.2 L1722.5,1080.8 L1723.8,1079.3 L1725.1,1077.8 L1726.5,1076.2 L1727.8,1074.5 L1729.0,1072.8 L1730.3,1071.1 L1731.5,1069.4 L1732.7,1067.6 L1733.9,1065.8 L1735.0,1064.0 L1736.1,1062.1 L1737.2,1060.1 L1738.2,1057.9 L1739.3,1055.7 L1740.3,1053.5 L1741.3,1051.3 L1742.3,1049.1 L1743.1,1047.0 L1744.0,1045.0 L1744.7,1043.1 L1745.4,1041.5 L1746.0,1040.0 L1746.5,1038.7 L1746.9,1037.6 L1747.2,1036.7 L1747.4,1035.9 L1747.6,1035.1 L1747.7,1034.5 L1747.8,1034.0 L1747.8,1033.5 L1747.9,1033.1 L1747.9,1032.7 L1747.9,1032.3 L1748.0,1032.0 L1748.0,1046.0 L1747.9,1046.5 L1747.9,1047.0 L1747.9,1047.6 L1747.8,1048.3 L1747.8,1049.0 L1747.7,1049.8 L1747.6,1050.7 L1747.4,1051.6 L1747.2,1052.6 L1746.9,1053.7 L1746.5,1054.8 L1746.0,1056.0 L1745.4,1057.3 L1744.7,1058.6 L1744.0,1060.1 L1743.1,1061.7 L1742.3,1063.3 L1741.3,1064.9 L1740.3,1066.6 L1739.3,1068.3 L1738.2,1070.0 L1737.2,1071.7 L1736.1,1073.4 L1735.0,1075.0 L1733.9,1076.6 L1732.7,1078.2 L1731.5,1079.9 L1730.3,1081.6 L1729.0,1083.3 L1727.8,1084.9 L1726.5,1086.6 L1725.1,1088.2 L1723.8,1089.7 L1722.5,1091.2 L1721.3,1092.7 L1720.0,1094.0 L1718.8,1095.3 L1717.5,1096.4 L1716.2,1097.6 L1715.0,1098.6 L1713.8,1099.6 L1712.5,1100.6 L1711.2,1101.5 L1710.0,1102.4 L1708.8,1103.3 L1707.5,1104.2 L1706.2,1105.1 L1705.0,1106.0 L1703.8,1106.9 L1702.8,1107.6 L1701.9,1108.3 L1701.0,1109.0 L1700.1,1109.7 L1699.1,1110.3 L1698.1,1111.0 L1696.9,1111.8 L1695.6,1112.6 L1694.0,1113.4 L1692.2,1114.4 L1690.0,1115.5 L1687.4,1116.8 L1684.5,1118.2 L1681.2,1119.8 L1677.6,1121.5 L1673.8,1123.3 L1670.0,1125.1 L1666.1,1126.8 L1662.3,1128.5 L1658.6,1130.1 L1655.1,1131.6 L1651.9,1132.9 L1649.0,1134.0 L1646.5,1134.9 L1644.1,1135.6 L1642.0,1136.2 L1640.1,1136.7 L1638.2,1137.0 L1636.5,1137.3 L1634.8,1137.6 L1633.1,1137.8 L1631.5,1138.0 L1629.7,1138.2 L1627.9,1138.4 L1626.0,1138.6 L1623.9,1138.9 L1621.8,1139.1 L1619.6,1139.3 L1617.3,1139.5 L1615.0,1139.7 L1612.8,1139.8 L1610.5,1140.0 L1608.4,1140.1 L1606.3,1140.2 L1604.4,1140.3 L1602.6,1140.4 L1601.0,1140.4 L1599.6,1140.4 L1598.4,1140.5 L1597.4,1140.5 L1596.6,1140.6 L1595.8,1140.6 L1595.1,1140.6 L1594.4,1140.5 L1593.7,1140.4 L1592.9,1140.3 L1592.1,1140.1 L1591.1,1139.8 L1590.0,1139.5 L1588.7,1139.1 L1587.3,1138.6 L1585.9,1138.1 L1584.3,1137.5 L1582.7,1136.8 L1581.1,1136.2 L1579.4,1135.4 L1577.8,1134.7 L1576.2,1133.9 L1574.7,1133.1 L1573.2,1132.3 L1571.8,1131.5 L1570.5,1130.6 L1569.2,1129.7 L1568.0,1128.8 L1566.8,1127.8 L1565.6,1126.7 L1564.5,1125.7 L1563.4,1124.6 L1562.3,1123.6 L1561.2,1122.6 L1560.1,1121.7 L1559.1,1120.8 L1558.0,1120.0 L1557.0,1119.3 L1556.0,1118.5 L1555.1,1117.9 L1554.2,1117.2 L1553.3,1116.6 L1552.4,1116.1 L1551.5,1115.5 L1550.6,1115.0 L1549.7,1114.5 L1548.7,1114.0 L1547.6,1113.6 L1546.5,1113.2 L1545.3,1112.8 L1544.0,1112.5 L1542.7,1112.2 L1541.3,1111.9 L1539.9,1111.7 L1538.4,1111.5 L1537.0,1111.3 L1535.5,1111.1 L1534.1,1111.0 L1532.7,1110.8 L1531.3,1110.7 L1530.0,1110.5 L1528.7,1110.3 L1527.5,1110.2 L1526.3,1110.0 L1525.0,1109.9 L1523.8,1109.7 L1522.7,1109.6 L1521.5,1109.5 L1520.4,1109.4 L1519.2,1109.4 L1518.1,1109.4 L1517.1,1109.4 L1516.0,1109.5 L1515.0,1109.6 L1514.1,1109.8 L1513.2,1110.1 L1512.4,1110.4 L1511.6,1110.7 L1510.8,1111.0 L1510.0,1111.4 L1509.2,1111.8 L1508.3,1112.2 L1507.3,1112.6 L1506.2,1113.0 L1505.0,1113.5 L1503.7,1114.0 L1502.2,1114.5 L1500.6,1115.1 L1498.9,1115.6 L1497.2,1116.2 L1495.5,1116.8 L1493.7,1117.5 L1491.9,1118.1 L1490.2,1118.7 L1488.6,1119.3 L1487.0,1119.9 L1485.6,1120.4 L1484.3,1120.9 L1483.0,1121.4 L1481.8,1121.9 L1480.6,1122.4 L1479.4,1122.9 L1478.3,1123.4 L1477.3,1123.8 L1476.2,1124.3 L1475.2,1124.7 L1474.1,1125.2 L1473.1,1125.6 L1472.0,1126.0 L1471.0,1126.4 L1470.0,1126.8 L1469.1,1127.1 L1468.2,1127.5 L1467.3,1127.9 L1466.4,1128.2 L1465.5,1128.5 L1464.5,1128.8 L1463.5,1129.1 L1462.4,1129.4 L1461.3,1129.7 L1460.0,1130.0 L1458.6,1130.3 L1457.1,1130.5 L1455.6,1130.8 L1453.9,1131.0 L1452.2,1131.2 L1450.5,1131.5 L1448.7,1131.7 L1447.0,1131.9 L1445.2,1132.0 L1443.4,1132.2 L1441.7,1132.4 L1440.0,1132.5 L1438.4,1132.6 L1436.8,1132.7 L1435.4,1132.7 L1433.9,1132.8 L1432.4,1132.8 L1430.9,1132.8 L1429.4,1132.8 L1427.8,1132.8 L1426.1,1132.9 L1424.2,1133.0 L1422.2,1133.1 L1420.0,1133.2 L1417.6,1133.4 L1414.9,1133.6 L1412.0,1133.8 L1409.0,1134.1 L1405.8,1134.3 L1402.6,1134.6 L1399.4,1134.9 L1396.3,1135.2 L1393.2,1135.5 L1390.2,1135.9 L1387.5,1136.2 L1385.0,1136.5 L1382.7,1136.8 L1380.5,1137.2 L1378.4,1137.6 L1376.5,1138.1 L1374.6,1138.5 L1372.8,1138.9 L1371.1,1139.4 L1369.4,1139.8 L1367.8,1140.1 L1366.2,1140.5 L1364.6,1140.8 L1363.1,1141.0 L1361.6,1141.1 L1360.2,1141.2 L1358.9,1141.2 L1357.7,1141.2 L1356.5,1141.1 L1355.3,1141.0 L1354.2,1140.9 L1353.0,1140.9 L1351.9,1140.8 L1350.8,1140.9 L1349.6,1141.0 L1348.4,1141.2 L1347.1,1141.5 L1345.8,1141.9 L1344.4,1142.4 L1343.0,1143.0 L1341.6,1143.6 L1340.2,1144.2 L1338.8,1144.8 L1337.6,1145.4 L1336.4,1146.0 L1335.4,1146.5 L1334.5,1146.9 L1333.8,1147.2Z" fill="#111" stroke="#111" stroke-width="0.8" stroke-linejoin="round"/>
<path d="M1055.0,1328.0C1055.1,1323.3 1055.4,1308.8 1055.6,1300.0C1055.8,1291.2 1055.9,1283.8 1056.3,1275.0C1056.7,1266.2 1057.1,1254.4 1057.9,1247.0C1058.7,1239.6 1059.9,1236.1 1061.3,1230.5C1062.7,1224.9 1064.8,1218.1 1066.5,1213.5C1068.2,1208.9 1069.5,1206.3 1071.4,1203.0C1073.4,1199.7 1075.2,1196.4 1078.2,1193.5C1081.2,1190.6 1084.7,1187.8 1089.4,1185.5C1094.1,1183.2 1099.7,1181.5 1106.3,1179.8C1112.9,1178.0 1119.5,1176.7 1128.9,1175.0C1138.3,1173.3 1151.4,1171.4 1162.7,1169.7C1174.0,1168.0 1185.2,1166.1 1196.5,1164.6C1207.8,1163.1 1218.4,1162.1 1230.3,1160.7C1242.2,1159.3 1256.8,1157.7 1267.9,1156.4C1279.1,1155.1 1288.7,1153.8 1297.2,1152.7C1305.8,1151.6 1313.1,1151.0 1319.2,1149.8C1325.3,1148.6 1331.4,1146.2 1333.8,1145.5" fill="none" stroke="#111" stroke-width="3.00" stroke-linecap="round" stroke-linejoin="round"/>
<path d="M1058.6,1270.0C1058.6,1280.0 1058.5,1308.3 1058.4,1330.0C1058.3,1351.7 1058.0,1385.0 1057.8,1400.0C1057.6,1415.0 1057.3,1416.7 1057.2,1420.0" fill="none" stroke="#9a9a9a" stroke-width="2.20" stroke-linecap="round" stroke-linejoin="round"/>
<path d="M1056.6,1400.0C1056.5,1410.0 1056.3,1440.3 1056.2,1460.0C1056.1,1479.7 1055.9,1508.3 1055.8,1518.0" fill="none" stroke="#2a2a2a" stroke-width="2.40" stroke-linecap="round" stroke-linejoin="round"/>
<path d="M1058.6,1270.0C1058.8,1266.7 1059.1,1255.7 1059.5,1250.0C1059.9,1244.3 1060.8,1238.3 1061.0,1236.0" fill="none" stroke="#9a9a9a" stroke-width="1.80" stroke-linecap="round" stroke-linejoin="round"/>
<path d="M1055.3,1240.0C1055.3,1255.0 1055.3,1315.0 1055.3,1330.0" fill="none" stroke="#333" stroke-width="2.00" stroke-linecap="round" stroke-linejoin="round"/>
</g>
</svg>
</body></html>
